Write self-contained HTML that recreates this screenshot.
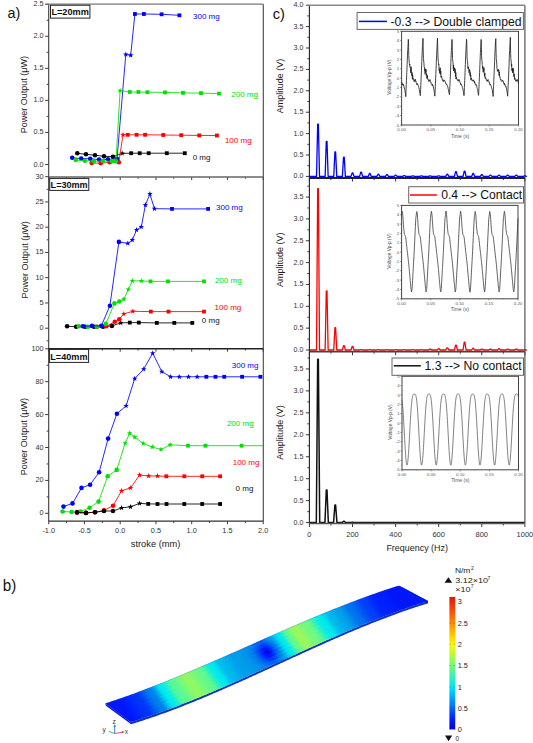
<!DOCTYPE html><html><head><meta charset="utf-8"><style>html,body{margin:0;padding:0;background:#fff;overflow:hidden}svg text{font-family:"Liberation Sans",sans-serif}</style></head><body><svg width="533" height="743" viewBox="0 0 533 743" style="display:block" font-family='"Liberation Sans", sans-serif'>
<rect x="0" y="0" width="533" height="743" fill="#ffffff"/>
<line x1="45.2" y1="164.5" x2="48.7" y2="164.5" stroke="#3a3a3a" stroke-width="1"/>
<line x1="46.7" y1="148.47" x2="48.7" y2="148.47" stroke="#3a3a3a" stroke-width="1"/>
<line x1="45.2" y1="132.45" x2="48.7" y2="132.45" stroke="#3a3a3a" stroke-width="1"/>
<line x1="46.7" y1="116.43" x2="48.7" y2="116.43" stroke="#3a3a3a" stroke-width="1"/>
<line x1="45.2" y1="100.4" x2="48.7" y2="100.4" stroke="#3a3a3a" stroke-width="1"/>
<line x1="46.7" y1="84.38" x2="48.7" y2="84.38" stroke="#3a3a3a" stroke-width="1"/>
<line x1="45.2" y1="68.35" x2="48.7" y2="68.35" stroke="#3a3a3a" stroke-width="1"/>
<line x1="46.7" y1="52.33" x2="48.7" y2="52.33" stroke="#3a3a3a" stroke-width="1"/>
<line x1="45.2" y1="36.3" x2="48.7" y2="36.3" stroke="#3a3a3a" stroke-width="1"/>
<line x1="46.7" y1="20.28" x2="48.7" y2="20.28" stroke="#3a3a3a" stroke-width="1"/>
<line x1="45.2" y1="4.25" x2="48.7" y2="4.25" stroke="#3a3a3a" stroke-width="1"/>
<text x="43.6" y="166.5" font-size="7.3" fill="#333" text-anchor="end" font-weight="normal" >0.0</text>
<text x="43.6" y="134.45" font-size="7.3" fill="#333" text-anchor="end" font-weight="normal" >0.5</text>
<text x="43.6" y="102.4" font-size="7.3" fill="#333" text-anchor="end" font-weight="normal" >1.0</text>
<text x="43.6" y="70.35" font-size="7.3" fill="#333" text-anchor="end" font-weight="normal" >1.5</text>
<text x="43.6" y="38.3" font-size="7.3" fill="#333" text-anchor="end" font-weight="normal" >2.0</text>
<text x="43.6" y="6.25" font-size="7.3" fill="#333" text-anchor="end" font-weight="normal" >2.5</text>
<line x1="48.7" y1="177" x2="48.7" y2="180" stroke="#3a3a3a" stroke-width="1"/>
<line x1="66.58" y1="177" x2="66.58" y2="178.8" stroke="#3a3a3a" stroke-width="1"/>
<line x1="84.45" y1="177" x2="84.45" y2="180" stroke="#3a3a3a" stroke-width="1"/>
<line x1="102.33" y1="177" x2="102.33" y2="178.8" stroke="#3a3a3a" stroke-width="1"/>
<line x1="120.2" y1="177" x2="120.2" y2="180" stroke="#3a3a3a" stroke-width="1"/>
<line x1="138.07" y1="177" x2="138.07" y2="178.8" stroke="#3a3a3a" stroke-width="1"/>
<line x1="155.95" y1="177" x2="155.95" y2="180" stroke="#3a3a3a" stroke-width="1"/>
<line x1="173.82" y1="177" x2="173.82" y2="178.8" stroke="#3a3a3a" stroke-width="1"/>
<line x1="191.7" y1="177" x2="191.7" y2="180" stroke="#3a3a3a" stroke-width="1"/>
<line x1="209.57" y1="177" x2="209.57" y2="178.8" stroke="#3a3a3a" stroke-width="1"/>
<line x1="227.45" y1="177" x2="227.45" y2="180" stroke="#3a3a3a" stroke-width="1"/>
<line x1="245.32" y1="177" x2="245.32" y2="178.8" stroke="#3a3a3a" stroke-width="1"/>
<line x1="263.2" y1="177" x2="263.2" y2="180" stroke="#3a3a3a" stroke-width="1"/>
<text transform="translate(27.0,94.7) rotate(-90)" font-size="9" fill="#222" text-anchor="middle">Power Output (μW)</text>
<line x1="46.7" y1="340.82" x2="48.7" y2="340.82" stroke="#3a3a3a" stroke-width="1"/>
<line x1="45.2" y1="328.2" x2="48.7" y2="328.2" stroke="#3a3a3a" stroke-width="1"/>
<line x1="46.7" y1="315.57" x2="48.7" y2="315.57" stroke="#3a3a3a" stroke-width="1"/>
<line x1="45.2" y1="302.95" x2="48.7" y2="302.95" stroke="#3a3a3a" stroke-width="1"/>
<line x1="46.7" y1="290.32" x2="48.7" y2="290.32" stroke="#3a3a3a" stroke-width="1"/>
<line x1="45.2" y1="277.7" x2="48.7" y2="277.7" stroke="#3a3a3a" stroke-width="1"/>
<line x1="46.7" y1="265.07" x2="48.7" y2="265.07" stroke="#3a3a3a" stroke-width="1"/>
<line x1="45.2" y1="252.45" x2="48.7" y2="252.45" stroke="#3a3a3a" stroke-width="1"/>
<line x1="46.7" y1="239.82" x2="48.7" y2="239.82" stroke="#3a3a3a" stroke-width="1"/>
<line x1="45.2" y1="227.2" x2="48.7" y2="227.2" stroke="#3a3a3a" stroke-width="1"/>
<line x1="46.7" y1="214.57" x2="48.7" y2="214.57" stroke="#3a3a3a" stroke-width="1"/>
<line x1="45.2" y1="201.95" x2="48.7" y2="201.95" stroke="#3a3a3a" stroke-width="1"/>
<line x1="46.7" y1="189.32" x2="48.7" y2="189.32" stroke="#3a3a3a" stroke-width="1"/>
<line x1="45.2" y1="176.7" x2="48.7" y2="176.7" stroke="#3a3a3a" stroke-width="1"/>
<text x="43.6" y="330.2" font-size="7.3" fill="#333" text-anchor="end" font-weight="normal" >0</text>
<text x="43.6" y="304.95" font-size="7.3" fill="#333" text-anchor="end" font-weight="normal" >5</text>
<text x="43.6" y="279.7" font-size="7.3" fill="#333" text-anchor="end" font-weight="normal" >10</text>
<text x="43.6" y="254.45" font-size="7.3" fill="#333" text-anchor="end" font-weight="normal" >15</text>
<text x="43.6" y="229.2" font-size="7.3" fill="#333" text-anchor="end" font-weight="normal" >20</text>
<text x="43.6" y="203.95" font-size="7.3" fill="#333" text-anchor="end" font-weight="normal" >25</text>
<text x="43.6" y="178.7" font-size="7.3" fill="#333" text-anchor="end" font-weight="normal" >30</text>
<line x1="48.7" y1="348.7" x2="48.7" y2="351.7" stroke="#3a3a3a" stroke-width="1"/>
<line x1="66.58" y1="348.7" x2="66.58" y2="350.5" stroke="#3a3a3a" stroke-width="1"/>
<line x1="84.45" y1="348.7" x2="84.45" y2="351.7" stroke="#3a3a3a" stroke-width="1"/>
<line x1="102.33" y1="348.7" x2="102.33" y2="350.5" stroke="#3a3a3a" stroke-width="1"/>
<line x1="120.2" y1="348.7" x2="120.2" y2="351.7" stroke="#3a3a3a" stroke-width="1"/>
<line x1="138.07" y1="348.7" x2="138.07" y2="350.5" stroke="#3a3a3a" stroke-width="1"/>
<line x1="155.95" y1="348.7" x2="155.95" y2="351.7" stroke="#3a3a3a" stroke-width="1"/>
<line x1="173.82" y1="348.7" x2="173.82" y2="350.5" stroke="#3a3a3a" stroke-width="1"/>
<line x1="191.7" y1="348.7" x2="191.7" y2="351.7" stroke="#3a3a3a" stroke-width="1"/>
<line x1="209.57" y1="348.7" x2="209.57" y2="350.5" stroke="#3a3a3a" stroke-width="1"/>
<line x1="227.45" y1="348.7" x2="227.45" y2="351.7" stroke="#3a3a3a" stroke-width="1"/>
<line x1="245.32" y1="348.7" x2="245.32" y2="350.5" stroke="#3a3a3a" stroke-width="1"/>
<line x1="263.2" y1="348.7" x2="263.2" y2="351.7" stroke="#3a3a3a" stroke-width="1"/>
<text transform="translate(27.6,259.8) rotate(-90)" font-size="9" fill="#222" text-anchor="middle">Power Output (μW)</text>
<line x1="45.2" y1="513.3" x2="48.7" y2="513.3" stroke="#3a3a3a" stroke-width="1"/>
<line x1="46.7" y1="496.85" x2="48.7" y2="496.85" stroke="#3a3a3a" stroke-width="1"/>
<line x1="45.2" y1="480.4" x2="48.7" y2="480.4" stroke="#3a3a3a" stroke-width="1"/>
<line x1="46.7" y1="463.95" x2="48.7" y2="463.95" stroke="#3a3a3a" stroke-width="1"/>
<line x1="45.2" y1="447.5" x2="48.7" y2="447.5" stroke="#3a3a3a" stroke-width="1"/>
<line x1="46.7" y1="431.05" x2="48.7" y2="431.05" stroke="#3a3a3a" stroke-width="1"/>
<line x1="45.2" y1="414.6" x2="48.7" y2="414.6" stroke="#3a3a3a" stroke-width="1"/>
<line x1="46.7" y1="398.15" x2="48.7" y2="398.15" stroke="#3a3a3a" stroke-width="1"/>
<line x1="45.2" y1="381.7" x2="48.7" y2="381.7" stroke="#3a3a3a" stroke-width="1"/>
<line x1="46.7" y1="365.25" x2="48.7" y2="365.25" stroke="#3a3a3a" stroke-width="1"/>
<line x1="45.2" y1="348.8" x2="48.7" y2="348.8" stroke="#3a3a3a" stroke-width="1"/>
<text x="43.6" y="515.3" font-size="7.3" fill="#333" text-anchor="end" font-weight="normal" >0</text>
<text x="43.6" y="482.4" font-size="7.3" fill="#333" text-anchor="end" font-weight="normal" >20</text>
<text x="43.6" y="449.5" font-size="7.3" fill="#333" text-anchor="end" font-weight="normal" >40</text>
<text x="43.6" y="416.6" font-size="7.3" fill="#333" text-anchor="end" font-weight="normal" >60</text>
<text x="43.6" y="383.7" font-size="7.3" fill="#333" text-anchor="end" font-weight="normal" >80</text>
<text x="43.6" y="350.8" font-size="7.3" fill="#333" text-anchor="end" font-weight="normal" >100</text>
<line x1="48.7" y1="521.2" x2="48.7" y2="524.2" stroke="#3a3a3a" stroke-width="1"/>
<line x1="66.58" y1="521.2" x2="66.58" y2="523" stroke="#3a3a3a" stroke-width="1"/>
<line x1="84.45" y1="521.2" x2="84.45" y2="524.2" stroke="#3a3a3a" stroke-width="1"/>
<line x1="102.33" y1="521.2" x2="102.33" y2="523" stroke="#3a3a3a" stroke-width="1"/>
<line x1="120.2" y1="521.2" x2="120.2" y2="524.2" stroke="#3a3a3a" stroke-width="1"/>
<line x1="138.07" y1="521.2" x2="138.07" y2="523" stroke="#3a3a3a" stroke-width="1"/>
<line x1="155.95" y1="521.2" x2="155.95" y2="524.2" stroke="#3a3a3a" stroke-width="1"/>
<line x1="173.82" y1="521.2" x2="173.82" y2="523" stroke="#3a3a3a" stroke-width="1"/>
<line x1="191.7" y1="521.2" x2="191.7" y2="524.2" stroke="#3a3a3a" stroke-width="1"/>
<line x1="209.57" y1="521.2" x2="209.57" y2="523" stroke="#3a3a3a" stroke-width="1"/>
<line x1="227.45" y1="521.2" x2="227.45" y2="524.2" stroke="#3a3a3a" stroke-width="1"/>
<line x1="245.32" y1="521.2" x2="245.32" y2="523" stroke="#3a3a3a" stroke-width="1"/>
<line x1="263.2" y1="521.2" x2="263.2" y2="524.2" stroke="#3a3a3a" stroke-width="1"/>
<text transform="translate(26.8,436.6) rotate(-90)" font-size="9" fill="#222" text-anchor="middle">Power Output (μW)</text>
<line x1="48.7" y1="4.2" x2="48.7" y2="521.2" stroke="#3a3a3a" stroke-width="1.1"/>
<line x1="263.3" y1="4.2" x2="263.3" y2="521.2" stroke="#444" stroke-width="1.1"/>
<line x1="45.7" y1="4.2" x2="263.3" y2="4.2" stroke="#777" stroke-width="1.3"/>
<line x1="48.7" y1="177" x2="263.3" y2="177" stroke="#666" stroke-width="1.6"/>
<line x1="48.7" y1="348.7" x2="263.3" y2="348.7" stroke="#222" stroke-width="1.6"/>
<line x1="48.7" y1="521.2" x2="263.3" y2="521.2" stroke="#333" stroke-width="1.2"/>
<text x="48.7" y="533.2" font-size="7.3" fill="#333" text-anchor="middle" font-weight="normal" >-1.0</text>
<text x="84.45" y="533.2" font-size="7.3" fill="#333" text-anchor="middle" font-weight="normal" >-0.5</text>
<text x="120.2" y="533.2" font-size="7.3" fill="#333" text-anchor="middle" font-weight="normal" >0.0</text>
<text x="155.95" y="533.2" font-size="7.3" fill="#333" text-anchor="middle" font-weight="normal" >0.5</text>
<text x="191.7" y="533.2" font-size="7.3" fill="#333" text-anchor="middle" font-weight="normal" >1.0</text>
<text x="227.45" y="533.2" font-size="7.3" fill="#333" text-anchor="middle" font-weight="normal" >1.5</text>
<text x="263.2" y="533.2" font-size="7.3" fill="#333" text-anchor="middle" font-weight="normal" >2.0</text>
<text x="155.6" y="547" font-size="9.3" fill="#222" text-anchor="middle" font-weight="normal" >stroke (mm)</text>
<path d="M77.3,153.3 L86,154.3 L95,155.2 L104,156.3 L113,156.7 L122.2,153.4 L131.2,153.2 L139.7,153.2 L148.7,153.2 L166.8,153.2 L184.8,153.2" fill="none" stroke="#000000" stroke-width="0.85"/>
<circle cx="77.3" cy="153.3" r="2.3" fill="#000000"/>
<circle cx="86" cy="154.3" r="2.3" fill="#000000"/>
<circle cx="95" cy="155.2" r="2.3" fill="#000000"/>
<circle cx="104" cy="156.3" r="2.3" fill="#000000"/>
<circle cx="113" cy="156.7" r="2.3" fill="#000000"/>
<polygon points="122.2,150.5 122.91,152.43 124.96,152.5 123.34,153.77 123.9,155.75 122.2,154.6 120.5,155.75 121.06,153.77 119.44,152.5 121.49,152.43" fill="#000000"/>
<rect x="129.3" y="151.3" width="3.8" height="3.8" fill="#000000"/>
<rect x="137.8" y="151.3" width="3.8" height="3.8" fill="#000000"/>
<rect x="146.8" y="151.3" width="3.8" height="3.8" fill="#000000"/>
<rect x="164.9" y="151.3" width="3.8" height="3.8" fill="#000000"/>
<rect x="182.9" y="151.3" width="3.8" height="3.8" fill="#000000"/>
<path d="M91.7,163 L100.7,163.3 L109.8,162.3 L118.8,162.3 L123,134.8 L127.8,134.8 L136.6,134.8 L145.1,134.8 L163.2,135 L181.2,135.2 L199.2,135.4 L216.9,135.5" fill="none" stroke="#ff0000" stroke-width="0.85"/>
<circle cx="91.7" cy="163" r="2.3" fill="#ff0000"/>
<circle cx="100.7" cy="163.3" r="2.3" fill="#ff0000"/>
<circle cx="109.8" cy="162.3" r="2.3" fill="#ff0000"/>
<circle cx="118.8" cy="162.3" r="2.3" fill="#ff0000"/>
<polygon points="123,131.9 123.71,133.83 125.76,133.9 124.14,135.17 124.7,137.15 123,136 121.3,137.15 121.86,135.17 120.24,133.9 122.29,133.83" fill="#ff0000"/>
<rect x="125.9" y="132.9" width="3.8" height="3.8" fill="#ff0000"/>
<rect x="134.7" y="132.9" width="3.8" height="3.8" fill="#ff0000"/>
<rect x="143.2" y="132.9" width="3.8" height="3.8" fill="#ff0000"/>
<rect x="161.3" y="133.1" width="3.8" height="3.8" fill="#ff0000"/>
<rect x="179.3" y="133.3" width="3.8" height="3.8" fill="#ff0000"/>
<rect x="197.3" y="133.5" width="3.8" height="3.8" fill="#ff0000"/>
<rect x="215" y="133.6" width="3.8" height="3.8" fill="#ff0000"/>
<path d="M72.2,157.8 L81.2,158.5 L90.2,158.8 L99,159.6 L108,159.3 L117,159 L125.8,54.4 L130.7,55.3 L134.9,14 L143.9,14 L161.6,14.3 L179.4,15.3" fill="none" stroke="#0000ff" stroke-width="0.85"/>
<circle cx="72.2" cy="157.8" r="2.3" fill="#0000ff"/>
<circle cx="81.2" cy="158.5" r="2.3" fill="#0000ff"/>
<circle cx="90.2" cy="158.8" r="2.3" fill="#0000ff"/>
<circle cx="99" cy="159.6" r="2.3" fill="#0000ff"/>
<circle cx="108" cy="159.3" r="2.3" fill="#0000ff"/>
<circle cx="117" cy="159" r="2.3" fill="#0000ff"/>
<polygon points="125.8,51.5 126.51,53.43 128.56,53.5 126.94,54.77 127.5,56.75 125.8,55.6 124.1,56.75 124.66,54.77 123.04,53.5 125.09,53.43" fill="#0000ff"/>
<polygon points="130.7,52.4 131.41,54.33 133.46,54.4 131.84,55.67 132.4,57.65 130.7,56.5 129,57.65 129.56,55.67 127.94,54.4 129.99,54.33" fill="#0000ff"/>
<rect x="133" y="12.1" width="3.8" height="3.8" fill="#0000ff"/>
<rect x="142" y="12.1" width="3.8" height="3.8" fill="#0000ff"/>
<rect x="159.7" y="12.4" width="3.8" height="3.8" fill="#0000ff"/>
<rect x="177.5" y="13.4" width="3.8" height="3.8" fill="#0000ff"/>
<path d="M75.8,160 L84.8,160.8 L93.8,161.2 L102.8,161 L111.9,161.2 L116,161.2 L120.1,90.6 L129.8,92 L138.4,92 L147.4,92.2 L165,92.4 L183,92.9 L201,93.1 L219,93.6" fill="none" stroke="#00e000" stroke-width="0.85"/>
<circle cx="75.8" cy="160" r="2.3" fill="#00e000"/>
<circle cx="84.8" cy="160.8" r="2.3" fill="#00e000"/>
<circle cx="93.8" cy="161.2" r="2.3" fill="#00e000"/>
<circle cx="102.8" cy="161" r="2.3" fill="#00e000"/>
<circle cx="111.9" cy="161.2" r="2.3" fill="#00e000"/>
<circle cx="116" cy="161.2" r="2.3" fill="#00e000"/>
<polygon points="120.1,87.7 120.81,89.63 122.86,89.7 121.24,90.97 121.8,92.95 120.1,91.8 118.4,92.95 118.96,90.97 117.34,89.7 119.39,89.63" fill="#00e000"/>
<rect x="127.9" y="90.1" width="3.8" height="3.8" fill="#00e000"/>
<rect x="136.5" y="90.1" width="3.8" height="3.8" fill="#00e000"/>
<rect x="145.5" y="90.3" width="3.8" height="3.8" fill="#00e000"/>
<rect x="163.1" y="90.5" width="3.8" height="3.8" fill="#00e000"/>
<rect x="181.1" y="91" width="3.8" height="3.8" fill="#00e000"/>
<rect x="199.1" y="91.2" width="3.8" height="3.8" fill="#00e000"/>
<rect x="217.1" y="91.7" width="3.8" height="3.8" fill="#00e000"/>
<text x="193" y="19.4" font-size="8" fill="#0000ff" text-anchor="start" font-weight="normal" >300 mg</text>
<text x="231.3" y="96.9" font-size="8" fill="#00e000" text-anchor="start" font-weight="normal" >200 mg</text>
<text x="224.9" y="142.5" font-size="8" fill="#ff0000" text-anchor="start" font-weight="normal" >100 mg</text>
<text x="192.7" y="159.7" font-size="8" fill="#111" text-anchor="start" font-weight="normal" >0 mg</text>
<path d="M67.1,326.3 L76.1,326.7 L85.1,326.7 L94.1,326.7 L103.1,326.7 L111.9,325.9 L120.8,322.9 L129.8,322.6 L138.8,322.6 L156.8,322.9 L174.3,322.9 L192.3,322.9" fill="none" stroke="#000000" stroke-width="0.85"/>
<circle cx="67.1" cy="326.3" r="2.3" fill="#000000"/>
<circle cx="76.1" cy="326.7" r="2.3" fill="#000000"/>
<circle cx="85.1" cy="326.7" r="2.3" fill="#000000"/>
<circle cx="94.1" cy="326.7" r="2.3" fill="#000000"/>
<circle cx="103.1" cy="326.7" r="2.3" fill="#000000"/>
<circle cx="111.9" cy="325.9" r="2.3" fill="#000000"/>
<polygon points="120.8,320 121.51,321.93 123.56,322 121.94,323.27 122.5,325.25 120.8,324.1 119.1,325.25 119.66,323.27 118.04,322 120.09,321.93" fill="#000000"/>
<rect x="127.9" y="320.7" width="3.8" height="3.8" fill="#000000"/>
<rect x="136.9" y="320.7" width="3.8" height="3.8" fill="#000000"/>
<rect x="154.9" y="321" width="3.8" height="3.8" fill="#000000"/>
<rect x="172.4" y="321" width="3.8" height="3.8" fill="#000000"/>
<rect x="190.4" y="321" width="3.8" height="3.8" fill="#000000"/>
<path d="M97,326.7 L106.2,326.3 L114.8,321.8 L119.3,319.2 L123.8,313.9 L132.8,311.3 L150.8,311.6 L168.5,311.6 L204,311.6" fill="none" stroke="#ff0000" stroke-width="0.85"/>
<circle cx="97" cy="326.7" r="2.3" fill="#ff0000"/>
<circle cx="106.2" cy="326.3" r="2.3" fill="#ff0000"/>
<circle cx="114.8" cy="321.8" r="2.3" fill="#ff0000"/>
<circle cx="119.3" cy="319.2" r="2.3" fill="#ff0000"/>
<polygon points="123.8,311 124.51,312.93 126.56,313 124.94,314.27 125.5,316.25 123.8,315.1 122.1,316.25 122.66,314.27 121.04,313 123.09,312.93" fill="#ff0000"/>
<polygon points="132.8,308.4 133.51,310.33 135.56,310.4 133.94,311.67 134.5,313.65 132.8,312.5 131.1,313.65 131.66,311.67 130.04,310.4 132.09,310.33" fill="#ff0000"/>
<rect x="148.9" y="309.7" width="3.8" height="3.8" fill="#ff0000"/>
<rect x="166.6" y="309.7" width="3.8" height="3.8" fill="#ff0000"/>
<rect x="202.1" y="309.7" width="3.8" height="3.8" fill="#ff0000"/>
<path d="M78.8,326.3 L87.8,326.7 L96.8,326.7 L105.8,323.9 L114.4,303.4 L119.3,301.5 L123.8,299.3 L128.3,289.5 L132.4,280.9 L141.4,280.9 L150.5,281.4 L168,281.4 L204,281.4" fill="none" stroke="#00e000" stroke-width="0.85"/>
<circle cx="78.8" cy="326.3" r="2.3" fill="#00e000"/>
<circle cx="87.8" cy="326.7" r="2.3" fill="#00e000"/>
<circle cx="96.8" cy="326.7" r="2.3" fill="#00e000"/>
<circle cx="105.8" cy="323.9" r="2.3" fill="#00e000"/>
<circle cx="114.4" cy="303.4" r="2.3" fill="#00e000"/>
<circle cx="119.3" cy="301.5" r="2.3" fill="#00e000"/>
<polygon points="123.8,296.4 124.51,298.33 126.56,298.4 124.94,299.67 125.5,301.65 123.8,300.5 122.1,301.65 122.66,299.67 121.04,298.4 123.09,298.33" fill="#00e000"/>
<polygon points="128.3,286.6 129.01,288.53 131.06,288.6 129.44,289.87 130,291.85 128.3,290.7 126.6,291.85 127.16,289.87 125.54,288.6 127.59,288.53" fill="#00e000"/>
<polygon points="132.4,278 133.11,279.93 135.16,280 133.54,281.27 134.1,283.25 132.4,282.1 130.7,283.25 131.26,281.27 129.64,280 131.69,279.93" fill="#00e000"/>
<polygon points="141.4,278 142.11,279.93 144.16,280 142.54,281.27 143.1,283.25 141.4,282.1 139.7,283.25 140.26,281.27 138.64,280 140.69,279.93" fill="#00e000"/>
<rect x="148.6" y="279.5" width="3.8" height="3.8" fill="#00e000"/>
<rect x="166.1" y="279.5" width="3.8" height="3.8" fill="#00e000"/>
<rect x="202.1" y="279.5" width="3.8" height="3.8" fill="#00e000"/>
<path d="M82.9,326.3 L91.9,325.9 L101.3,325.9 L109.9,305.7 L118.9,241.9 L127.8,243.4 L132.3,240 L136.6,229.9 L141.3,226.9 L145.4,205 L149.9,194 L154.4,208.7 L172,208.9 L208.1,208.9" fill="none" stroke="#0000ff" stroke-width="0.85"/>
<circle cx="82.9" cy="326.3" r="2.3" fill="#0000ff"/>
<circle cx="91.9" cy="325.9" r="2.3" fill="#0000ff"/>
<circle cx="101.3" cy="325.9" r="2.3" fill="#0000ff"/>
<circle cx="109.9" cy="305.7" r="2.3" fill="#0000ff"/>
<circle cx="118.9" cy="241.9" r="2.3" fill="#0000ff"/>
<polygon points="127.8,240.5 128.51,242.43 130.56,242.5 128.94,243.77 129.5,245.75 127.8,244.6 126.1,245.75 126.66,243.77 125.04,242.5 127.09,242.43" fill="#0000ff"/>
<polygon points="132.3,237.1 133.01,239.03 135.06,239.1 133.44,240.37 134,242.35 132.3,241.2 130.6,242.35 131.16,240.37 129.54,239.1 131.59,239.03" fill="#0000ff"/>
<polygon points="136.6,227 137.31,228.93 139.36,229 137.74,230.27 138.3,232.25 136.6,231.1 134.9,232.25 135.46,230.27 133.84,229 135.89,228.93" fill="#0000ff"/>
<polygon points="141.3,224 142.01,225.93 144.06,226 142.44,227.27 143,229.25 141.3,228.1 139.6,229.25 140.16,227.27 138.54,226 140.59,225.93" fill="#0000ff"/>
<polygon points="145.4,202.1 146.11,204.03 148.16,204.1 146.54,205.37 147.1,207.35 145.4,206.2 143.7,207.35 144.26,205.37 142.64,204.1 144.69,204.03" fill="#0000ff"/>
<polygon points="149.9,191.1 150.61,193.03 152.66,193.1 151.04,194.37 151.6,196.35 149.9,195.2 148.2,196.35 148.76,194.37 147.14,193.1 149.19,193.03" fill="#0000ff"/>
<polygon points="154.4,205.8 155.11,207.73 157.16,207.8 155.54,209.07 156.1,211.05 154.4,209.9 152.7,211.05 153.26,209.07 151.64,207.8 153.69,207.73" fill="#0000ff"/>
<rect x="170.1" y="207" width="3.8" height="3.8" fill="#0000ff"/>
<rect x="206.2" y="207" width="3.8" height="3.8" fill="#0000ff"/>
<text x="216" y="210.3" font-size="8" fill="#0000ff" text-anchor="start" font-weight="normal" >300 mg</text>
<text x="214.9" y="282.7" font-size="8" fill="#00e000" text-anchor="start" font-weight="normal" >200 mg</text>
<text x="214.6" y="310.3" font-size="8" fill="#ff0000" text-anchor="start" font-weight="normal" >100 mg</text>
<text x="201.8" y="322.7" font-size="8" fill="#111" text-anchor="start" font-weight="normal" >0 mg</text>
<path d="M241.6,445.7 L263.3,445.7" fill="none" stroke="#00e000" stroke-width="0.85"/>
<path d="M63.5,506.6 L72.5,503.4 L81.5,487.9 L90.1,484.7 L99.1,472.3 L108.1,438.6 L116.9,413.7 L126.1,405.9 L134.7,378.6 L143.7,369.1 L152.7,353.2 L161.8,371.6 L170.6,376.8 L179.3,376.8 L188.5,376.8 L197.2,376.8 L206.3,376.8 L215.5,376.8 L224.2,376.8 L242.1,376.8 L260.4,376.8" fill="none" stroke="#0000ff" stroke-width="0.85"/>
<circle cx="63.5" cy="506.6" r="2.3" fill="#0000ff"/>
<circle cx="72.5" cy="503.4" r="2.3" fill="#0000ff"/>
<circle cx="81.5" cy="487.9" r="2.3" fill="#0000ff"/>
<circle cx="90.1" cy="484.7" r="2.3" fill="#0000ff"/>
<circle cx="99.1" cy="472.3" r="2.3" fill="#0000ff"/>
<circle cx="108.1" cy="438.6" r="2.3" fill="#0000ff"/>
<circle cx="116.9" cy="413.7" r="2.3" fill="#0000ff"/>
<polygon points="126.1,403 126.81,404.93 128.86,405 127.24,406.27 127.8,408.25 126.1,407.1 124.4,408.25 124.96,406.27 123.34,405 125.39,404.93" fill="#0000ff"/>
<polygon points="134.7,375.7 135.41,377.63 137.46,377.7 135.84,378.97 136.4,380.95 134.7,379.8 133,380.95 133.56,378.97 131.94,377.7 133.99,377.63" fill="#0000ff"/>
<polygon points="143.7,366.2 144.41,368.13 146.46,368.2 144.84,369.47 145.4,371.45 143.7,370.3 142,371.45 142.56,369.47 140.94,368.2 142.99,368.13" fill="#0000ff"/>
<polygon points="152.7,350.3 153.41,352.23 155.46,352.3 153.84,353.57 154.4,355.55 152.7,354.4 151,355.55 151.56,353.57 149.94,352.3 151.99,352.23" fill="#0000ff"/>
<polygon points="161.8,368.7 162.51,370.63 164.56,370.7 162.94,371.97 163.5,373.95 161.8,372.8 160.1,373.95 160.66,371.97 159.04,370.7 161.09,370.63" fill="#0000ff"/>
<polygon points="170.6,373.9 171.31,375.83 173.36,375.9 171.74,377.17 172.3,379.15 170.6,378 168.9,379.15 169.46,377.17 167.84,375.9 169.89,375.83" fill="#0000ff"/>
<polygon points="179.3,373.9 180.01,375.83 182.06,375.9 180.44,377.17 181,379.15 179.3,378 177.6,379.15 178.16,377.17 176.54,375.9 178.59,375.83" fill="#0000ff"/>
<polygon points="188.5,373.9 189.21,375.83 191.26,375.9 189.64,377.17 190.2,379.15 188.5,378 186.8,379.15 187.36,377.17 185.74,375.9 187.79,375.83" fill="#0000ff"/>
<polygon points="197.2,373.9 197.91,375.83 199.96,375.9 198.34,377.17 198.9,379.15 197.2,378 195.5,379.15 196.06,377.17 194.44,375.9 196.49,375.83" fill="#0000ff"/>
<rect x="204.4" y="374.9" width="3.8" height="3.8" fill="#0000ff"/>
<rect x="213.6" y="374.9" width="3.8" height="3.8" fill="#0000ff"/>
<rect x="222.3" y="374.9" width="3.8" height="3.8" fill="#0000ff"/>
<rect x="240.2" y="374.9" width="3.8" height="3.8" fill="#0000ff"/>
<rect x="258.5" y="374.9" width="3.8" height="3.8" fill="#0000ff"/>
<path d="M62.6,511.5 L71.6,512 L80.6,511.5 L89.6,507.7 L98.6,501.6 L107.7,476.2 L116.7,469.9 L125.2,443.1 L129.7,433.2 L134.7,437.2 L143.2,443.5 L152.3,447 L161,449.5 L170.2,444.8 L188,445.7 L205.4,445.7 L241.6,445.7" fill="none" stroke="#00e000" stroke-width="0.85"/>
<circle cx="62.6" cy="511.5" r="2.3" fill="#00e000"/>
<circle cx="71.6" cy="512" r="2.3" fill="#00e000"/>
<circle cx="80.6" cy="511.5" r="2.3" fill="#00e000"/>
<circle cx="89.6" cy="507.7" r="2.3" fill="#00e000"/>
<circle cx="98.6" cy="501.6" r="2.3" fill="#00e000"/>
<circle cx="107.7" cy="476.2" r="2.3" fill="#00e000"/>
<circle cx="116.7" cy="469.9" r="2.3" fill="#00e000"/>
<polygon points="125.2,440.2 125.91,442.13 127.96,442.2 126.34,443.47 126.9,445.45 125.2,444.3 123.5,445.45 124.06,443.47 122.44,442.2 124.49,442.13" fill="#00e000"/>
<polygon points="129.7,430.3 130.41,432.23 132.46,432.3 130.84,433.57 131.4,435.55 129.7,434.4 128,435.55 128.56,433.57 126.94,432.3 128.99,432.23" fill="#00e000"/>
<polygon points="134.7,434.3 135.41,436.23 137.46,436.3 135.84,437.57 136.4,439.55 134.7,438.4 133,439.55 133.56,437.57 131.94,436.3 133.99,436.23" fill="#00e000"/>
<polygon points="143.2,440.6 143.91,442.53 145.96,442.6 144.34,443.87 144.9,445.85 143.2,444.7 141.5,445.85 142.06,443.87 140.44,442.6 142.49,442.53" fill="#00e000"/>
<polygon points="152.3,444.1 153.01,446.03 155.06,446.1 153.44,447.37 154,449.35 152.3,448.2 150.6,449.35 151.16,447.37 149.54,446.1 151.59,446.03" fill="#00e000"/>
<polygon points="161,446.6 161.71,448.53 163.76,448.6 162.14,449.87 162.7,451.85 161,450.7 159.3,451.85 159.86,449.87 158.24,448.6 160.29,448.53" fill="#00e000"/>
<polygon points="170.2,441.9 170.91,443.83 172.96,443.9 171.34,445.17 171.9,447.15 170.2,446 168.5,447.15 169.06,445.17 167.44,443.9 169.49,443.83" fill="#00e000"/>
<rect x="186.1" y="443.8" width="3.8" height="3.8" fill="#00e000"/>
<rect x="203.5" y="443.8" width="3.8" height="3.8" fill="#00e000"/>
<rect x="239.7" y="443.8" width="3.8" height="3.8" fill="#00e000"/>
<path d="M77,512.4 L86,512.9 L95,512.2 L104,510.4 L113,505.7 L121.6,490.8 L130.6,487.9 L139.6,475 L148.6,476 L157.5,476 L166.3,476.3 L184.3,476.3 L202.2,476.3 L220.1,476.3" fill="none" stroke="#ff0000" stroke-width="0.85"/>
<circle cx="77" cy="512.4" r="2.3" fill="#ff0000"/>
<circle cx="86" cy="512.9" r="2.3" fill="#ff0000"/>
<circle cx="95" cy="512.2" r="2.3" fill="#ff0000"/>
<circle cx="104" cy="510.4" r="2.3" fill="#ff0000"/>
<circle cx="113" cy="505.7" r="2.3" fill="#ff0000"/>
<polygon points="121.6,487.9 122.31,489.83 124.36,489.9 122.74,491.17 123.3,493.15 121.6,492 119.9,493.15 120.46,491.17 118.84,489.9 120.89,489.83" fill="#ff0000"/>
<polygon points="130.6,485 131.31,486.93 133.36,487 131.74,488.27 132.3,490.25 130.6,489.1 128.9,490.25 129.46,488.27 127.84,487 129.89,486.93" fill="#ff0000"/>
<polygon points="139.6,472.1 140.31,474.03 142.36,474.1 140.74,475.37 141.3,477.35 139.6,476.2 137.9,477.35 138.46,475.37 136.84,474.1 138.89,474.03" fill="#ff0000"/>
<polygon points="148.6,473.1 149.31,475.03 151.36,475.1 149.74,476.37 150.3,478.35 148.6,477.2 146.9,478.35 147.46,476.37 145.84,475.1 147.89,475.03" fill="#ff0000"/>
<polygon points="157.5,473.1 158.21,475.03 160.26,475.1 158.64,476.37 159.2,478.35 157.5,477.2 155.8,478.35 156.36,476.37 154.74,475.1 156.79,475.03" fill="#ff0000"/>
<rect x="164.4" y="474.4" width="3.8" height="3.8" fill="#ff0000"/>
<rect x="182.4" y="474.4" width="3.8" height="3.8" fill="#ff0000"/>
<rect x="200.3" y="474.4" width="3.8" height="3.8" fill="#ff0000"/>
<rect x="218.2" y="474.4" width="3.8" height="3.8" fill="#ff0000"/>
<path d="M77,512.4 L86,512.9 L95,512.2 L104,511 L113,511 L121.6,507.9 L130.6,506.8 L139.6,503.4 L148.2,503.9 L157.5,504 L166.5,504 L184.3,504 L202.2,504 L220.1,504" fill="none" stroke="#000000" stroke-width="0.85"/>
<circle cx="77" cy="512.4" r="2.3" fill="#000000"/>
<circle cx="86" cy="512.9" r="2.3" fill="#000000"/>
<circle cx="95" cy="512.2" r="2.3" fill="#000000"/>
<circle cx="104" cy="511" r="2.3" fill="#000000"/>
<circle cx="113" cy="511" r="2.3" fill="#000000"/>
<polygon points="121.6,505 122.31,506.93 124.36,507 122.74,508.27 123.3,510.25 121.6,509.1 119.9,510.25 120.46,508.27 118.84,507 120.89,506.93" fill="#000000"/>
<polygon points="130.6,503.9 131.31,505.83 133.36,505.9 131.74,507.17 132.3,509.15 130.6,508 128.9,509.15 129.46,507.17 127.84,505.9 129.89,505.83" fill="#000000"/>
<polygon points="139.6,500.5 140.31,502.43 142.36,502.5 140.74,503.77 141.3,505.75 139.6,504.6 137.9,505.75 138.46,503.77 136.84,502.5 138.89,502.43" fill="#000000"/>
<rect x="146.3" y="502" width="3.8" height="3.8" fill="#000000"/>
<rect x="155.6" y="502.1" width="3.8" height="3.8" fill="#000000"/>
<rect x="164.6" y="502.1" width="3.8" height="3.8" fill="#000000"/>
<rect x="182.4" y="502.1" width="3.8" height="3.8" fill="#000000"/>
<rect x="200.3" y="502.1" width="3.8" height="3.8" fill="#000000"/>
<rect x="218.2" y="502.1" width="3.8" height="3.8" fill="#000000"/>
<text x="231.8" y="367.8" font-size="8" fill="#0000ff" text-anchor="start" font-weight="normal" >300 mg</text>
<text x="226.9" y="426" font-size="8" fill="#00e000" text-anchor="start" font-weight="normal" >200 mg</text>
<text x="232.7" y="465.4" font-size="8" fill="#ff0000" text-anchor="start" font-weight="normal" >100 mg</text>
<text x="235.6" y="491" font-size="8" fill="#111" text-anchor="start" font-weight="normal" >0 mg</text>
<rect x="50.5" y="5.25" width="39.4" height="12.85" fill="#fff" stroke="#222" stroke-width="1"/>
<text x="51.4" y="15.1" font-size="9.8" fill="#111" text-anchor="start" font-weight="bold" textLength="37.4" lengthAdjust="spacingAndGlyphs">L=20mm</text>
<rect x="49.7" y="178.4" width="39.1" height="12" fill="#fff" stroke="#222" stroke-width="1"/>
<text x="50.6" y="187.7" font-size="9.8" fill="#111" text-anchor="start" font-weight="bold" textLength="37.1" lengthAdjust="spacingAndGlyphs">L=30mm</text>
<rect x="49.4" y="349.4" width="39.2" height="13" fill="#fff" stroke="#222" stroke-width="1"/>
<text x="50.3" y="359.5" font-size="9.8" fill="#111" text-anchor="start" font-weight="bold" textLength="37.2" lengthAdjust="spacingAndGlyphs">L=40mm</text>
<text x="7.6" y="17.9" font-size="15.5" fill="#111" text-anchor="start" font-weight="normal" textLength="12.8" lengthAdjust="spacingAndGlyphs">a)</text>
<text x="2.8" y="591.4" font-size="16.5" fill="#111" text-anchor="start" font-weight="normal" textLength="13.5" lengthAdjust="spacingAndGlyphs">b)</text>
<text x="272.8" y="18.9" font-size="15.5" fill="#111" text-anchor="start" font-weight="normal" textLength="12.2" lengthAdjust="spacingAndGlyphs">c)</text>
<line x1="305.9" y1="176.4" x2="309.4" y2="176.4" stroke="#3a3a3a" stroke-width="1"/>
<line x1="307.4" y1="165.7" x2="309.4" y2="165.7" stroke="#3a3a3a" stroke-width="1"/>
<line x1="305.9" y1="155" x2="309.4" y2="155" stroke="#3a3a3a" stroke-width="1"/>
<line x1="307.4" y1="144.3" x2="309.4" y2="144.3" stroke="#3a3a3a" stroke-width="1"/>
<line x1="305.9" y1="133.6" x2="309.4" y2="133.6" stroke="#3a3a3a" stroke-width="1"/>
<line x1="307.4" y1="122.9" x2="309.4" y2="122.9" stroke="#3a3a3a" stroke-width="1"/>
<line x1="305.9" y1="112.2" x2="309.4" y2="112.2" stroke="#3a3a3a" stroke-width="1"/>
<line x1="307.4" y1="101.5" x2="309.4" y2="101.5" stroke="#3a3a3a" stroke-width="1"/>
<line x1="305.9" y1="90.8" x2="309.4" y2="90.8" stroke="#3a3a3a" stroke-width="1"/>
<line x1="307.4" y1="80.1" x2="309.4" y2="80.1" stroke="#3a3a3a" stroke-width="1"/>
<line x1="305.9" y1="69.4" x2="309.4" y2="69.4" stroke="#3a3a3a" stroke-width="1"/>
<line x1="307.4" y1="58.7" x2="309.4" y2="58.7" stroke="#3a3a3a" stroke-width="1"/>
<line x1="305.9" y1="48" x2="309.4" y2="48" stroke="#3a3a3a" stroke-width="1"/>
<line x1="307.4" y1="37.3" x2="309.4" y2="37.3" stroke="#3a3a3a" stroke-width="1"/>
<line x1="305.9" y1="26.6" x2="309.4" y2="26.6" stroke="#3a3a3a" stroke-width="1"/>
<line x1="307.4" y1="15.9" x2="309.4" y2="15.9" stroke="#3a3a3a" stroke-width="1"/>
<line x1="305.9" y1="5.2" x2="309.4" y2="5.2" stroke="#3a3a3a" stroke-width="1"/>
<text x="303.4" y="178.4" font-size="7.1" fill="#333" text-anchor="end" font-weight="normal" >0.0</text>
<text x="303.4" y="157" font-size="7.1" fill="#333" text-anchor="end" font-weight="normal" >0.5</text>
<text x="303.4" y="135.6" font-size="7.1" fill="#333" text-anchor="end" font-weight="normal" >1.0</text>
<text x="303.4" y="114.2" font-size="7.1" fill="#333" text-anchor="end" font-weight="normal" >1.5</text>
<text x="303.4" y="92.8" font-size="7.1" fill="#333" text-anchor="end" font-weight="normal" >2.0</text>
<text x="303.4" y="71.4" font-size="7.1" fill="#333" text-anchor="end" font-weight="normal" >2.5</text>
<text x="303.4" y="50" font-size="7.1" fill="#333" text-anchor="end" font-weight="normal" >3.0</text>
<text x="303.4" y="28.6" font-size="7.1" fill="#333" text-anchor="end" font-weight="normal" >3.5</text>
<text x="303.4" y="7.2" font-size="7.1" fill="#333" text-anchor="end" font-weight="normal" >4.0</text>
<line x1="309.4" y1="178" x2="309.4" y2="181.5" stroke="#3a3a3a" stroke-width="1"/>
<line x1="330.95" y1="178" x2="330.95" y2="180" stroke="#3a3a3a" stroke-width="1"/>
<line x1="352.5" y1="178" x2="352.5" y2="181.5" stroke="#3a3a3a" stroke-width="1"/>
<line x1="374.05" y1="178" x2="374.05" y2="180" stroke="#3a3a3a" stroke-width="1"/>
<line x1="395.6" y1="178" x2="395.6" y2="181.5" stroke="#3a3a3a" stroke-width="1"/>
<line x1="417.15" y1="178" x2="417.15" y2="180" stroke="#3a3a3a" stroke-width="1"/>
<line x1="438.7" y1="178" x2="438.7" y2="181.5" stroke="#3a3a3a" stroke-width="1"/>
<line x1="460.25" y1="178" x2="460.25" y2="180" stroke="#3a3a3a" stroke-width="1"/>
<line x1="481.8" y1="178" x2="481.8" y2="181.5" stroke="#3a3a3a" stroke-width="1"/>
<line x1="503.35" y1="178" x2="503.35" y2="180" stroke="#3a3a3a" stroke-width="1"/>
<line x1="524.9" y1="178" x2="524.9" y2="181.5" stroke="#3a3a3a" stroke-width="1"/>
<text transform="translate(283,86.1) rotate(-90)" font-size="9" fill="#222" text-anchor="middle">Amplitude (V)</text>
<line x1="305.9" y1="350" x2="309.4" y2="350" stroke="#3a3a3a" stroke-width="1"/>
<line x1="307.4" y1="339.07" x2="309.4" y2="339.07" stroke="#3a3a3a" stroke-width="1"/>
<line x1="305.9" y1="328.15" x2="309.4" y2="328.15" stroke="#3a3a3a" stroke-width="1"/>
<line x1="307.4" y1="317.23" x2="309.4" y2="317.23" stroke="#3a3a3a" stroke-width="1"/>
<line x1="305.9" y1="306.3" x2="309.4" y2="306.3" stroke="#3a3a3a" stroke-width="1"/>
<line x1="307.4" y1="295.38" x2="309.4" y2="295.38" stroke="#3a3a3a" stroke-width="1"/>
<line x1="305.9" y1="284.45" x2="309.4" y2="284.45" stroke="#3a3a3a" stroke-width="1"/>
<line x1="307.4" y1="273.52" x2="309.4" y2="273.52" stroke="#3a3a3a" stroke-width="1"/>
<line x1="305.9" y1="262.6" x2="309.4" y2="262.6" stroke="#3a3a3a" stroke-width="1"/>
<line x1="307.4" y1="251.68" x2="309.4" y2="251.68" stroke="#3a3a3a" stroke-width="1"/>
<line x1="305.9" y1="240.75" x2="309.4" y2="240.75" stroke="#3a3a3a" stroke-width="1"/>
<line x1="307.4" y1="229.82" x2="309.4" y2="229.82" stroke="#3a3a3a" stroke-width="1"/>
<line x1="305.9" y1="218.9" x2="309.4" y2="218.9" stroke="#3a3a3a" stroke-width="1"/>
<line x1="307.4" y1="207.97" x2="309.4" y2="207.97" stroke="#3a3a3a" stroke-width="1"/>
<line x1="305.9" y1="197.05" x2="309.4" y2="197.05" stroke="#3a3a3a" stroke-width="1"/>
<line x1="307.4" y1="186.12" x2="309.4" y2="186.12" stroke="#3a3a3a" stroke-width="1"/>
<text x="303.4" y="352" font-size="7.1" fill="#333" text-anchor="end" font-weight="normal" >0.0</text>
<text x="303.4" y="330.15" font-size="7.1" fill="#333" text-anchor="end" font-weight="normal" >0.5</text>
<text x="303.4" y="308.3" font-size="7.1" fill="#333" text-anchor="end" font-weight="normal" >1.0</text>
<text x="303.4" y="286.45" font-size="7.1" fill="#333" text-anchor="end" font-weight="normal" >1.5</text>
<text x="303.4" y="264.6" font-size="7.1" fill="#333" text-anchor="end" font-weight="normal" >2.0</text>
<text x="303.4" y="242.75" font-size="7.1" fill="#333" text-anchor="end" font-weight="normal" >2.5</text>
<text x="303.4" y="220.9" font-size="7.1" fill="#333" text-anchor="end" font-weight="normal" >3.0</text>
<text x="303.4" y="199.05" font-size="7.1" fill="#333" text-anchor="end" font-weight="normal" >3.5</text>
<line x1="309.4" y1="351.7" x2="309.4" y2="355.2" stroke="#3a3a3a" stroke-width="1"/>
<line x1="330.95" y1="351.7" x2="330.95" y2="353.7" stroke="#3a3a3a" stroke-width="1"/>
<line x1="352.5" y1="351.7" x2="352.5" y2="355.2" stroke="#3a3a3a" stroke-width="1"/>
<line x1="374.05" y1="351.7" x2="374.05" y2="353.7" stroke="#3a3a3a" stroke-width="1"/>
<line x1="395.6" y1="351.7" x2="395.6" y2="355.2" stroke="#3a3a3a" stroke-width="1"/>
<line x1="417.15" y1="351.7" x2="417.15" y2="353.7" stroke="#3a3a3a" stroke-width="1"/>
<line x1="438.7" y1="351.7" x2="438.7" y2="355.2" stroke="#3a3a3a" stroke-width="1"/>
<line x1="460.25" y1="351.7" x2="460.25" y2="353.7" stroke="#3a3a3a" stroke-width="1"/>
<line x1="481.8" y1="351.7" x2="481.8" y2="355.2" stroke="#3a3a3a" stroke-width="1"/>
<line x1="503.35" y1="351.7" x2="503.35" y2="353.7" stroke="#3a3a3a" stroke-width="1"/>
<line x1="524.9" y1="351.7" x2="524.9" y2="355.2" stroke="#3a3a3a" stroke-width="1"/>
<text transform="translate(283,259.8) rotate(-90)" font-size="9" fill="#222" text-anchor="middle">Amplitude (V)</text>
<line x1="305.9" y1="522.6" x2="309.4" y2="522.6" stroke="#3a3a3a" stroke-width="1"/>
<line x1="307.4" y1="511.62" x2="309.4" y2="511.62" stroke="#3a3a3a" stroke-width="1"/>
<line x1="305.9" y1="500.65" x2="309.4" y2="500.65" stroke="#3a3a3a" stroke-width="1"/>
<line x1="307.4" y1="489.68" x2="309.4" y2="489.68" stroke="#3a3a3a" stroke-width="1"/>
<line x1="305.9" y1="478.7" x2="309.4" y2="478.7" stroke="#3a3a3a" stroke-width="1"/>
<line x1="307.4" y1="467.73" x2="309.4" y2="467.73" stroke="#3a3a3a" stroke-width="1"/>
<line x1="305.9" y1="456.75" x2="309.4" y2="456.75" stroke="#3a3a3a" stroke-width="1"/>
<line x1="307.4" y1="445.78" x2="309.4" y2="445.78" stroke="#3a3a3a" stroke-width="1"/>
<line x1="305.9" y1="434.8" x2="309.4" y2="434.8" stroke="#3a3a3a" stroke-width="1"/>
<line x1="307.4" y1="423.83" x2="309.4" y2="423.83" stroke="#3a3a3a" stroke-width="1"/>
<line x1="305.9" y1="412.85" x2="309.4" y2="412.85" stroke="#3a3a3a" stroke-width="1"/>
<line x1="307.4" y1="401.88" x2="309.4" y2="401.88" stroke="#3a3a3a" stroke-width="1"/>
<line x1="305.9" y1="390.9" x2="309.4" y2="390.9" stroke="#3a3a3a" stroke-width="1"/>
<line x1="307.4" y1="379.93" x2="309.4" y2="379.93" stroke="#3a3a3a" stroke-width="1"/>
<line x1="305.9" y1="368.95" x2="309.4" y2="368.95" stroke="#3a3a3a" stroke-width="1"/>
<line x1="307.4" y1="357.98" x2="309.4" y2="357.98" stroke="#3a3a3a" stroke-width="1"/>
<text x="303.4" y="524.6" font-size="7.1" fill="#333" text-anchor="end" font-weight="normal" >0.0</text>
<text x="303.4" y="502.65" font-size="7.1" fill="#333" text-anchor="end" font-weight="normal" >0.5</text>
<text x="303.4" y="480.7" font-size="7.1" fill="#333" text-anchor="end" font-weight="normal" >1.0</text>
<text x="303.4" y="458.75" font-size="7.1" fill="#333" text-anchor="end" font-weight="normal" >1.5</text>
<text x="303.4" y="436.8" font-size="7.1" fill="#333" text-anchor="end" font-weight="normal" >2.0</text>
<text x="303.4" y="414.85" font-size="7.1" fill="#333" text-anchor="end" font-weight="normal" >2.5</text>
<text x="303.4" y="392.9" font-size="7.1" fill="#333" text-anchor="end" font-weight="normal" >3.0</text>
<text x="303.4" y="370.95" font-size="7.1" fill="#333" text-anchor="end" font-weight="normal" >3.5</text>
<line x1="309.4" y1="523.5" x2="309.4" y2="527" stroke="#3a3a3a" stroke-width="1"/>
<line x1="330.95" y1="523.5" x2="330.95" y2="525.5" stroke="#3a3a3a" stroke-width="1"/>
<line x1="352.5" y1="523.5" x2="352.5" y2="527" stroke="#3a3a3a" stroke-width="1"/>
<line x1="374.05" y1="523.5" x2="374.05" y2="525.5" stroke="#3a3a3a" stroke-width="1"/>
<line x1="395.6" y1="523.5" x2="395.6" y2="527" stroke="#3a3a3a" stroke-width="1"/>
<line x1="417.15" y1="523.5" x2="417.15" y2="525.5" stroke="#3a3a3a" stroke-width="1"/>
<line x1="438.7" y1="523.5" x2="438.7" y2="527" stroke="#3a3a3a" stroke-width="1"/>
<line x1="460.25" y1="523.5" x2="460.25" y2="525.5" stroke="#3a3a3a" stroke-width="1"/>
<line x1="481.8" y1="523.5" x2="481.8" y2="527" stroke="#3a3a3a" stroke-width="1"/>
<line x1="503.35" y1="523.5" x2="503.35" y2="525.5" stroke="#3a3a3a" stroke-width="1"/>
<line x1="524.9" y1="523.5" x2="524.9" y2="527" stroke="#3a3a3a" stroke-width="1"/>
<text transform="translate(283,432.5) rotate(-90)" font-size="9" fill="#222" text-anchor="middle">Amplitude (V)</text>
<path d="M309.4,176.4 L316.52,176.4 L317.67,124.18 L318.37,124.18 L319.52,176.4 L325.14,176.4 L326.29,141.3 L326.99,141.3 L328.14,176.4 L333.76,176.4 L334.91,152 L335.61,152 L336.76,176.4 L342.38,176.4 L343.53,157.14 L344.23,157.14 L345.38,176.4 L351,176.4 L352.15,172.98 L352.85,172.98 L354,176.4 L359.62,176.4 L360.77,172.12 L361.47,172.12 L362.62,176.4 L368.24,176.4 L369.39,173.4 L370.09,173.4 L371.24,176.4 L376.86,176.4 L378.01,174.26 L378.71,174.26 L379.86,176.4 L385.48,176.4 L386.63,174.69 L387.33,174.69 L388.48,176.4 L394.1,176.4 L395.25,175.12 L395.95,175.12 L397.1,176.4 L402.72,176.4 L403.87,175.54 L404.57,175.54 L405.72,176.4 L411.34,176.4 L412.49,175.97 L413.19,175.97 L414.34,176.4 L419.96,176.4 L421.11,175.97 L421.81,175.97 L422.96,176.4 L428.58,176.4 L429.73,175.97 L430.43,175.97 L431.58,176.4 L437.2,176.4 L438.35,175.97 L439.05,175.97 L440.2,176.4 L445.82,176.4 L446.97,174.26 L447.67,174.26 L448.82,176.4 L454.44,176.4 L455.59,171.69 L456.29,171.69 L457.44,176.4 L463.06,176.4 L464.21,171.26 L464.91,171.26 L466.06,176.4 L471.68,176.4 L472.83,173.4 L473.53,173.4 L474.68,176.4 L480.3,176.4 L481.45,174.69 L482.15,174.69 L483.3,176.4 L488.92,176.4 L490.07,175.12 L490.77,175.12 L491.92,176.4 L497.54,176.4 L498.69,175.12 L499.39,175.12 L500.54,176.4 L506.16,176.4 L507.31,175.12 L508.01,175.12 L509.16,176.4 L514.78,176.4 L515.93,175.12 L516.63,175.12 L517.78,176.4 L523.4,176.4 L524.55,175.54 L525.25,175.54 L526.4,176.4 L524.9,176.4" fill="none" stroke="#0000ff" stroke-width="1.3" stroke-linejoin="round"/>
<path d="M309.4,350 L316.52,350 L317.67,188.75 L318.37,188.75 L319.52,350 L325.14,350 L326.29,291 L326.99,291 L328.14,350 L333.76,350 L334.91,327.71 L335.61,327.71 L336.76,350 L342.38,350 L343.53,345.63 L344.23,345.63 L345.38,350 L351,350 L352.15,346.5 L352.85,346.5 L354,350 L359.62,350 L360.77,349.56 L361.47,349.56 L362.62,350 L368.24,350 L369.39,349.56 L370.09,349.56 L371.24,350 L376.86,350 L378.01,349.56 L378.71,349.56 L379.86,350 L385.48,350 L386.63,349.56 L387.33,349.56 L388.48,350 L394.1,350 L395.25,349.56 L395.95,349.56 L397.1,350 L402.72,350 L403.87,349.56 L404.57,349.56 L405.72,350 L411.34,350 L412.49,349.56 L413.19,349.56 L414.34,350 L419.96,350 L421.11,349.56 L421.81,349.56 L422.96,350 L428.58,350 L429.73,349.13 L430.43,349.13 L431.58,350 L437.2,350 L438.35,348.69 L439.05,348.69 L440.2,350 L445.82,350 L446.97,347.81 L447.67,347.81 L448.82,350 L454.44,350 L455.59,345.19 L456.29,345.19 L457.44,350 L463.06,350 L464.21,342.13 L464.91,342.13 L466.06,350 L471.68,350 L472.83,348.25 L473.53,348.25 L474.68,350 L480.3,350 L481.45,349.13 L482.15,349.13 L483.3,350 L488.92,350 L490.07,349.13 L490.77,349.13 L491.92,350 L497.54,350 L498.69,348.69 L499.39,348.69 L500.54,350 L506.16,350 L507.31,349.13 L508.01,349.13 L509.16,350 L514.78,350 L515.93,349.13 L516.63,349.13 L517.78,350 L523.4,350 L524.55,349.56 L525.25,349.56 L526.4,350 L524.9,350" fill="none" stroke="#ff0000" stroke-width="1.3" stroke-linejoin="round"/>
<path d="M309.4,522.6 L316.32,522.6 L317.67,359.29 L318.37,359.29 L319.72,522.6 L324.94,522.6 L326.29,490.11 L326.99,490.11 L328.34,522.6 L333.56,522.6 L334.91,505.04 L335.61,505.04 L336.96,522.6 L342.18,522.6 L343.53,521.28 L344.23,521.28 L345.58,522.6 L350.8,522.6 L352.15,522.16 L352.85,522.16 L354.2,522.6 L359.42,522.6 L360.77,522.38 L361.47,522.38 L362.82,522.6 L368.04,522.6 L369.39,522.38 L370.09,522.38 L371.44,522.6 L524.9,522.6" fill="none" stroke="#111" stroke-width="1.5" stroke-linejoin="round"/>
<line x1="309.4" y1="5.3" x2="309.4" y2="523.5" stroke="#222" stroke-width="1.1"/>
<line x1="524.9" y1="5.3" x2="524.9" y2="523.5" stroke="#555" stroke-width="1.2"/>
<line x1="308.4" y1="5.3" x2="524.9" y2="5.3" stroke="#888" stroke-width="1.4"/>
<line x1="309.4" y1="178" x2="524.9" y2="178" stroke="#222" stroke-width="1.8"/>
<line x1="309.4" y1="351.7" x2="524.9" y2="351.7" stroke="#444" stroke-width="1.7"/>
<line x1="309.4" y1="523.5" x2="524.9" y2="523.5" stroke="#555" stroke-width="1.7"/>
<text x="309.4" y="536.9" font-size="7.5" fill="#333" text-anchor="middle" font-weight="normal" >0</text>
<text x="352.5" y="536.9" font-size="7.5" fill="#333" text-anchor="middle" font-weight="normal" >200</text>
<text x="395.6" y="536.9" font-size="7.5" fill="#333" text-anchor="middle" font-weight="normal" >400</text>
<text x="438.7" y="536.9" font-size="7.5" fill="#333" text-anchor="middle" font-weight="normal" >600</text>
<text x="481.8" y="536.9" font-size="7.5" fill="#333" text-anchor="middle" font-weight="normal" >800</text>
<text x="524.9" y="536.9" font-size="7.5" fill="#333" text-anchor="middle" font-weight="normal" >1000</text>
<text x="417.2" y="550.7" font-size="8.95" fill="#222" text-anchor="middle" font-weight="normal" >Frequency (Hz)</text>
<rect x="357.1" y="12.5" width="166.3" height="16.9" fill="#fff" stroke="#666" stroke-width="1"/>
<line x1="358.9" y1="21.4" x2="386.9" y2="21.4" stroke="#0000ff" stroke-width="1.5"/>
<text x="390.5" y="25.6" font-size="12.2" fill="#111" text-anchor="start" font-weight="normal" >-0.3 --&gt; Double clamped</text>
<rect x="408.7" y="186.7" width="114.8" height="16.3" fill="#fff" stroke="#666" stroke-width="1"/>
<line x1="410" y1="195" x2="436.9" y2="195" stroke="#ff0000" stroke-width="1.5"/>
<text x="441.2" y="199.3" font-size="12.2" fill="#111" text-anchor="start" font-weight="normal" >0.4 --&gt; Contact</text>
<rect x="392" y="358" width="131.5" height="17.3" fill="#fff" stroke="#666" stroke-width="1"/>
<line x1="393.8" y1="365.8" x2="420.8" y2="365.8" stroke="#111" stroke-width="1.5"/>
<text x="424.5" y="370.1" font-size="12.2" fill="#111" text-anchor="start" font-weight="normal" >1.3 --&gt; No contact</text>
<rect x="401.6" y="31.3" width="116.9" height="93.7" fill="none" stroke="#444" stroke-width="1.0"/>
<line x1="400" y1="125" x2="401.6" y2="125" stroke="#555" stroke-width="0.6"/>
<text x="399.2" y="126.6" font-size="4.4" fill="#555" text-anchor="end" font-weight="normal" >-5</text>
<line x1="400.7" y1="120.32" x2="401.6" y2="120.32" stroke="#777" stroke-width="0.5"/>
<line x1="400" y1="115.63" x2="401.6" y2="115.63" stroke="#555" stroke-width="0.6"/>
<text x="399.2" y="117.23" font-size="4.4" fill="#555" text-anchor="end" font-weight="normal" >-4</text>
<line x1="400.7" y1="110.95" x2="401.6" y2="110.95" stroke="#777" stroke-width="0.5"/>
<line x1="400" y1="106.26" x2="401.6" y2="106.26" stroke="#555" stroke-width="0.6"/>
<text x="399.2" y="107.86" font-size="4.4" fill="#555" text-anchor="end" font-weight="normal" >-3</text>
<line x1="400.7" y1="101.58" x2="401.6" y2="101.58" stroke="#777" stroke-width="0.5"/>
<line x1="400" y1="96.89" x2="401.6" y2="96.89" stroke="#555" stroke-width="0.6"/>
<text x="399.2" y="98.49" font-size="4.4" fill="#555" text-anchor="end" font-weight="normal" >-2</text>
<line x1="400.7" y1="92.21" x2="401.6" y2="92.21" stroke="#777" stroke-width="0.5"/>
<line x1="400" y1="87.52" x2="401.6" y2="87.52" stroke="#555" stroke-width="0.6"/>
<text x="399.2" y="89.12" font-size="4.4" fill="#555" text-anchor="end" font-weight="normal" >-1</text>
<line x1="400.7" y1="82.84" x2="401.6" y2="82.84" stroke="#777" stroke-width="0.5"/>
<line x1="400" y1="78.15" x2="401.6" y2="78.15" stroke="#555" stroke-width="0.6"/>
<text x="399.2" y="79.75" font-size="4.4" fill="#555" text-anchor="end" font-weight="normal" >0</text>
<line x1="400.7" y1="73.47" x2="401.6" y2="73.47" stroke="#777" stroke-width="0.5"/>
<line x1="400" y1="68.78" x2="401.6" y2="68.78" stroke="#555" stroke-width="0.6"/>
<text x="399.2" y="70.38" font-size="4.4" fill="#555" text-anchor="end" font-weight="normal" >1</text>
<line x1="400.7" y1="64.09" x2="401.6" y2="64.09" stroke="#777" stroke-width="0.5"/>
<line x1="400" y1="59.41" x2="401.6" y2="59.41" stroke="#555" stroke-width="0.6"/>
<text x="399.2" y="61.01" font-size="4.4" fill="#555" text-anchor="end" font-weight="normal" >2</text>
<line x1="400.7" y1="54.73" x2="401.6" y2="54.73" stroke="#777" stroke-width="0.5"/>
<line x1="400" y1="50.04" x2="401.6" y2="50.04" stroke="#555" stroke-width="0.6"/>
<text x="399.2" y="51.64" font-size="4.4" fill="#555" text-anchor="end" font-weight="normal" >3</text>
<line x1="400.7" y1="45.36" x2="401.6" y2="45.36" stroke="#777" stroke-width="0.5"/>
<line x1="400" y1="40.67" x2="401.6" y2="40.67" stroke="#555" stroke-width="0.6"/>
<text x="399.2" y="42.27" font-size="4.4" fill="#555" text-anchor="end" font-weight="normal" >4</text>
<line x1="400.7" y1="35.98" x2="401.6" y2="35.98" stroke="#777" stroke-width="0.5"/>
<line x1="400" y1="31.3" x2="401.6" y2="31.3" stroke="#555" stroke-width="0.6"/>
<text x="399.2" y="32.9" font-size="4.4" fill="#555" text-anchor="end" font-weight="normal" >5</text>
<line x1="401.6" y1="125" x2="401.6" y2="126.6" stroke="#555" stroke-width="0.6"/>
<text x="401.6" y="131" font-size="4.4" fill="#555" text-anchor="middle" font-weight="normal" >0.00</text>
<line x1="416.21" y1="125" x2="416.21" y2="125.9" stroke="#777" stroke-width="0.5"/>
<line x1="430.83" y1="125" x2="430.83" y2="126.6" stroke="#555" stroke-width="0.6"/>
<text x="430.83" y="131" font-size="4.4" fill="#555" text-anchor="middle" font-weight="normal" >0.05</text>
<line x1="445.44" y1="125" x2="445.44" y2="125.9" stroke="#777" stroke-width="0.5"/>
<line x1="460.05" y1="125" x2="460.05" y2="126.6" stroke="#555" stroke-width="0.6"/>
<text x="460.05" y="131" font-size="4.4" fill="#555" text-anchor="middle" font-weight="normal" >0.10</text>
<line x1="474.66" y1="125" x2="474.66" y2="125.9" stroke="#777" stroke-width="0.5"/>
<line x1="489.27" y1="125" x2="489.27" y2="126.6" stroke="#555" stroke-width="0.6"/>
<text x="489.27" y="131" font-size="4.4" fill="#555" text-anchor="middle" font-weight="normal" >0.15</text>
<line x1="503.89" y1="125" x2="503.89" y2="125.9" stroke="#777" stroke-width="0.5"/>
<line x1="518.5" y1="125" x2="518.5" y2="126.6" stroke="#555" stroke-width="0.6"/>
<text x="518.5" y="131" font-size="4.4" fill="#555" text-anchor="middle" font-weight="normal" >0.20</text>
<text x="460.05" y="137.6" font-size="5.0" fill="#555" text-anchor="middle" font-weight="normal" >Time (s)</text>
<text transform="translate(391.3,77.15) rotate(-90)" font-size="4.8" fill="#555" text-anchor="middle">Voltage Vp-p (V)</text>
<polyline points="401.6,82.4 401.77,82.37 401.93,83.06 402.1,83.14 402.27,83.54 402.44,84.62 402.6,84.91 402.77,83.89 402.94,84.97 403.1,85.22 403.27,84.3 403.44,85.3 403.6,84.97 403.77,85.8 403.94,86.23 404.11,87.63 404.27,87.58 404.44,87.9 404.61,89.09 404.77,89.44 404.94,90.3 405.11,92.28 405.27,92.31 405.44,93.64 405.61,95.15 405.78,96.63 405.94,91.74 406.11,88.57 406.28,84.43 406.44,80.43 406.61,76.92 406.78,72.56 406.94,69.21 407.11,64.45 407.28,60.84 407.45,55.96 407.61,51.9 407.78,49.65 407.95,46.59 408.11,43.45 408.28,39.32 408.45,40.07 408.61,47.31 408.78,55.32 408.95,58.67 409.12,60.57 409.28,62.34 409.45,63.71 409.62,64.86 409.78,64.02 409.95,66.73 410.12,66.36 410.28,68.09 410.45,68.34 410.62,70.01 410.79,72.91 410.95,67.9 411.12,66.79 411.29,67.83 411.45,71.11 411.62,71.23 411.79,75.61 411.95,72.44 412.12,74.74 412.29,77.24 412.46,79.29 412.62,74.71 412.79,76.91 412.96,78.86 413.12,78.3 413.29,79.22 413.46,79.94 413.62,80.06 413.79,79.69 413.96,79.87 414.12,81.45 414.29,80.73 414.46,81.45 414.63,80.31 414.79,80.76 414.96,79.8 415.13,79.51 415.29,80.09 415.46,79.46 415.63,80.93 415.8,81.7 415.96,81.35 416.13,82.63 416.3,82.81 416.46,82.93 416.63,83.05 416.8,84.16 416.96,84.61 417.13,83.59 417.3,84.63 417.47,83.88 417.63,84.19 417.8,85.18 417.97,85.27 418.13,85.4 418.3,85.43 418.47,86.17 418.63,86.9 418.8,87.48 418.97,87.67 419.13,88.99 419.3,89.78 419.47,90.02 419.64,91.82 419.8,92.8 419.97,92.86 420.14,94.62 420.3,95.65 420.47,93.72 420.64,89.35 420.81,85.34 420.97,82.42 421.14,77.76 421.31,73.76 421.47,70.48 421.64,65.48 421.81,61.58 421.97,57.11 422.14,53.46 422.31,49.3 422.48,46.24 422.64,44.31 422.81,41.24 422.98,38.32 423.14,45.41 423.31,54 423.48,58.43 423.64,59.94 423.81,62.07 423.98,63.72 424.15,66.41 424.31,67.3 424.48,67.06 424.65,70.25 424.81,71 424.98,69.67 425.15,74.31 425.31,70.32 425.48,68.81 425.65,71.16 425.81,72.11 425.98,69.37 426.15,74.15 426.32,75.56 426.48,74.93 426.65,73.81 426.82,78.33 426.98,77.49 427.15,78.01 427.32,75.34 427.49,78.23 427.65,78.15 427.82,79.52 427.99,79.6 428.15,79.47 428.32,79.45 428.49,80.44 428.65,81.11 428.82,81.5 428.99,80.75 429.16,81.13 429.32,80.07 429.49,79.89 429.66,80.73 429.82,80.46 429.99,79.67 430.16,80.35 430.32,80.53 430.49,81.65 430.66,82.4 430.83,82.59 430.99,82.27 431.16,83.48 431.33,83.8 431.49,84.01 431.66,84.22 431.83,84.45 431.99,83.9 432.16,85.26 432.33,85.7 432.5,84.51 432.66,84.82 432.83,84.88 433,86.29 433.16,86.19 433.33,86.89 433.5,88.62 433.66,88.51 433.83,89.04 434,89.98 434.17,91.2 434.33,92.62 434.5,93.62 434.67,94.86 434.83,96.17 435,93.55 435.17,90.24 435.33,85.69 435.5,83.08 435.67,78.03 435.84,74.44 436,69.95 436.17,65.85 436.34,61.7 436.5,58.04 436.67,54.74 436.84,49.8 437,47.65 437.17,44.45 437.34,40.89 437.5,38.09 437.67,44.84 437.84,51.57 438.01,57.87 438.17,60 438.34,61.85 438.51,62.66 438.67,64.95 438.84,64.35 439.01,68.43 439.18,70.7 439.34,69.74 439.51,69.14 439.68,73.44 439.84,68.95 440.01,67.66 440.18,67.99 440.34,67.97 440.51,74.39 440.68,71.39 440.85,70.93 441.01,77.34 441.18,76.5 441.35,77.12 441.51,76.03 441.68,77.32 441.85,77.59 442.01,77.61 442.18,79.37 442.35,79.63 442.51,79.85 442.68,80.19 442.85,80.61 443.02,79.59 443.18,80.11 443.35,81.58 443.52,80.82 443.68,80.96 443.85,80.83 444.02,80.64 444.19,80.06 444.35,80.02 444.52,80.26 444.69,80.94 444.85,81.17 445.02,81.9 445.19,81.69 445.35,81.88 445.52,82.81 445.69,83.69 445.86,83.97 446.02,84.04 446.19,83.9 446.36,83.85 446.52,84.67 446.69,84.25 446.86,84.74 447.02,85.24 447.19,85.54 447.36,85.57 447.53,85.76 447.69,86.86 447.86,87.12 448.03,88.14 448.19,89.13 448.36,89.37 448.53,89.8 448.69,91.67 448.86,92.22 449.03,93.29 449.19,93.68 449.36,94.67 449.53,94.57 449.7,90.02 449.86,86.42 450.03,83.45 450.2,79.39 450.36,76.07 450.53,70.89 450.7,66.97 450.87,62.48 451.03,58.48 451.2,54.52 451.37,50.37 451.53,47.62 451.7,45.3 451.87,41.57 452.03,39.43 452.2,43.84 452.37,50.42 452.54,58.41 452.7,60.05 452.87,61.76 453.04,62.31 453.2,65.08 453.37,69.1 453.54,64.99 453.7,70.96 453.87,67.48 454.04,69.85 454.21,69.16 454.37,67.97 454.54,69.99 454.71,68.12 454.87,72.93 455.04,69.21 455.21,71.96 455.37,71.7 455.54,76.77 455.71,73.25 455.88,72.64 456.04,78.97 456.21,77.85 456.38,76.88 456.54,77.42 456.71,78.9 456.88,79.38 457.04,79.61 457.21,79.39 457.38,79.52 457.55,80.4 457.71,80.77 457.88,81.07 458.05,81.07 458.21,80.84 458.38,81.2 458.55,80.44 458.71,79.6 458.88,80.31 459.05,79.67 459.22,80.91 459.38,80.54 459.55,80.88 459.72,81.43 459.88,82.09 460.05,82.57 460.22,82.77 460.38,82.81 460.55,84.33 460.72,84.63 460.88,83.86 461.05,83.83 461.22,84.64 461.39,84.97 461.55,84.77 461.72,85.78 461.89,85.87 462.05,86.39 462.22,86.48 462.39,87.56 462.56,88.36 462.72,88.34 462.89,88.62 463.06,90.28 463.22,90.52 463.39,92.03 463.56,92.45 463.72,93.93 463.89,95.48 464.06,95.5 464.23,92.03 464.39,87.59 464.56,83.97 464.73,80.52 464.89,76.48 465.06,72.39 465.23,67.57 465.39,64.37 465.56,58.95 465.73,55.57 465.89,51.25 466.06,48.32 466.23,44.76 466.4,41.77 466.56,39.16 466.73,41.94 466.9,49.11 467.06,56.42 467.23,59.27 467.4,60.49 467.56,61.87 467.73,64.33 467.9,67.51 468.07,68.73 468.23,66.82 468.4,68.35 468.57,67.75 468.73,69.13 468.9,72.71 469.07,72.62 469.24,71.74 469.4,71.78 469.57,69.42 469.74,69.49 469.9,70.29 470.07,75.59 470.24,72.38 470.4,76.6 470.57,76.49 470.74,75.09 470.91,79.91 471.07,78.41 471.24,77.9 471.41,79.15 471.57,79.38 471.74,79.38 471.91,79.58 472.07,80.92 472.24,80.76 472.41,80.94 472.58,80.89 472.74,81.17 472.91,80.48 473.08,79.79 473.24,80.5 473.41,80.13 473.58,80.64 473.74,80.66 473.91,80.5 474.08,81.76 474.25,81.03 474.41,81.43 474.58,83.07 474.75,82.24 474.91,83.52 475.08,83.35 475.25,83.59 475.41,84.5 475.58,84.15 475.75,84.39 475.92,84.38 476.08,85.41 476.25,84.89 476.42,84.79 476.58,85.56 476.75,86.43 476.92,87.74 477.08,87.84 477.25,88.72 477.42,88.85 477.59,89.58 477.75,90.53 477.92,92.18 478.09,92.56 478.25,93.66 478.42,95.41 478.59,95.19 478.75,91.78 478.92,88.82 479.09,83.85 479.25,81.27 479.42,77.22 479.59,72.56 479.76,68.6 479.92,64.52 480.09,60.24 480.26,56.38 480.42,52.45 480.59,49.32 480.76,46.47 480.93,42.49 481.09,39.42 481.26,40.45 481.43,47.68 481.59,55.77 481.76,59.16 481.93,60.7 482.09,61.69 482.26,64.65 482.43,65.48 482.6,68.42 482.76,66.25 482.93,70.22 483.1,71.62 483.26,72.16 483.43,70.83 483.6,68.89 483.76,71.2 483.93,67.53 484.1,73.11 484.26,73.14 484.43,75.34 484.6,76.33 484.77,72.83 484.93,73.77 485.1,77.94 485.27,78.51 485.43,77.63 485.6,77.32 485.77,77.81 485.94,78.4 486.1,78.97 486.27,79.97 486.44,79.93 486.6,80.57 486.77,80.41 486.94,80.68 487.1,81.34 487.27,81.14 487.44,80.21 487.61,81.2 487.77,79.9 487.94,79.64 488.11,79.42 488.27,80.42 488.44,80.59 488.61,80.98 488.77,81.33 488.94,81.25 489.11,82.11 489.27,83.12 489.44,82.71 489.61,83.7 489.78,83.79 489.94,83.82 490.11,85.12 490.28,84.18 490.44,84.56 490.61,85.03 490.78,85.2 490.94,85.5 491.11,86.15 491.28,86.32 491.45,87.73 491.61,87.71 491.78,88.16 491.95,89.13 492.11,89.62 492.28,89.74 492.45,90.92 492.62,93.13 492.78,93.22 492.95,94.54 493.12,96.48 493.28,92.92 493.45,89.35 493.62,85.82 493.78,81.37 493.95,77.02 494.12,73.93 494.28,68.96 494.45,65.08 494.62,61.78 494.79,56.55 494.95,52.79 495.12,48.75 495.29,46.06 495.45,43.01 495.62,40.6 495.79,38.66 495.95,46 496.12,53.62 496.29,58.58 496.46,59.82 496.62,61.95 496.79,64.23 496.96,68.27 497.12,69.3 497.29,69.75 497.46,71.26 497.62,70.31 497.79,70.24 497.96,70.93 498.13,71.26 498.29,69.34 498.46,71.17 498.63,70.6 498.79,69.75 498.96,73.16 499.13,75.68 499.3,71.93 499.46,73.71 499.63,76.63 499.8,77.21 499.96,76.77 500.13,77.43 500.3,78.59 500.46,79.45 500.63,79.48 500.8,78.96 500.97,80.25 501.13,80.11 501.3,80.84 501.47,81.16 501.63,81.42 501.8,80.93 501.97,81.15 502.13,81.23 502.3,80.97 502.47,80.75 502.63,80.13 502.8,80.82 502.97,81.31 503.14,81.1 503.3,81.59 503.47,81.58 503.64,82.98 503.8,82.89 503.97,83.33 504.14,84.31 504.31,83.2 504.47,84.54 504.64,84.94 504.81,84.58 504.97,85.26 505.14,84.79 505.31,85.42 505.47,85.97 505.64,86.29 505.81,85.9 505.98,87.25 506.14,87.15 506.31,88.31 506.48,88.28 506.64,89.9 506.81,90.64 506.98,91.66 507.14,91.91 507.31,93.26 507.48,94.76 507.64,96.21 507.81,93.14 507.98,88.95 508.15,85.75 508.31,82.87 508.48,79.07 508.65,75.05 508.81,70.78 508.98,66.84 509.15,62.67 509.31,57.62 509.48,53.11 509.65,50.4 509.82,46.23 509.98,43.97 510.15,40.47 510.32,37.29 510.48,44.59 510.65,53.47 510.82,58.46 510.99,59.73 511.15,60.94 511.32,63.94 511.49,66.4 511.65,64 511.82,70.08 511.99,69.52 512.15,71.14 512.32,70.13 512.49,68.45 512.65,72.96 512.82,68.82 512.99,68.43 513.16,67.96 513.32,70.89 513.49,69.54 513.66,74.29 513.82,75 513.99,76.82 514.16,73.81 514.33,76.38 514.49,78.37 514.66,79.63 514.83,77.73 514.99,78.49 515.16,78.67 515.33,79.49 515.49,79.67 515.66,80.51 515.83,80.01 516,81.38 516.16,81 516.33,80.42 516.5,80.41 516.66,81.15 516.83,80.8 517,79.76 517.16,79.93 517.33,79.51 517.5,79.95 517.66,81.02 517.83,80.78 518,81.45 518.17,82.48 518.33,82.86 518.5,83.73" fill="none" stroke="#222" stroke-width="0.85" stroke-linejoin="round"/>
<rect x="401.6" y="205.4" width="116.4" height="93.4" fill="none" stroke="#444" stroke-width="1.0"/>
<line x1="400" y1="298.8" x2="401.6" y2="298.8" stroke="#555" stroke-width="0.6"/>
<text x="399.2" y="300.4" font-size="4.4" fill="#555" text-anchor="end" font-weight="normal" >-5</text>
<line x1="400.7" y1="294.13" x2="401.6" y2="294.13" stroke="#777" stroke-width="0.5"/>
<line x1="400" y1="289.46" x2="401.6" y2="289.46" stroke="#555" stroke-width="0.6"/>
<text x="399.2" y="291.06" font-size="4.4" fill="#555" text-anchor="end" font-weight="normal" >-4</text>
<line x1="400.7" y1="284.79" x2="401.6" y2="284.79" stroke="#777" stroke-width="0.5"/>
<line x1="400" y1="280.12" x2="401.6" y2="280.12" stroke="#555" stroke-width="0.6"/>
<text x="399.2" y="281.72" font-size="4.4" fill="#555" text-anchor="end" font-weight="normal" >-3</text>
<line x1="400.7" y1="275.45" x2="401.6" y2="275.45" stroke="#777" stroke-width="0.5"/>
<line x1="400" y1="270.78" x2="401.6" y2="270.78" stroke="#555" stroke-width="0.6"/>
<text x="399.2" y="272.38" font-size="4.4" fill="#555" text-anchor="end" font-weight="normal" >-2</text>
<line x1="400.7" y1="266.11" x2="401.6" y2="266.11" stroke="#777" stroke-width="0.5"/>
<line x1="400" y1="261.44" x2="401.6" y2="261.44" stroke="#555" stroke-width="0.6"/>
<text x="399.2" y="263.04" font-size="4.4" fill="#555" text-anchor="end" font-weight="normal" >-1</text>
<line x1="400.7" y1="256.77" x2="401.6" y2="256.77" stroke="#777" stroke-width="0.5"/>
<line x1="400" y1="252.1" x2="401.6" y2="252.1" stroke="#555" stroke-width="0.6"/>
<text x="399.2" y="253.7" font-size="4.4" fill="#555" text-anchor="end" font-weight="normal" >0</text>
<line x1="400.7" y1="247.43" x2="401.6" y2="247.43" stroke="#777" stroke-width="0.5"/>
<line x1="400" y1="242.76" x2="401.6" y2="242.76" stroke="#555" stroke-width="0.6"/>
<text x="399.2" y="244.36" font-size="4.4" fill="#555" text-anchor="end" font-weight="normal" >1</text>
<line x1="400.7" y1="238.09" x2="401.6" y2="238.09" stroke="#777" stroke-width="0.5"/>
<line x1="400" y1="233.42" x2="401.6" y2="233.42" stroke="#555" stroke-width="0.6"/>
<text x="399.2" y="235.02" font-size="4.4" fill="#555" text-anchor="end" font-weight="normal" >2</text>
<line x1="400.7" y1="228.75" x2="401.6" y2="228.75" stroke="#777" stroke-width="0.5"/>
<line x1="400" y1="224.08" x2="401.6" y2="224.08" stroke="#555" stroke-width="0.6"/>
<text x="399.2" y="225.68" font-size="4.4" fill="#555" text-anchor="end" font-weight="normal" >3</text>
<line x1="400.7" y1="219.41" x2="401.6" y2="219.41" stroke="#777" stroke-width="0.5"/>
<line x1="400" y1="214.74" x2="401.6" y2="214.74" stroke="#555" stroke-width="0.6"/>
<text x="399.2" y="216.34" font-size="4.4" fill="#555" text-anchor="end" font-weight="normal" >4</text>
<line x1="400.7" y1="210.07" x2="401.6" y2="210.07" stroke="#777" stroke-width="0.5"/>
<line x1="400" y1="205.4" x2="401.6" y2="205.4" stroke="#555" stroke-width="0.6"/>
<text x="399.2" y="207" font-size="4.4" fill="#555" text-anchor="end" font-weight="normal" >5</text>
<line x1="401.6" y1="298.8" x2="401.6" y2="300.4" stroke="#555" stroke-width="0.6"/>
<text x="401.6" y="304.8" font-size="4.4" fill="#555" text-anchor="middle" font-weight="normal" >0.00</text>
<line x1="416.15" y1="298.8" x2="416.15" y2="299.7" stroke="#777" stroke-width="0.5"/>
<line x1="430.7" y1="298.8" x2="430.7" y2="300.4" stroke="#555" stroke-width="0.6"/>
<text x="430.7" y="304.8" font-size="4.4" fill="#555" text-anchor="middle" font-weight="normal" >0.05</text>
<line x1="445.25" y1="298.8" x2="445.25" y2="299.7" stroke="#777" stroke-width="0.5"/>
<line x1="459.8" y1="298.8" x2="459.8" y2="300.4" stroke="#555" stroke-width="0.6"/>
<text x="459.8" y="304.8" font-size="4.4" fill="#555" text-anchor="middle" font-weight="normal" >0.10</text>
<line x1="474.35" y1="298.8" x2="474.35" y2="299.7" stroke="#777" stroke-width="0.5"/>
<line x1="488.9" y1="298.8" x2="488.9" y2="300.4" stroke="#555" stroke-width="0.6"/>
<text x="488.9" y="304.8" font-size="4.4" fill="#555" text-anchor="middle" font-weight="normal" >0.15</text>
<line x1="503.45" y1="298.8" x2="503.45" y2="299.7" stroke="#777" stroke-width="0.5"/>
<line x1="518" y1="298.8" x2="518" y2="300.4" stroke="#555" stroke-width="0.6"/>
<text x="518" y="304.8" font-size="4.4" fill="#555" text-anchor="middle" font-weight="normal" >0.20</text>
<text x="459.8" y="311.4" font-size="5.0" fill="#555" text-anchor="middle" font-weight="normal" >Time (s)</text>
<text transform="translate(391.3,251.1) rotate(-90)" font-size="4.8" fill="#555" text-anchor="middle">Voltage Vp-p (V)</text>
<polyline points="401.6,215.39 401.77,214.17 401.93,212.96 402.1,211.74 402.27,211.42 402.43,212.48 402.6,213.55 402.76,214.61 402.93,216.92 403.1,219.41 403.26,221.89 403.43,224.37 403.6,226.85 403.76,228.73 403.93,230.22 404.09,231.71 404.26,233.19 404.43,234.4 404.59,234.61 404.76,234.83 404.93,235.04 405.09,235.25 405.26,235.73 405.42,236.26 405.59,236.79 405.76,237.63 405.92,239.09 406.09,240.56 406.26,242.03 406.42,243.5 406.59,244.97 406.75,246.44 406.92,247.91 407.09,249.38 407.25,250.85 407.42,252.32 407.59,253.78 407.75,255.25 407.92,256.72 408.09,258.19 408.25,259.66 408.42,261.13 408.58,262.6 408.75,264.07 408.92,265.87 409.08,267.71 409.25,269.56 409.42,271.4 409.58,273.24 409.75,275.09 409.91,276.93 410.08,278.77 410.25,280.62 410.41,282.46 410.58,284.31 410.75,286.15 410.91,287.99 411.08,289.28 411.24,290.35 411.41,291.41 411.58,292.05 411.74,290.99 411.91,289.92 412.08,288.86 412.24,286.49 412.41,283.53 412.57,280.56 412.74,277.6 412.91,274.64 413.07,271.67 413.24,268.71 413.41,265.75 413.57,262.78 413.74,259.82 413.91,256.86 414.07,253.89 414.24,250.72 414.4,247.24 414.57,243.76 414.74,240.28 414.9,236.8 415.07,233.32 415.24,229.84 415.4,226.35 415.57,222.87 415.73,219.39 415.9,217.58 416.07,216.36 416.23,215.15 416.4,213.93 416.57,212.72 416.73,211.5 416.9,211.63 417.06,212.7 417.23,213.76 417.4,214.94 417.56,217.42 417.73,219.9 417.9,222.38 418.06,224.86 418.23,227.35 418.39,229.02 418.56,230.51 418.73,232 418.89,233.49 419.06,234.44 419.23,234.66 419.39,234.87 419.56,235.08 419.73,235.3 419.89,235.84 420.06,236.37 420.22,236.9 420.39,237.92 420.56,239.39 420.72,240.86 420.89,242.33 421.06,243.79 421.22,245.26 421.39,246.73 421.55,248.2 421.72,249.67 421.89,251.14 422.05,252.61 422.22,254.08 422.39,255.55 422.55,257.02 422.72,258.48 422.88,259.95 423.05,261.42 423.22,262.89 423.38,264.39 423.55,266.23 423.72,268.08 423.88,269.92 424.05,271.77 424.21,273.61 424.38,275.45 424.55,277.3 424.71,279.14 424.88,280.99 425.05,282.83 425.21,284.67 425.38,286.52 425.55,288.36 425.71,289.49 425.88,290.56 426.04,291.62 426.21,291.84 426.38,290.77 426.54,289.71 426.71,288.65 426.88,285.9 427.04,282.94 427.21,279.97 427.37,277.01 427.54,274.05 427.71,271.08 427.87,268.12 428.04,265.16 428.21,262.19 428.37,259.23 428.54,256.27 428.7,253.3 428.87,250.03 429.04,246.55 429.2,243.07 429.37,239.59 429.54,236.1 429.7,232.62 429.87,229.14 430.03,225.66 430.2,222.18 430.37,218.7 430.53,217.34 430.7,216.12 430.87,214.91 431.03,213.69 431.2,212.47 431.37,211.26 431.53,211.84 431.7,212.91 431.86,213.97 432.03,215.43 432.2,217.91 432.36,220.4 432.53,222.88 432.7,225.36 432.86,227.83 433.03,229.32 433.19,230.81 433.36,232.3 433.53,233.79 433.69,234.49 433.86,234.7 434.03,234.91 434.19,235.12 434.36,235.41 434.52,235.94 434.69,236.47 434.86,237.01 435.02,238.21 435.19,239.68 435.36,241.15 435.52,242.62 435.69,244.09 435.85,245.56 436.02,247.03 436.19,248.49 436.35,249.96 436.52,251.43 436.69,252.9 436.85,254.37 437.02,255.84 437.19,257.31 437.35,258.78 437.52,260.25 437.68,261.72 437.85,263.18 438.02,264.76 438.18,266.6 438.35,268.45 438.52,270.29 438.68,272.13 438.85,273.98 439.01,275.82 439.18,277.67 439.35,279.51 439.51,281.35 439.68,283.2 439.85,285.04 440.01,286.88 440.18,288.64 440.34,289.71 440.51,290.77 440.68,291.83 440.84,291.63 441.01,290.56 441.18,289.5 441.34,288.27 441.51,285.31 441.67,282.34 441.84,279.38 442.01,276.42 442.17,273.45 442.34,270.49 442.51,267.53 442.67,264.56 442.84,261.6 443.01,258.64 443.17,255.67 443.34,252.71 443.5,249.34 443.67,245.85 443.84,242.37 444,238.89 444.17,235.41 444.34,231.93 444.5,228.45 444.67,224.97 444.83,221.48 445,218.31 445.17,217.1 445.33,215.88 445.5,214.66 445.67,213.45 445.83,212.23 446,211.02 446.16,212.06 446.33,213.12 446.5,214.18 446.66,215.93 446.83,218.41 447,220.89 447.16,223.37 447.33,225.85 447.49,228.13 447.66,229.62 447.83,231.11 447.99,232.6 448.16,234.09 448.33,234.53 448.49,234.74 448.66,234.95 448.83,235.17 448.99,235.52 449.16,236.05 449.32,236.58 449.49,237.11 449.66,238.5 449.82,239.97 449.99,241.44 450.16,242.91 450.32,244.38 450.49,245.85 450.65,247.32 450.82,248.79 450.99,250.26 451.15,251.73 451.32,253.19 451.49,254.66 451.65,256.13 451.82,257.6 451.98,259.07 452.15,260.54 452.32,262.01 452.48,263.48 452.65,265.13 452.82,266.97 452.98,268.81 453.15,270.66 453.31,272.5 453.48,274.35 453.65,276.19 453.81,278.03 453.98,279.88 454.15,281.72 454.31,283.56 454.48,285.41 454.65,287.25 454.81,288.86 454.98,289.92 455.14,290.98 455.31,292.05 455.48,291.41 455.64,290.35 455.81,289.29 455.98,287.68 456.14,284.72 456.31,281.75 456.47,278.79 456.64,275.83 456.81,272.86 456.97,269.9 457.14,266.94 457.31,263.97 457.47,261.01 457.64,258.05 457.8,255.08 457.97,252.12 458.14,248.64 458.3,245.16 458.47,241.68 458.64,238.2 458.8,234.72 458.97,231.24 459.13,227.75 459.3,224.27 459.47,220.79 459.63,218.07 459.8,216.85 459.97,215.64 460.13,214.42 460.3,213.21 460.47,211.99 460.63,211.21 460.8,212.27 460.96,213.33 461.13,214.4 461.3,216.42 461.46,218.9 461.63,221.38 461.8,223.87 461.96,226.35 462.13,228.43 462.29,229.91 462.46,231.4 462.63,232.89 462.79,234.36 462.96,234.57 463.13,234.78 463.29,235 463.46,235.21 463.62,235.62 463.79,236.15 463.96,236.69 464.12,237.33 464.29,238.8 464.46,240.27 464.62,241.73 464.79,243.2 464.95,244.67 465.12,246.14 465.29,247.61 465.45,249.08 465.62,250.55 465.79,252.02 465.95,253.49 466.12,254.96 466.29,256.42 466.45,257.89 466.62,259.36 466.78,260.83 466.95,262.3 467.12,263.77 467.28,265.49 467.45,267.34 467.62,269.18 467.78,271.03 467.95,272.87 468.11,274.71 468.28,276.56 468.45,278.4 468.61,280.24 468.78,282.09 468.95,283.93 469.11,285.78 469.28,287.62 469.44,289.07 469.61,290.13 469.78,291.19 469.94,292.26 470.11,291.2 470.28,290.14 470.44,289.07 470.61,287.09 470.77,284.13 470.94,281.16 471.11,278.2 471.27,275.24 471.44,272.27 471.61,269.31 471.77,266.35 471.94,263.38 472.11,260.42 472.27,257.46 472.44,254.49 472.6,251.43 472.77,247.95 472.94,244.47 473.1,240.99 473.27,237.5 473.44,234.02 473.6,230.54 473.77,227.06 473.93,223.58 474.1,220.1 474.27,217.83 474.43,216.61 474.6,215.39 474.77,214.18 474.93,212.96 475.1,211.75 475.26,211.42 475.43,212.48 475.6,213.54 475.76,214.61 475.93,216.92 476.1,219.4 476.26,221.88 476.43,224.36 476.59,226.84 476.76,228.72 476.93,230.21 477.09,231.7 477.26,233.19 477.43,234.4 477.59,234.61 477.76,234.83 477.93,235.04 478.09,235.25 478.26,235.73 478.42,236.26 478.59,236.79 478.76,237.62 478.92,239.09 479.09,240.56 479.26,242.03 479.42,243.5 479.59,244.97 479.75,246.43 479.92,247.9 480.09,249.37 480.25,250.84 480.42,252.31 480.59,253.78 480.75,255.25 480.92,256.72 481.08,258.19 481.25,259.66 481.42,261.12 481.58,262.59 481.75,264.06 481.92,265.86 482.08,267.7 482.25,269.55 482.41,271.39 482.58,273.24 482.75,275.08 482.91,276.92 483.08,278.77 483.25,280.61 483.41,282.46 483.58,284.3 483.75,286.14 483.91,287.99 484.08,289.28 484.24,290.34 484.41,291.41 484.58,292.05 484.74,290.99 484.91,289.93 485.08,288.86 485.24,286.5 485.41,283.54 485.57,280.57 485.74,277.61 485.91,274.65 486.07,271.68 486.24,268.72 486.41,265.76 486.57,262.79 486.74,259.83 486.9,256.87 487.07,253.9 487.24,250.74 487.4,247.25 487.57,243.77 487.74,240.29 487.9,236.81 488.07,233.33 488.23,229.85 488.4,226.37 488.57,222.88 488.73,219.4 488.9,217.58 489.07,216.37 489.23,215.15 489.4,213.94 489.57,212.72 489.73,211.51 489.9,211.63 490.06,212.69 490.23,213.76 490.4,214.93 490.56,217.41 490.73,219.89 490.9,222.37 491.06,224.86 491.23,227.34 491.39,229.02 491.56,230.51 491.73,232 491.89,233.49 492.06,234.44 492.23,234.66 492.39,234.87 492.56,235.08 492.72,235.3 492.89,235.83 493.06,236.37 493.22,236.9 493.39,237.91 493.56,239.38 493.72,240.85 493.89,242.32 494.05,243.79 494.22,245.26 494.39,246.73 494.55,248.2 494.72,249.67 494.89,251.13 495.05,252.6 495.22,254.07 495.39,255.54 495.55,257.01 495.72,258.48 495.88,259.95 496.05,261.42 496.22,262.89 496.38,264.38 496.55,266.23 496.72,268.07 496.88,269.92 497.05,271.76 497.21,273.6 497.38,275.45 497.55,277.29 497.71,279.14 497.88,280.98 498.05,282.82 498.21,284.67 498.38,286.51 498.54,288.35 498.71,289.49 498.88,290.55 499.04,291.62 499.21,291.84 499.38,290.78 499.54,289.71 499.71,288.65 499.87,285.91 500.04,282.95 500.21,279.98 500.37,277.02 500.54,274.06 500.71,271.09 500.87,268.13 501.04,265.17 501.21,262.2 501.37,259.24 501.54,256.28 501.7,253.31 501.87,250.04 502.04,246.56 502.2,243.08 502.37,239.6 502.54,236.12 502.7,232.64 502.87,229.15 503.03,225.67 503.2,222.19 503.37,218.71 503.53,217.34 503.7,216.13 503.87,214.91 504.03,213.69 504.2,212.48 504.36,211.26 504.53,211.84 504.7,212.9 504.86,213.97 505.03,215.42 505.2,217.9 505.36,220.39 505.53,222.87 505.69,225.35 505.86,227.83 506.03,229.32 506.19,230.8 506.36,232.29 506.53,233.78 506.69,234.49 506.86,234.7 507.03,234.91 507.19,235.12 507.36,235.41 507.52,235.94 507.69,236.47 507.86,237 508.02,238.21 508.19,239.68 508.36,241.14 508.52,242.61 508.69,244.08 508.85,245.55 509.02,247.02 509.19,248.49 509.35,249.96 509.52,251.43 509.69,252.9 509.85,254.37 510.02,255.83 510.18,257.3 510.35,258.77 510.52,260.24 510.68,261.71 510.85,263.18 511.02,264.75 511.18,266.6 511.35,268.44 511.51,270.28 511.68,272.13 511.85,273.97 512.01,275.82 512.18,277.66 512.35,279.5 512.51,281.35 512.68,283.19 512.85,285.03 513.01,286.88 513.18,288.64 513.34,289.7 513.51,290.77 513.68,291.83 513.84,291.63 514.01,290.57 514.18,289.5 514.34,288.28 514.51,285.32 514.67,282.35 514.84,279.39 515.01,276.43 515.17,273.46 515.34,270.5 515.51,267.54 515.67,264.57 515.84,261.61 516,258.65 516.17,255.68 516.34,252.72 516.5,249.35 516.67,245.87 516.84,242.39 517,238.9 517.17,235.42 517.33,231.94 517.5,228.46 517.67,224.98 517.83,221.5 518,218.32" fill="none" stroke="#3a3a3a" stroke-width="0.8" stroke-linejoin="round"/>
<rect x="402" y="376.3" width="116.5" height="93.5" fill="none" stroke="#444" stroke-width="1.0"/>
<line x1="400.4" y1="469.8" x2="402" y2="469.8" stroke="#555" stroke-width="0.6"/>
<text x="399.6" y="471.4" font-size="4.4" fill="#555" text-anchor="end" font-weight="normal" >-5</text>
<line x1="401.1" y1="465.12" x2="402" y2="465.12" stroke="#777" stroke-width="0.5"/>
<line x1="400.4" y1="460.45" x2="402" y2="460.45" stroke="#555" stroke-width="0.6"/>
<text x="399.6" y="462.05" font-size="4.4" fill="#555" text-anchor="end" font-weight="normal" >-4</text>
<line x1="401.1" y1="455.77" x2="402" y2="455.77" stroke="#777" stroke-width="0.5"/>
<line x1="400.4" y1="451.1" x2="402" y2="451.1" stroke="#555" stroke-width="0.6"/>
<text x="399.6" y="452.7" font-size="4.4" fill="#555" text-anchor="end" font-weight="normal" >-3</text>
<line x1="401.1" y1="446.43" x2="402" y2="446.43" stroke="#777" stroke-width="0.5"/>
<line x1="400.4" y1="441.75" x2="402" y2="441.75" stroke="#555" stroke-width="0.6"/>
<text x="399.6" y="443.35" font-size="4.4" fill="#555" text-anchor="end" font-weight="normal" >-2</text>
<line x1="401.1" y1="437.07" x2="402" y2="437.07" stroke="#777" stroke-width="0.5"/>
<line x1="400.4" y1="432.4" x2="402" y2="432.4" stroke="#555" stroke-width="0.6"/>
<text x="399.6" y="434" font-size="4.4" fill="#555" text-anchor="end" font-weight="normal" >-1</text>
<line x1="401.1" y1="427.73" x2="402" y2="427.73" stroke="#777" stroke-width="0.5"/>
<line x1="400.4" y1="423.05" x2="402" y2="423.05" stroke="#555" stroke-width="0.6"/>
<text x="399.6" y="424.65" font-size="4.4" fill="#555" text-anchor="end" font-weight="normal" >0</text>
<line x1="401.1" y1="418.38" x2="402" y2="418.38" stroke="#777" stroke-width="0.5"/>
<line x1="400.4" y1="413.7" x2="402" y2="413.7" stroke="#555" stroke-width="0.6"/>
<text x="399.6" y="415.3" font-size="4.4" fill="#555" text-anchor="end" font-weight="normal" >1</text>
<line x1="401.1" y1="409.02" x2="402" y2="409.02" stroke="#777" stroke-width="0.5"/>
<line x1="400.4" y1="404.35" x2="402" y2="404.35" stroke="#555" stroke-width="0.6"/>
<text x="399.6" y="405.95" font-size="4.4" fill="#555" text-anchor="end" font-weight="normal" >2</text>
<line x1="401.1" y1="399.68" x2="402" y2="399.68" stroke="#777" stroke-width="0.5"/>
<line x1="400.4" y1="395" x2="402" y2="395" stroke="#555" stroke-width="0.6"/>
<text x="399.6" y="396.6" font-size="4.4" fill="#555" text-anchor="end" font-weight="normal" >3</text>
<line x1="401.1" y1="390.32" x2="402" y2="390.32" stroke="#777" stroke-width="0.5"/>
<line x1="400.4" y1="385.65" x2="402" y2="385.65" stroke="#555" stroke-width="0.6"/>
<text x="399.6" y="387.25" font-size="4.4" fill="#555" text-anchor="end" font-weight="normal" >4</text>
<line x1="401.1" y1="380.98" x2="402" y2="380.98" stroke="#777" stroke-width="0.5"/>
<line x1="400.4" y1="376.3" x2="402" y2="376.3" stroke="#555" stroke-width="0.6"/>
<text x="399.6" y="377.9" font-size="4.4" fill="#555" text-anchor="end" font-weight="normal" >5</text>
<line x1="402" y1="469.8" x2="402" y2="471.4" stroke="#555" stroke-width="0.6"/>
<text x="402" y="475.8" font-size="4.4" fill="#555" text-anchor="middle" font-weight="normal" >0.00</text>
<line x1="416.56" y1="469.8" x2="416.56" y2="470.7" stroke="#777" stroke-width="0.5"/>
<line x1="431.12" y1="469.8" x2="431.12" y2="471.4" stroke="#555" stroke-width="0.6"/>
<text x="431.12" y="475.8" font-size="4.4" fill="#555" text-anchor="middle" font-weight="normal" >0.05</text>
<line x1="445.69" y1="469.8" x2="445.69" y2="470.7" stroke="#777" stroke-width="0.5"/>
<line x1="460.25" y1="469.8" x2="460.25" y2="471.4" stroke="#555" stroke-width="0.6"/>
<text x="460.25" y="475.8" font-size="4.4" fill="#555" text-anchor="middle" font-weight="normal" >0.10</text>
<line x1="474.81" y1="469.8" x2="474.81" y2="470.7" stroke="#777" stroke-width="0.5"/>
<line x1="489.38" y1="469.8" x2="489.38" y2="471.4" stroke="#555" stroke-width="0.6"/>
<text x="489.38" y="475.8" font-size="4.4" fill="#555" text-anchor="middle" font-weight="normal" >0.15</text>
<line x1="503.94" y1="469.8" x2="503.94" y2="470.7" stroke="#777" stroke-width="0.5"/>
<line x1="518.5" y1="469.8" x2="518.5" y2="471.4" stroke="#555" stroke-width="0.6"/>
<text x="518.5" y="475.8" font-size="4.4" fill="#555" text-anchor="middle" font-weight="normal" >0.20</text>
<text x="460.25" y="482.4" font-size="5.0" fill="#555" text-anchor="middle" font-weight="normal" >Time (s)</text>
<text transform="translate(391.7,422.05) rotate(-90)" font-size="4.8" fill="#555" text-anchor="middle">Voltage Vp-p (V)</text>
<polyline points="402,399.72 402.17,401.08 402.33,402.63 402.5,404.36 402.67,406.28 402.83,408.37 403,410.63 403.17,413.06 403.33,415.64 403.5,418.35 403.66,421.18 403.83,424.11 404,427.12 404.16,430.17 404.33,433.26 404.5,436.34 404.66,439.4 404.83,442.41 405,445.33 405.16,448.14 405.33,450.82 405.5,453.33 405.66,455.65 405.83,457.77 405.99,459.65 406.16,461.27 406.33,462.63 406.49,463.7 406.66,464.48 406.83,464.96 406.99,465.12 407.16,464.98 407.33,464.53 407.49,463.78 407.66,462.73 407.82,461.4 407.99,459.8 408.16,457.94 408.32,455.84 408.49,453.54 408.66,451.04 408.82,448.38 408.99,445.58 409.16,442.66 409.32,439.66 409.49,436.61 409.66,433.52 409.82,430.44 409.99,427.38 410.15,424.37 410.32,421.43 410.49,418.59 410.65,415.87 410.82,413.28 410.99,410.84 411.15,408.56 411.32,406.45 411.49,404.52 411.65,402.77 411.82,401.21 411.99,399.83 412.15,398.63 412.32,397.6 412.49,396.73 412.65,396.02 412.82,395.44 412.98,395 413.15,394.66 413.32,394.42 413.48,394.25 413.65,394.15 413.82,394.1 413.98,394.07 414.15,394.07 414.32,394.07 414.48,394.07 414.65,394.08 414.81,394.1 414.98,394.17 415.15,394.28 415.31,394.46 415.48,394.71 415.65,395.07 415.81,395.54 415.98,396.14 416.15,396.88 416.31,397.78 416.48,398.84 416.65,400.07 416.81,401.49 416.98,403.09 417.14,404.87 417.31,406.83 417.48,408.97 417.64,411.29 417.81,413.76 417.98,416.37 418.14,419.12 418.31,421.98 418.48,424.93 418.64,427.95 418.81,431.02 418.98,434.11 419.14,437.19 419.31,440.23 419.48,443.22 419.64,446.11 419.81,448.89 419.97,451.53 420.14,453.99 420.31,456.26 420.47,458.31 420.64,460.12 420.81,461.67 420.97,462.95 421.14,463.95 421.31,464.64 421.47,465.03 421.64,465.12 421.81,464.89 421.97,464.36 422.14,463.52 422.3,462.39 422.47,460.98 422.64,459.31 422.8,457.39 422.97,455.23 423.14,452.87 423.3,450.32 423.47,447.62 423.64,444.79 423.8,441.85 423.97,438.83 424.13,435.76 424.3,432.67 424.47,429.59 424.63,426.54 424.8,423.55 424.97,420.64 425.13,417.83 425.3,415.14 425.47,412.59 425.63,410.19 425.8,407.96 425.97,405.9 426.13,404.02 426.3,402.32 426.46,400.81 426.63,399.48 426.8,398.33 426.96,397.34 427.13,396.52 427.3,395.84 427.46,395.31 427.63,394.89 427.8,394.58 427.96,394.37 428.13,394.22 428.3,394.13 428.46,394.09 428.63,394.07 428.8,394.07 428.96,394.07 429.13,394.07 429.29,394.08 429.46,394.12 429.63,394.19 429.79,394.32 429.96,394.52 430.13,394.8 430.29,395.19 430.46,395.69 430.63,396.33 430.79,397.11 430.96,398.05 431.12,399.16 431.29,400.44 431.46,401.91 431.62,403.56 431.79,405.39 431.96,407.4 432.12,409.59 432.29,411.95 432.46,414.46 432.62,417.11 432.79,419.89 432.96,422.78 433.12,425.75 433.29,428.79 433.45,431.87 433.62,434.95 433.79,438.03 433.95,441.06 434.12,444.02 434.29,446.89 434.45,449.63 434.62,452.22 434.79,454.63 434.95,456.84 435.12,458.83 435.29,460.57 435.45,462.05 435.62,463.25 435.78,464.17 435.95,464.78 436.12,465.09 436.28,465.09 436.45,464.77 436.62,464.16 436.78,463.24 436.95,462.03 437.12,460.55 437.28,458.81 437.45,456.82 437.62,454.6 437.78,452.19 437.95,449.6 438.12,446.85 438.28,443.99 438.45,441.02 438.61,437.99 438.78,434.91 438.95,431.83 439.11,428.75 439.28,425.72 439.45,422.74 439.61,419.86 439.78,417.08 439.95,414.43 440.11,411.92 440.28,409.56 440.44,407.38 440.61,405.37 440.78,403.54 440.94,401.89 441.11,400.43 441.28,399.15 441.44,398.04 441.61,397.1 441.78,396.32 441.94,395.68 442.11,395.18 442.28,394.8 442.44,394.52 442.61,394.32 442.77,394.19 442.94,394.12 443.11,394.08 443.27,394.07 443.44,394.07 443.61,394.07 443.77,394.07 443.94,394.09 444.11,394.13 444.27,394.22 444.44,394.37 444.61,394.59 444.77,394.9 444.94,395.31 445.11,395.85 445.27,396.53 445.44,397.35 445.6,398.34 445.77,399.5 445.94,400.83 446.1,402.34 446.27,404.04 446.44,405.93 446.6,407.99 446.77,410.22 446.94,412.62 447.1,415.18 447.27,417.87 447.44,420.68 447.6,423.59 447.77,426.58 447.93,429.63 448.1,432.71 448.27,435.8 448.43,438.87 448.6,441.88 448.77,444.82 448.93,447.66 449.1,450.36 449.27,452.9 449.43,455.26 449.6,457.41 449.76,459.33 449.93,461 450.1,462.41 450.26,463.53 450.43,464.37 450.6,464.9 450.76,465.12 450.93,465.03 451.1,464.63 451.26,463.93 451.43,462.94 451.6,461.65 451.76,460.1 451.93,458.28 452.1,456.23 452.26,453.96 452.43,451.49 452.59,448.86 452.76,446.08 452.93,443.18 453.09,440.2 453.26,437.15 453.43,434.07 453.59,430.98 453.76,427.91 453.93,424.89 454.09,421.94 454.26,419.08 454.43,416.34 454.59,413.72 454.76,411.25 454.92,408.95 455.09,406.81 455.26,404.85 455.42,403.07 455.59,401.47 455.76,400.06 455.92,398.82 456.09,397.76 456.26,396.87 456.42,396.13 456.59,395.53 456.75,395.07 456.92,394.71 457.09,394.45 457.25,394.28 457.42,394.17 457.59,394.1 457.75,394.08 457.92,394.07 458.09,394.07 458.25,394.07 458.42,394.07 458.59,394.1 458.75,394.15 458.92,394.26 459.08,394.42 459.25,394.66 459.42,395 459.58,395.45 459.75,396.02 459.92,396.74 460.08,397.61 460.25,398.64 460.42,399.84 460.58,401.23 460.75,402.79 460.92,404.54 461.08,406.47 461.25,408.59 461.42,410.87 461.58,413.31 461.75,415.9 461.91,418.63 462.08,421.47 462.25,424.41 462.41,427.42 462.58,430.48 462.75,433.56 462.91,436.65 463.08,439.7 463.25,442.7 463.41,445.61 463.58,448.41 463.75,451.07 463.91,453.57 464.08,455.87 464.24,457.96 464.41,459.82 464.58,461.42 464.74,462.75 464.91,463.79 465.08,464.54 465.24,464.99 465.41,465.12 465.58,464.95 465.74,464.47 465.91,463.69 466.07,462.61 466.24,461.25 466.41,459.62 466.57,457.74 466.74,455.63 466.91,453.3 467.07,450.79 467.24,448.11 467.41,445.29 467.57,442.37 467.74,439.36 467.91,436.3 468.07,433.22 468.24,430.13 468.4,427.08 468.57,424.07 468.74,421.15 468.9,418.32 469.07,415.61 469.24,413.03 469.4,410.6 469.57,408.34 469.74,406.25 469.9,404.34 470.07,402.61 470.24,401.06 470.4,399.7 470.57,398.52 470.74,397.5 470.9,396.65 471.07,395.95 471.23,395.39 471.4,394.96 471.57,394.63 471.73,394.4 471.9,394.24 472.07,394.15 472.23,394.09 472.4,394.07 472.57,394.07 472.73,394.07 472.9,394.07 473.06,394.08 473.23,394.11 473.4,394.18 473.56,394.29 473.73,394.48 473.9,394.74 474.06,395.11 474.23,395.59 474.4,396.21 474.56,396.96 474.73,397.87 474.9,398.95 475.06,400.21 475.23,401.64 475.39,403.26 475.56,405.06 475.73,407.04 475.89,409.2 476.06,411.52 476.23,414.01 476.39,416.64 476.56,419.4 476.73,422.27 476.89,425.23 477.06,428.25 477.23,431.32 477.39,434.41 477.56,437.49 477.73,440.53 477.89,443.51 478.06,446.39 478.22,449.16 478.39,451.78 478.56,454.22 478.72,456.47 478.89,458.5 479.06,460.28 479.22,461.81 479.39,463.06 479.56,464.03 479.72,464.69 479.89,465.06 480.06,465.11 480.22,464.85 480.39,464.29 480.55,463.42 480.72,462.27 480.89,460.83 481.05,459.13 481.22,457.18 481.39,455.01 481.55,452.63 481.72,450.06 481.89,447.35 482.05,444.5 482.22,441.55 482.38,438.53 482.55,435.46 482.72,432.37 482.88,429.29 483.05,426.25 483.22,423.26 483.38,420.36 483.55,417.56 483.72,414.88 483.88,412.35 484.05,409.97 484.22,407.75 484.38,405.71 484.55,403.85 484.72,402.17 484.88,400.67 485.05,399.36 485.21,398.22 485.38,397.25 485.55,396.45 485.71,395.79 485.88,395.26 486.05,394.86 486.21,394.56 486.38,394.35 486.55,394.21 486.71,394.13 486.88,394.09 487.05,394.07 487.21,394.07 487.38,394.07 487.54,394.07 487.71,394.08 487.88,394.12 488.04,394.2 488.21,394.34 488.38,394.54 488.54,394.84 488.71,395.23 488.88,395.75 489.04,396.4 489.21,397.2 489.38,398.15 489.54,399.28 489.71,400.58 489.87,402.06 490.04,403.73 490.21,405.58 490.37,407.61 490.54,409.82 490.71,412.19 490.87,414.72 491.04,417.38 491.21,420.18 491.37,423.07 491.54,426.05 491.7,429.09 491.87,432.17 492.04,435.26 492.2,438.33 492.37,441.36 492.54,444.31 492.7,447.17 492.87,449.89 493.04,452.47 493.2,454.86 493.37,457.05 493.54,459.01 493.7,460.73 493.87,462.18 494.03,463.36 494.2,464.24 494.37,464.82 494.53,465.1 494.7,465.07 494.87,464.73 495.03,464.08 495.2,463.13 495.37,461.9 495.53,460.39 495.7,458.62 495.87,456.61 496.03,454.37 496.2,451.94 496.37,449.33 496.53,446.58 496.7,443.7 496.86,440.73 497.03,437.69 497.2,434.61 497.36,431.52 497.53,428.45 497.7,425.42 497.86,422.45 498.03,419.58 498.2,416.81 498.36,414.17 498.53,411.68 498.69,409.34 498.86,407.17 499.03,405.18 499.19,403.37 499.36,401.74 499.53,400.29 499.69,399.03 499.86,397.94 500.03,397.02 500.19,396.25 500.36,395.63 500.53,395.14 500.69,394.77 500.86,394.49 501.02,394.3 501.19,394.18 501.36,394.11 501.52,394.08 501.69,394.07 501.86,394.07 502.02,394.07 502.19,394.07 502.36,394.09 502.52,394.14 502.69,394.23 502.86,394.39 503.02,394.61 503.19,394.93 503.36,395.36 503.52,395.91 503.69,396.6 503.85,397.44 504.02,398.45 504.19,399.62 504.35,400.97 504.52,402.5 504.69,404.22 504.85,406.12 505.02,408.2 505.19,410.45 505.35,412.87 505.52,415.44 505.69,418.14 505.85,420.96 506.02,423.88 506.18,426.88 506.35,429.94 506.52,433.02 506.68,436.11 506.85,439.17 507.02,442.18 507.18,445.11 507.35,447.93 507.52,450.62 507.68,453.14 507.85,455.48 508.01,457.61 508.18,459.51 508.35,461.16 508.51,462.53 508.68,463.63 508.85,464.43 509.01,464.93 509.18,465.12 509.35,465.01 509.51,464.58 509.68,463.85 509.85,462.82 510.01,461.51 510.18,459.93 510.35,458.09 510.51,456.01 510.68,453.72 510.84,451.24 511.01,448.59 511.18,445.8 511.34,442.89 511.51,439.9 511.68,436.84 511.84,433.76 512.01,430.68 512.18,427.61 512.34,424.6 512.51,421.65 512.67,418.81 512.84,416.07 513.01,413.47 513.17,411.02 513.34,408.73 513.51,406.61 513.67,404.66 513.84,402.9 514.01,401.32 514.17,399.93 514.34,398.71 514.51,397.67 514.67,396.79 514.84,396.07 515,395.48 515.17,395.03 515.34,394.68 515.5,394.43 515.67,394.26 515.84,394.16 516,394.1 516.17,394.07 516.34,394.07 516.5,394.07 516.67,394.07 516.84,394.07 517,394.1 517.17,394.16 517.34,394.27 517.5,394.44 517.67,394.69 517.83,395.04 518,395.5 518.17,396.09 518.33,396.82 518.5,397.7" fill="none" stroke="#555" stroke-width="0.75" stroke-linejoin="round"/>
<polygon points="130.6,722.07 132.58,721.47 134.57,720.86 136.55,720.25 138.53,719.62 140.51,718.99 142.5,718.35 144.48,717.7 146.46,717.05 148.44,716.39 150.43,715.72 152.41,715.04 154.39,714.36 156.37,713.67 158.36,712.97 160.34,712.26 162.32,711.55 164.31,710.84 166.29,710.11 168.27,709.38 170.25,708.64 172.24,707.9 174.22,707.15 176.2,706.39 178.18,705.63 180.17,704.87 182.15,704.09 184.13,703.32 186.11,702.53 188.1,701.74 190.08,700.95 192.06,700.15 194.05,699.35 196.03,698.54 198.01,697.73 199.99,696.91 201.98,696.09 203.96,695.26 205.94,694.43 207.92,693.59 209.91,692.76 211.89,691.91 213.87,691.06 215.85,690.21 217.84,689.36 219.82,688.5 221.8,687.64 223.79,686.78 225.77,685.91 227.75,685.04 229.73,684.16 231.72,683.29 233.7,682.41 235.68,681.53 237.66,680.64 239.65,679.76 241.63,678.87 243.61,677.98 245.59,677.08 247.58,676.19 249.56,675.29 251.54,674.39 253.53,673.49 255.51,672.59 257.49,671.69 259.47,670.78 261.46,669.88 263.44,668.97 265.42,668.06 267.4,667.16 269.39,666.25 271.37,665.34 273.35,664.43 275.33,663.52 277.32,662.61 279.3,661.7 281.28,660.78 283.27,659.87 285.25,658.96 287.23,658.05 289.21,657.14 291.2,656.23 293.18,655.32 295.16,654.41 297.14,653.51 299.13,652.6 301.11,651.7 303.09,650.79 305.07,649.89 307.06,648.99 309.04,648.09 311.02,647.19 313.01,646.29 314.99,645.4 316.97,644.5 318.95,643.61 320.94,642.72 322.92,641.84 324.9,640.95 326.88,640.07 328.87,639.19 330.85,638.32 332.83,637.44 334.81,636.57 336.8,635.7 338.78,634.84 340.76,633.98 342.75,633.12 344.73,632.27 346.71,631.42 348.69,630.57 350.68,629.73 352.66,628.89 354.64,628.05 356.62,627.22 358.61,626.4 360.59,625.57 362.57,624.76 364.55,623.94 366.54,623.14 368.52,622.33 370.5,621.53 372.49,620.74 374.47,619.95 376.45,619.17 378.43,618.39 380.42,617.62 382.4,616.85 384.38,616.09 386.36,615.34 388.35,614.59 390.33,613.84 392.31,613.11 394.29,612.38 396.28,611.65 398.26,610.94 400.24,610.22 402.23,609.52 404.21,608.82 406.19,608.13 408.17,607.45 410.16,606.77 412.14,606.1 414.12,605.44 416.1,604.79 418.09,604.14 420.07,603.5 422.05,602.87 424.03,602.25 426.02,601.63 428,601.03 428,603.33 426.02,603.93 424.03,604.55 422.05,605.17 420.07,605.8 418.09,606.44 416.1,607.09 414.12,607.74 412.14,608.4 410.16,609.07 408.17,609.75 406.19,610.43 404.21,611.12 402.23,611.82 400.24,612.52 398.26,613.24 396.28,613.95 394.29,614.68 392.31,615.41 390.33,616.14 388.35,616.89 386.36,617.64 384.38,618.39 382.4,619.15 380.42,619.92 378.43,620.69 376.45,621.47 374.47,622.25 372.49,623.04 370.5,623.83 368.52,624.63 366.54,625.44 364.55,626.24 362.57,627.06 360.59,627.87 358.61,628.7 356.62,629.52 354.64,630.35 352.66,631.19 350.68,632.03 348.69,632.87 346.71,633.72 344.73,634.57 342.75,635.42 340.76,636.28 338.78,637.14 336.8,638 334.81,638.87 332.83,639.74 330.85,640.62 328.87,641.49 326.88,642.37 324.9,643.25 322.92,644.14 320.94,645.02 318.95,645.91 316.97,646.8 314.99,647.7 313.01,648.59 311.02,649.49 309.04,650.39 307.06,651.29 305.07,652.19 303.09,653.09 301.11,654 299.13,654.9 297.14,655.81 295.16,656.71 293.18,657.62 291.2,658.53 289.21,659.44 287.23,660.35 285.25,661.26 283.27,662.17 281.28,663.08 279.3,664 277.32,664.91 275.33,665.82 273.35,666.73 271.37,667.64 269.39,668.55 267.4,669.46 265.42,670.36 263.44,671.27 261.46,672.18 259.47,673.08 257.49,673.99 255.51,674.89 253.53,675.79 251.54,676.69 249.56,677.59 247.58,678.49 245.59,679.38 243.61,680.28 241.63,681.17 239.65,682.06 237.66,682.94 235.68,683.83 233.7,684.71 231.72,685.59 229.73,686.46 227.75,687.34 225.77,688.21 223.79,689.08 221.8,689.94 219.82,690.8 217.84,691.66 215.85,692.51 213.87,693.36 211.89,694.21 209.91,695.06 207.92,695.89 205.94,696.73 203.96,697.56 201.98,698.39 199.99,699.21 198.01,700.03 196.03,700.84 194.05,701.65 192.06,702.45 190.08,703.25 188.1,704.04 186.11,704.83 184.13,705.62 182.15,706.39 180.17,707.17 178.18,707.93 176.2,708.69 174.22,709.45 172.24,710.2 170.25,710.94 168.27,711.68 166.29,712.41 164.31,713.14 162.32,713.85 160.34,714.56 158.36,715.27 156.37,715.97 154.39,716.66 152.41,717.34 150.43,718.02 148.44,718.69 146.46,719.35 144.48,720 142.5,720.65 140.51,721.29 138.53,721.92 136.55,722.55 134.57,723.16 132.58,723.77 130.6,724.37" fill="#1434c0"/>
<polygon points="105.3,703.53 130.6,722.07 131.2,724.37 105.9,705.83" fill="#0a1ec8"/>
<polygon points="399.1,585.63 428,601.03 428,603.33 399.1,586.63" fill="#0a1ec8"/>
<g><path d="M105.3,703.53L108.43,702.52L113.32,706.1L110.18,707.1Z" fill="#0019f9"/><path d="M107.26,702.9L110.39,701.88L115.28,705.47L112.14,706.48Z" fill="#0019f9"/><path d="M109.22,702.26L112.35,701.23L117.25,704.83L114.11,705.85Z" fill="#0019f9"/><path d="M111.18,701.62L114.31,700.58L119.21,704.18L116.07,705.21Z" fill="#0019f9"/><path d="M113.13,700.97L116.27,699.92L121.17,703.53L118.03,704.57Z" fill="#0019f9"/><path d="M115.09,700.32L118.23,699.26L123.14,702.86L120,703.92Z" fill="#0019f9"/><path d="M117.05,699.66L120.19,698.59L125.1,702.2L121.96,703.26Z" fill="#001af9"/><path d="M119.01,698.99L122.14,697.91L127.06,701.52L123.92,702.6Z" fill="#001bfc"/><path d="M120.97,698.32L124.1,697.23L129.03,700.85L125.89,701.93Z" fill="#001ffe"/><path d="M122.93,697.64L126.06,696.54L130.99,700.16L127.85,701.25Z" fill="#0023fd"/><path d="M124.89,696.95L128.02,695.85L132.95,699.47L129.81,700.57Z" fill="#0028fd"/><path d="M126.85,696.26L129.98,695.15L134.92,698.77L131.78,699.88Z" fill="#002dfc"/><path d="M128.8,695.57L131.94,694.44L136.88,698.07L133.74,699.19Z" fill="#0032fb"/><path d="M130.76,694.87L133.9,693.73L138.84,697.36L135.7,698.49Z" fill="#0035fa"/><path d="M132.72,694.16L135.86,693.02L140.81,696.65L137.67,697.79Z" fill="#0036fa"/><path d="M134.68,693.45L137.81,692.3L142.77,695.93L139.63,697.08Z" fill="#0039f9"/><path d="M136.64,692.73L139.77,691.57L144.73,695.2L141.59,696.36Z" fill="#0043f8"/><path d="M138.6,692.01L141.73,690.84L146.7,694.47L143.56,695.64Z" fill="#0051f5"/><path d="M140.56,691.28L143.69,690.11L148.66,693.74L145.52,694.91Z" fill="#0061f2"/><path d="M142.51,690.55L145.65,689.37L150.62,693L147.48,694.18Z" fill="#006ff0"/><path d="M144.47,689.81L147.61,688.62L152.59,692.25L149.45,693.44Z" fill="#007aee"/><path d="M146.43,689.07L149.57,687.87L154.55,691.5L151.41,692.7Z" fill="#007fed"/><path d="M148.39,688.32L151.52,687.12L156.51,690.75L153.37,691.95Z" fill="#0087eb"/><path d="M150.35,687.57L153.48,686.36L158.48,689.99L155.34,691.2Z" fill="#009ceb"/><path d="M152.31,686.81L155.44,685.59L160.44,689.22L157.3,690.44Z" fill="#00b8ed"/><path d="M154.27,686.05L157.4,684.83L162.4,688.45L159.26,689.68Z" fill="#00d3ee"/><path d="M156.23,685.29L159.36,684.06L164.37,687.68L161.22,688.92Z" fill="#00e6ef"/><path d="M158.18,684.52L161.32,683.28L166.33,686.9L163.19,688.14Z" fill="#00ebef"/><path d="M160.14,683.75L163.28,682.5L168.29,686.12L165.15,687.37Z" fill="#0cece3"/><path d="M162.1,682.97L165.24,681.72L170.26,685.33L167.11,686.59Z" fill="#21f0ce"/><path d="M164.06,682.19L167.19,680.93L172.22,684.54L169.08,685.81Z" fill="#39f3b6"/><path d="M166.02,681.4L169.15,680.14L174.18,683.75L171.04,685.02Z" fill="#4ef6a1"/><path d="M167.98,680.61L171.11,679.34L176.15,682.95L173,684.23Z" fill="#59f896"/><path d="M169.94,679.82L173.07,678.54L178.11,682.15L174.97,683.43Z" fill="#5bf894"/><path d="M171.89,679.02L175.03,677.74L180.07,681.34L176.93,682.63Z" fill="#61f98e"/><path d="M173.85,678.22L176.99,676.94L182.04,680.53L178.89,681.83Z" fill="#6bf986"/><path d="M175.81,677.42L178.95,676.13L184,679.72L180.86,681.02Z" fill="#77f97b"/><path d="M177.77,676.61L180.9,675.32L185.96,678.91L182.82,680.21Z" fill="#83f871"/><path d="M179.73,675.8L182.86,674.5L187.93,678.09L184.78,679.4Z" fill="#8df869"/><path d="M181.69,674.99L184.82,673.68L189.89,677.26L186.75,678.58Z" fill="#92f864"/><path d="M183.65,674.17L186.78,672.86L191.85,676.44L188.71,677.76Z" fill="#91f865"/><path d="M185.61,673.35L188.74,672.04L193.82,675.61L190.67,676.93Z" fill="#8cf869"/><path d="M187.56,672.53L190.7,671.21L195.78,674.78L192.64,676.11Z" fill="#84f870"/><path d="M189.52,671.71L192.66,670.38L197.74,673.94L194.6,675.28Z" fill="#7af979"/><path d="M191.48,670.88L194.62,669.55L199.71,673.11L196.56,674.44Z" fill="#70f981"/><path d="M193.44,670.05L196.57,668.71L201.67,672.27L198.53,673.61Z" fill="#69f987"/><path d="M195.4,669.22L198.53,667.88L203.63,671.42L200.49,672.77Z" fill="#64f98b"/><path d="M197.36,668.38L200.49,667.04L205.6,670.58L202.45,671.93Z" fill="#61f98e"/><path d="M199.32,667.54L202.45,666.2L207.56,669.73L204.42,671.08Z" fill="#53f79c"/><path d="M201.27,666.7L204.41,665.35L209.52,668.88L206.38,670.24Z" fill="#3ef4b1"/><path d="M203.23,665.86L206.37,664.51L211.49,668.03L208.34,669.39Z" fill="#25f0ca"/><path d="M205.19,665.01L208.33,663.66L213.45,667.17L210.31,668.54Z" fill="#10eddf"/><path d="M207.15,664.17L210.28,662.81L215.41,666.32L212.27,667.69Z" fill="#02ebed"/><path d="M209.11,663.32L212.24,661.96L217.38,665.46L214.23,666.83Z" fill="#00e9ef"/><path d="M211.07,662.47L214.2,661.1L219.34,664.6L216.2,665.97Z" fill="#00ddef"/><path d="M213.03,661.62L216.16,660.25L221.3,663.74L218.16,665.12Z" fill="#00ccee"/><path d="M214.99,660.76L218.12,659.39L223.27,662.87L220.12,664.25Z" fill="#00beed"/><path d="M216.94,659.91L220.08,658.54L225.23,662.01L222.09,663.39Z" fill="#00bbed"/><path d="M218.9,659.05L222.04,657.68L227.19,661.14L224.05,662.53Z" fill="#00b8ed"/><path d="M220.86,658.19L224,656.82L229.15,660.27L226.01,661.66Z" fill="#00b4ed"/><path d="M222.82,657.33L225.95,655.95L231.12,659.41L227.98,660.8Z" fill="#00aeec"/><path d="M224.78,656.47L227.91,655.09L233.08,658.54L229.94,659.93Z" fill="#00a8ec"/><path d="M226.74,655.61L229.87,654.23L235.04,657.66L231.9,659.06Z" fill="#00a3ec"/><path d="M228.7,654.75L231.83,653.36L237.01,656.79L233.87,658.19Z" fill="#009fec"/><path d="M230.65,653.88L233.79,652.5L238.97,655.92L235.83,657.32Z" fill="#009eeb"/><path d="M232.61,653.02L235.75,651.63L240.93,655.04L237.79,656.44Z" fill="#009eeb"/><path d="M234.57,652.15L237.71,650.76L242.9,654.17L239.76,655.57Z" fill="#009ceb"/><path d="M236.53,651.28L239.66,649.9L244.86,653.29L241.72,654.69Z" fill="#0099eb"/><path d="M238.49,650.42L241.62,649.03L246.82,652.42L243.68,653.82Z" fill="#0096eb"/><path d="M240.45,649.55L243.58,648.16L248.79,651.54L245.65,652.94Z" fill="#0093eb"/><path d="M242.41,648.68L245.54,647.29L250.75,650.67L247.61,652.07Z" fill="#0090eb"/><path d="M244.37,647.81L247.5,646.42L252.71,649.79L249.57,651.19Z" fill="#008ceb"/><path d="M246.32,646.94L249.46,645.55L254.68,648.91L251.54,650.31Z" fill="#0087eb"/><path d="M248.28,646.07L251.42,644.68L256.64,648.03L253.5,649.44Z" fill="#0080ed"/><path d="M250.24,645.2L253.38,643.81L258.6,647.16L255.46,648.56Z" fill="#0077ee"/><path d="M252.2,644.33L255.33,642.94L260.57,646.28L257.43,647.68Z" fill="#006df0"/><path d="M254.16,643.47L257.29,642.08L262.53,645.4L259.39,646.81Z" fill="#0064f2"/><path d="M256.12,642.6L259.25,641.21L264.49,644.53L261.35,645.93Z" fill="#005ef3"/><path d="M258.08,641.73L261.21,640.34L266.46,643.65L263.32,645.05Z" fill="#005df3"/><path d="M260.03,640.86L263.17,639.47L268.42,642.77L265.28,644.18Z" fill="#0066f1"/><path d="M261.99,639.99L265.13,638.6L270.38,641.9L267.24,643.3Z" fill="#0076ee"/><path d="M263.95,639.12L267.09,637.74L272.35,641.02L269.21,642.42Z" fill="#0087eb"/><path d="M265.91,638.26L269.04,636.87L274.31,640.15L271.17,641.55Z" fill="#0094eb"/><path d="M267.87,637.39L271,636.01L276.27,639.28L273.13,640.67Z" fill="#00a1ec"/><path d="M269.83,636.53L272.96,635.14L278.24,638.41L275.1,639.8Z" fill="#00b8ed"/><path d="M271.79,635.66L274.92,634.28L280.2,637.54L277.06,638.93Z" fill="#00d1ee"/><path d="M273.75,634.8L276.88,633.42L282.16,636.67L279.02,638.06Z" fill="#00e4ef"/><path d="M275.7,633.94L278.84,632.56L284.13,635.8L280.99,637.19Z" fill="#00ebef"/><path d="M277.66,633.08L280.8,631.7L286.09,634.93L282.95,636.32Z" fill="#15eeda"/><path d="M279.62,632.22L282.76,630.84L288.05,634.06L284.91,635.45Z" fill="#38f3b7"/><path d="M281.58,631.36L284.71,629.99L290.02,633.2L286.88,634.58Z" fill="#58f897"/><path d="M283.54,630.5L286.67,629.13L291.98,632.34L288.84,633.72Z" fill="#64f98b"/><path d="M285.5,629.64L288.63,628.28L293.94,631.48L290.8,632.86Z" fill="#71f980"/><path d="M287.46,628.79L290.59,627.43L295.91,630.62L292.77,631.99Z" fill="#88f86d"/><path d="M289.41,627.94L292.55,626.58L297.87,629.76L294.73,631.13Z" fill="#9af75d"/><path d="M291.37,627.09L294.51,625.73L299.83,628.91L296.69,630.27Z" fill="#9cf75c"/><path d="M293.33,626.24L296.47,624.89L301.8,628.05L298.66,629.42Z" fill="#96f861"/><path d="M295.29,625.39L298.42,624.04L303.76,627.2L300.62,628.56Z" fill="#8cf869"/><path d="M297.25,624.55L300.38,623.2L305.72,626.35L302.58,627.71Z" fill="#82f872"/><path d="M299.21,623.7L302.34,622.36L307.69,625.51L304.55,626.86Z" fill="#78f97a"/><path d="M301.17,622.86L304.3,621.52L309.65,624.66L306.51,626.01Z" fill="#72f97f"/><path d="M303.13,622.03L306.26,620.69L311.61,623.82L308.47,625.17Z" fill="#6ff981"/><path d="M305.08,621.19L308.22,619.86L313.58,622.98L310.44,624.33Z" fill="#63f98c"/><path d="M307.04,620.36L310.18,619.03L315.54,622.15L312.4,623.48Z" fill="#51f79e"/><path d="M309,619.53L312.14,618.2L317.5,621.31L314.36,622.65Z" fill="#3bf3b4"/><path d="M310.96,618.7L314.09,617.38L319.47,620.48L316.33,621.81Z" fill="#25f0ca"/><path d="M312.92,617.87L316.05,616.56L321.43,619.65L318.29,620.98Z" fill="#11edde"/><path d="M314.88,617.05L318.01,615.74L323.39,618.83L320.25,620.15Z" fill="#03ebec"/><path d="M316.84,616.23L319.97,614.93L325.36,618.01L322.22,619.32Z" fill="#00eaef"/><path d="M318.79,615.42L321.93,614.12L327.32,617.19L324.18,618.5Z" fill="#00e3ef"/><path d="M320.75,614.6L323.89,613.31L329.28,616.38L326.14,617.68Z" fill="#00d6ee"/><path d="M322.71,613.79L325.85,612.5L331.25,615.57L328.11,616.87Z" fill="#00c7ee"/><path d="M324.67,612.99L327.8,611.7L333.21,614.76L330.07,616.05Z" fill="#00bbed"/><path d="M326.63,612.18L329.76,610.9L335.17,613.96L332.03,615.24Z" fill="#00b6ed"/><path d="M328.59,611.38L331.72,610.11L337.14,613.16L333.99,614.44Z" fill="#00b2ed"/><path d="M330.55,610.59L333.68,609.32L339.1,612.36L335.96,613.63Z" fill="#00abec"/><path d="M332.51,609.79L335.64,608.53L341.06,611.57L337.92,612.84Z" fill="#00a4ec"/><path d="M334.46,609L337.6,607.75L343.03,610.78L339.88,612.04Z" fill="#00a3ec"/><path d="M336.42,608.22L339.56,606.97L344.99,609.99L341.85,611.25Z" fill="#009deb"/><path d="M338.38,607.44L341.52,606.2L346.95,609.21L343.81,610.46Z" fill="#0093eb"/><path d="M340.34,606.66L343.47,605.42L348.92,608.44L345.77,609.68Z" fill="#0087eb"/><path d="M342.3,605.89L345.43,604.66L350.88,607.67L347.74,608.9Z" fill="#007ced"/><path d="M344.26,605.12L347.39,603.9L352.84,606.9L349.7,608.13Z" fill="#0075ef"/><path d="M346.22,604.35L349.35,603.14L354.81,606.14L351.66,607.36Z" fill="#0073ef"/><path d="M348.17,603.59L351.31,602.38L356.77,605.38L353.63,606.6Z" fill="#006ef0"/><path d="M350.13,602.84L353.27,601.64L358.73,604.63L355.59,605.84Z" fill="#0066f1"/><path d="M352.09,602.08L355.23,600.89L360.7,603.88L357.55,605.08Z" fill="#005bf3"/><path d="M354.05,601.34L357.18,600.15L362.66,603.14L359.52,604.33Z" fill="#0051f5"/><path d="M356.01,600.59L359.14,599.42L364.62,602.4L361.48,603.58Z" fill="#0048f7"/><path d="M357.97,599.86L361.1,598.69L366.59,601.67L363.44,602.84Z" fill="#0043f8"/><path d="M359.93,599.12L363.06,597.96L368.55,600.94L365.41,602.11Z" fill="#0041f8"/><path d="M361.89,598.4L365.02,597.24L370.51,600.22L367.37,601.38Z" fill="#003df9"/><path d="M363.84,597.67L366.98,596.53L372.48,599.5L369.33,600.65Z" fill="#0036fa"/><path d="M365.8,596.96L368.94,595.82L374.44,598.79L371.3,599.93Z" fill="#002ffb"/><path d="M367.76,596.24L370.9,595.12L376.4,598.08L373.26,599.22Z" fill="#0028fd"/><path d="M369.72,595.54L372.85,594.42L378.37,597.38L375.22,598.51Z" fill="#0023fd"/><path d="M371.68,594.84L374.81,593.73L380.33,596.69L377.19,597.8Z" fill="#0022fe"/><path d="M373.64,594.14L376.77,593.04L382.29,596L379.15,597.11Z" fill="#0022fe"/><path d="M375.6,593.45L378.73,592.36L384.26,595.32L381.11,596.41Z" fill="#0021fe"/><path d="M377.55,592.77L380.69,591.68L386.22,594.64L383.08,595.73Z" fill="#001ffe"/><path d="M379.51,592.09L382.65,591.01L388.18,593.97L385.04,595.05Z" fill="#001efe"/><path d="M381.47,591.41L384.61,590.35L390.15,593.31L387,594.38Z" fill="#001cfd"/><path d="M383.43,590.75L386.56,589.69L392.11,592.65L388.97,593.71Z" fill="#001bfb"/><path d="M385.39,590.09L388.52,589.04L394.07,592L390.93,593.05Z" fill="#0019f9"/><path d="M387.35,589.43L390.48,588.4L396.04,591.36L392.89,592.39Z" fill="#0018f8"/><path d="M389.31,588.78L392.44,587.76L398,590.72L394.86,591.74Z" fill="#0018f7"/><path d="M391.27,588.14L394.4,587.12L399.96,590.09L396.82,591.1Z" fill="#0018f7"/><path d="M393.22,587.5L396.36,586.5L401.92,589.46L398.78,590.47Z" fill="#0018f7"/><path d="M395.18,586.87L398.32,585.88L403.89,588.85L400.75,589.84Z" fill="#0018f7"/><path d="M397.14,586.25L399.1,585.63L404.67,588.6L402.71,589.22Z" fill="#0018f7"/><path d="M108.91,706.18L112.05,705.17L116.94,708.76L113.79,709.75Z" fill="#0019f9"/><path d="M110.88,705.55L114.02,704.54L118.91,708.13L115.76,709.13Z" fill="#0019f9"/><path d="M112.84,704.92L115.98,703.9L120.87,707.49L117.73,708.51Z" fill="#0019f9"/><path d="M114.8,704.28L117.94,703.25L122.84,706.85L119.69,707.87Z" fill="#0019f9"/><path d="M116.76,703.64L119.9,702.59L124.81,706.19L121.66,707.23Z" fill="#0019f9"/><path d="M118.72,702.99L121.86,701.93L126.77,705.54L123.63,706.59Z" fill="#001af9"/><path d="M120.69,702.33L123.83,701.26L128.74,704.87L125.59,705.93Z" fill="#001bfb"/><path d="M122.65,701.66L125.79,700.59L130.71,704.2L127.56,705.27Z" fill="#001efe"/><path d="M124.61,700.99L127.75,699.91L132.67,703.53L129.53,704.61Z" fill="#0022fe"/><path d="M126.57,700.32L129.71,699.22L134.64,702.84L131.49,703.93Z" fill="#0027fd"/><path d="M128.54,699.63L131.67,698.53L136.61,702.15L133.46,703.25Z" fill="#002cfc"/><path d="M130.5,698.95L133.64,697.83L138.57,701.46L135.43,702.57Z" fill="#0031fb"/><path d="M132.46,698.25L135.6,697.13L140.54,700.76L137.39,701.88Z" fill="#0034fa"/><path d="M134.42,697.55L137.56,696.42L142.51,700.05L139.36,701.18Z" fill="#0036fa"/><path d="M136.38,696.85L139.52,695.71L144.47,699.34L141.33,700.47Z" fill="#0038fa"/><path d="M138.35,696.14L141.49,694.99L146.44,698.62L143.29,699.76Z" fill="#0041f8"/><path d="M140.31,695.42L143.45,694.26L148.41,697.89L145.26,699.05Z" fill="#004ef6"/><path d="M142.27,694.7L145.41,693.53L150.37,697.16L147.23,698.33Z" fill="#005df3"/><path d="M144.23,693.97L147.37,692.8L152.34,696.43L149.19,697.6Z" fill="#006cf0"/><path d="M146.19,693.24L149.33,692.06L154.31,695.69L151.16,696.87Z" fill="#0078ee"/><path d="M148.16,692.5L151.3,691.31L156.27,694.94L153.13,696.13Z" fill="#007fed"/><path d="M150.12,691.76L153.26,690.56L158.24,694.19L155.09,695.39Z" fill="#0083ec"/><path d="M152.08,691.01L155.22,689.81L160.21,693.44L157.06,694.64Z" fill="#0096eb"/><path d="M154.04,690.26L157.18,689.05L162.17,692.67L159.03,693.89Z" fill="#00b1ec"/><path d="M156,689.5L159.14,688.28L164.14,691.91L160.99,693.13Z" fill="#00cdee"/><path d="M157.97,688.74L161.11,687.51L166.11,691.14L162.96,692.37Z" fill="#00e3ef"/><path d="M159.93,687.97L163.07,686.74L168.08,690.36L164.93,691.6Z" fill="#00ebef"/><path d="M161.89,687.2L165.03,685.96L170.04,689.59L166.9,690.83Z" fill="#08ece7"/><path d="M163.85,686.43L166.99,685.18L172.01,688.8L168.86,690.05Z" fill="#1cefd3"/><path d="M165.82,685.65L168.95,684.4L173.98,688.01L170.83,689.27Z" fill="#34f2bb"/><path d="M167.78,684.87L170.92,683.61L175.94,687.22L172.8,688.49Z" fill="#4af6a5"/><path d="M169.74,684.08L172.88,682.81L177.91,686.42L174.76,687.7Z" fill="#58f897"/><path d="M171.7,683.29L174.84,682.02L179.88,685.62L176.73,686.9Z" fill="#5af895"/><path d="M173.66,682.49L176.8,681.21L181.84,684.82L178.7,686.1Z" fill="#5ff990"/><path d="M175.63,681.7L178.76,680.41L183.81,684.01L180.66,685.3Z" fill="#68f988"/><path d="M177.59,680.89L180.73,679.6L185.78,683.2L182.63,684.5Z" fill="#74f97e"/><path d="M179.55,680.09L182.69,678.79L187.74,682.38L184.6,683.69Z" fill="#80f873"/><path d="M181.51,679.28L184.65,677.98L189.71,681.56L186.56,682.87Z" fill="#8bf86a"/><path d="M183.47,678.46L186.61,677.16L191.68,680.74L188.53,682.06Z" fill="#91f865"/><path d="M185.44,677.65L188.58,676.34L193.64,679.92L190.5,681.24Z" fill="#92f864"/><path d="M187.4,676.83L190.54,675.51L195.61,679.09L192.46,680.41Z" fill="#8df868"/><path d="M189.36,676.01L192.5,674.68L197.58,678.25L194.43,679.58Z" fill="#86f86f"/><path d="M191.32,675.18L194.46,673.85L199.54,677.42L196.4,678.75Z" fill="#7cf977"/><path d="M193.28,674.35L196.42,673.02L201.51,676.58L198.36,677.92Z" fill="#73f97f"/><path d="M195.25,673.52L198.39,672.18L203.48,675.74L200.33,677.08Z" fill="#6af986"/><path d="M197.21,672.69L200.35,671.34L205.44,674.89L202.3,676.24Z" fill="#65f98a"/><path d="M199.17,671.85L202.31,670.5L207.41,674.05L204.26,675.4Z" fill="#63f98c"/><path d="M201.13,671.01L204.27,669.66L209.38,673.2L206.23,674.56Z" fill="#58f897"/><path d="M203.09,670.17L206.23,668.81L211.34,672.35L208.2,673.71Z" fill="#43f5ac"/><path d="M205.06,669.32L208.2,667.97L213.31,671.49L210.16,672.86Z" fill="#2bf1c4"/><path d="M207.02,668.47L210.16,667.11L215.28,670.64L212.13,672Z" fill="#14eedb"/><path d="M208.98,667.63L212.12,666.26L217.24,669.78L214.1,671.15Z" fill="#04ebeb"/><path d="M210.94,666.77L214.08,665.41L219.21,668.92L216.06,670.29Z" fill="#00eaef"/><path d="M212.91,665.92L216.04,664.55L221.18,668.05L218.03,669.43Z" fill="#00e0ef"/><path d="M214.87,665.07L218.01,663.69L223.14,667.19L220,668.57Z" fill="#00d0ee"/><path d="M216.83,664.21L219.97,662.83L225.11,666.32L221.96,667.71Z" fill="#00c0ed"/><path d="M218.79,663.35L221.93,661.97L227.08,665.45L223.93,666.84Z" fill="#00bbed"/><path d="M220.75,662.49L223.89,661.11L229.04,664.58L225.9,665.97Z" fill="#00b9ed"/><path d="M222.72,661.63L225.86,660.24L231.01,663.71L227.86,665.1Z" fill="#00b5ed"/><path d="M224.68,660.76L227.82,659.38L232.98,662.84L229.83,664.23Z" fill="#00afec"/><path d="M226.64,659.9L229.78,658.51L234.94,661.96L231.8,663.36Z" fill="#00a9ec"/><path d="M228.6,659.03L231.74,657.64L236.91,661.09L233.76,662.49Z" fill="#00a4ec"/><path d="M230.56,658.16L233.7,656.77L238.88,660.21L235.73,661.61Z" fill="#00a0ec"/><path d="M232.53,657.29L235.67,655.9L240.84,659.33L237.7,660.74Z" fill="#009eeb"/><path d="M234.49,656.42L237.63,655.03L242.81,658.45L239.66,659.86Z" fill="#009eeb"/><path d="M236.45,655.55L239.59,654.16L244.78,657.57L241.63,658.98Z" fill="#009ceb"/><path d="M238.41,654.68L241.55,653.29L246.74,656.69L243.6,658.1Z" fill="#009aeb"/><path d="M240.37,653.81L243.51,652.41L248.71,655.81L245.56,657.22Z" fill="#0097eb"/><path d="M242.34,652.94L245.48,651.54L250.68,654.93L247.53,656.34Z" fill="#0093eb"/><path d="M244.3,652.06L247.44,650.66L252.64,654.05L249.5,655.46Z" fill="#008feb"/><path d="M246.26,651.19L249.4,649.79L254.61,653.17L251.46,654.58Z" fill="#0089eb"/><path d="M248.22,650.31L251.36,648.92L256.58,652.28L253.43,653.69Z" fill="#0081ec"/><path d="M250.19,649.44L253.32,648.04L258.54,651.4L255.4,652.81Z" fill="#0076ee"/><path d="M252.15,648.57L255.29,647.16L260.51,650.52L257.36,651.93Z" fill="#0067f1"/><path d="M254.11,647.69L257.25,646.29L262.48,649.63L259.33,651.05Z" fill="#0056f4"/><path d="M256.07,646.81L259.21,645.41L264.44,648.75L261.3,650.16Z" fill="#0046f7"/><path d="M258.03,645.94L261.17,644.54L266.41,647.87L263.26,649.28Z" fill="#003bf9"/><path d="M260,645.06L263.13,643.67L268.38,646.98L265.23,648.4Z" fill="#0037fa"/><path d="M261.96,644.19L265.1,642.79L270.34,646.1L267.2,647.51Z" fill="#0040f8"/><path d="M263.92,643.32L267.06,641.92L272.31,645.22L269.16,646.63Z" fill="#0054f5"/><path d="M265.88,642.44L269.02,641.04L274.28,644.34L271.13,645.75Z" fill="#006cf0"/><path d="M267.84,641.57L270.98,640.17L276.24,643.46L273.1,644.87Z" fill="#0081ec"/><path d="M269.81,640.7L272.95,639.3L278.21,642.58L275.06,643.99Z" fill="#0093eb"/><path d="M271.77,639.82L274.91,638.43L280.18,641.7L277.03,643.11Z" fill="#00adec"/><path d="M273.73,638.95L276.87,637.56L282.15,640.82L279,642.23Z" fill="#00c9ee"/><path d="M275.69,638.08L278.83,636.69L284.11,639.95L280.97,641.35Z" fill="#00e0ef"/><path d="M277.65,637.21L280.79,635.82L286.08,639.07L282.93,640.47Z" fill="#00e9ef"/><path d="M279.62,636.34L282.76,634.96L288.05,638.2L284.9,639.6Z" fill="#10eddf"/><path d="M281.58,635.48L284.72,634.09L290.01,637.32L286.87,638.72Z" fill="#33f2bc"/><path d="M283.54,634.61L286.68,633.23L291.98,636.45L288.83,637.85Z" fill="#54f79b"/><path d="M285.5,633.75L288.64,632.37L293.95,635.58L290.8,636.97Z" fill="#63f98c"/><path d="M287.46,632.88L290.6,631.51L295.91,634.71L292.77,636.1Z" fill="#6ef982"/><path d="M289.43,632.02L292.57,630.65L297.88,633.85L294.73,635.23Z" fill="#85f86f"/><path d="M291.39,631.16L294.53,629.79L299.85,632.98L296.7,634.37Z" fill="#99f75f"/><path d="M293.35,630.3L296.49,628.94L301.81,632.12L298.67,633.5Z" fill="#9cf75c"/><path d="M295.31,629.45L298.45,628.08L303.78,631.26L300.63,632.64Z" fill="#97f860"/><path d="M297.28,628.59L300.41,627.23L305.75,630.4L302.6,631.77Z" fill="#8ef868"/><path d="M299.24,627.74L302.38,626.38L307.71,629.54L304.57,630.91Z" fill="#83f871"/><path d="M301.2,626.89L304.34,625.54L309.68,628.69L306.53,630.06Z" fill="#79f979"/><path d="M303.16,626.04L306.3,624.69L311.65,627.84L308.5,629.2Z" fill="#72f97f"/><path d="M305.12,625.2L308.26,623.85L313.61,626.99L310.47,628.35Z" fill="#70f981"/><path d="M307.09,624.35L310.23,623.01L315.58,626.14L312.43,627.5Z" fill="#64f98b"/><path d="M309.05,623.51L312.19,622.17L317.55,625.3L314.4,626.65Z" fill="#53f79c"/><path d="M311.01,622.67L314.15,621.34L319.51,624.45L316.37,625.8Z" fill="#3df4b2"/><path d="M312.97,621.84L316.11,620.51L321.48,623.62L318.33,624.96Z" fill="#27f0c8"/><path d="M314.93,621.01L318.07,619.68L323.45,622.78L320.3,624.12Z" fill="#12eddd"/><path d="M316.9,620.17L320.04,618.85L325.41,621.95L322.27,623.28Z" fill="#04ebeb"/><path d="M318.86,619.35L322,618.03L327.38,621.12L324.23,622.45Z" fill="#00eaef"/><path d="M320.82,618.52L323.96,617.21L329.35,620.29L326.2,621.62Z" fill="#00e4ef"/><path d="M322.78,617.7L325.92,616.39L331.31,619.47L328.17,620.79Z" fill="#00d7ee"/><path d="M324.74,616.88L327.88,615.58L333.28,618.65L330.13,619.96Z" fill="#00c8ee"/><path d="M326.71,616.07L329.85,614.77L335.25,617.84L332.1,619.14Z" fill="#00bbed"/><path d="M328.67,615.26L331.81,613.97L337.21,617.02L334.07,618.32Z" fill="#00b6ed"/><path d="M330.63,614.45L333.77,613.16L339.18,616.22L336.03,617.51Z" fill="#00b3ed"/><path d="M332.59,613.64L335.73,612.37L341.15,615.41L338,616.7Z" fill="#00abec"/><path d="M334.56,612.84L337.69,611.57L343.11,614.61L339.97,615.89Z" fill="#00a5ec"/><path d="M336.52,612.05L339.66,610.78L345.08,613.81L341.93,615.09Z" fill="#00a3ec"/><path d="M338.48,611.25L341.62,609.99L347.05,613.02L343.9,614.29Z" fill="#009deb"/><path d="M340.44,610.46L343.58,609.21L349.01,612.23L345.87,613.5Z" fill="#0093eb"/><path d="M342.4,609.68L345.54,608.43L350.98,611.45L347.83,612.71Z" fill="#0087eb"/><path d="M344.37,608.9L347.51,607.66L352.95,610.67L349.8,611.92Z" fill="#007ced"/><path d="M346.33,608.12L349.47,606.89L354.91,609.9L351.77,611.14Z" fill="#0075ef"/><path d="M348.29,607.35L351.43,606.12L356.88,609.13L353.73,610.36Z" fill="#0073ef"/><path d="M350.25,606.58L353.39,605.36L358.85,608.36L355.7,609.59Z" fill="#006ef0"/><path d="M352.21,605.82L355.35,604.6L360.81,607.6L357.67,608.82Z" fill="#0066f1"/><path d="M354.18,605.06L357.32,603.85L362.78,606.85L359.63,608.06Z" fill="#005bf3"/><path d="M356.14,604.3L359.28,603.11L364.75,606.1L361.6,607.3Z" fill="#0051f5"/><path d="M358.1,603.55L361.24,602.36L366.71,605.35L363.57,606.55Z" fill="#0048f7"/><path d="M360.06,602.81L363.2,601.63L368.68,604.61L365.53,605.8Z" fill="#0043f8"/><path d="M362.02,602.07L365.16,600.9L370.65,603.88L367.5,605.05Z" fill="#0041f8"/><path d="M363.99,601.33L367.13,600.17L372.61,603.15L369.47,604.32Z" fill="#003df9"/><path d="M365.95,600.6L369.09,599.45L374.58,602.42L371.43,603.58Z" fill="#0036fa"/><path d="M367.91,599.88L371.05,598.73L376.55,601.7L373.4,602.86Z" fill="#002efb"/><path d="M369.87,599.16L373.01,598.02L378.51,600.99L375.37,602.13Z" fill="#0027fd"/><path d="M371.84,598.45L374.97,597.32L380.48,600.28L377.33,601.42Z" fill="#0023fd"/><path d="M373.8,597.74L376.94,596.62L382.45,599.58L379.3,600.71Z" fill="#0022fe"/><path d="M375.76,597.03L378.9,595.92L384.41,598.89L381.27,600Z" fill="#0022fe"/><path d="M377.72,596.34L380.86,595.23L386.38,598.2L383.23,599.3Z" fill="#0021fe"/><path d="M379.68,595.65L382.82,594.55L388.35,597.52L385.2,598.61Z" fill="#001ffe"/><path d="M381.65,594.96L384.78,593.88L390.31,596.84L387.17,597.92Z" fill="#001dfe"/><path d="M383.61,594.28L386.75,593.21L392.28,596.17L389.13,597.24Z" fill="#001cfd"/><path d="M385.57,593.61L388.71,592.54L394.25,595.5L391.1,596.57Z" fill="#001bfb"/><path d="M387.53,592.94L390.67,591.89L396.22,594.85L393.07,595.9Z" fill="#0019f9"/><path d="M389.49,592.28L392.63,591.23L398.18,594.2L395.04,595.24Z" fill="#0018f8"/><path d="M391.46,591.62L394.6,590.59L400.15,593.55L397,594.59Z" fill="#0018f7"/><path d="M393.42,590.98L396.56,589.95L402.12,592.92L398.97,593.94Z" fill="#0018f7"/><path d="M395.38,590.33L398.52,589.32L404.08,592.28L400.94,593.3Z" fill="#0018f7"/><path d="M397.34,589.7L400.48,588.7L406.05,591.66L402.9,592.66Z" fill="#0018f7"/><path d="M399.3,589.07L402.44,588.08L408.02,591.05L404.87,592.03Z" fill="#0018f7"/><path d="M401.27,588.45L403.23,587.83L408.8,590.8L406.84,591.41Z" fill="#0018f7"/><path d="M112.53,708.83L115.67,707.83L120.56,711.41L117.41,712.4Z" fill="#0019f9"/><path d="M114.49,708.2L117.64,707.2L122.53,710.79L119.38,711.79Z" fill="#0019f9"/><path d="M116.46,707.58L119.6,706.56L124.5,710.15L121.35,711.16Z" fill="#0019f9"/><path d="M118.43,706.94L121.57,705.91L126.47,709.51L123.32,710.53Z" fill="#0019f9"/><path d="M120.39,706.3L123.54,705.26L128.44,708.86L125.29,709.9Z" fill="#001af9"/><path d="M122.36,705.65L125.5,704.6L130.41,708.21L127.26,709.25Z" fill="#001bfb"/><path d="M124.32,705L127.47,703.94L132.38,707.55L129.23,708.6Z" fill="#001dfe"/><path d="M126.29,704.34L129.43,703.27L134.35,706.88L131.2,707.95Z" fill="#0021fe"/><path d="M128.25,703.67L131.4,702.59L136.32,706.21L133.17,707.28Z" fill="#0026fd"/><path d="M130.22,703L133.36,701.9L138.29,705.52L135.14,706.61Z" fill="#002bfc"/><path d="M132.18,702.31L135.33,701.21L140.26,704.84L137.11,705.93Z" fill="#0030fb"/><path d="M134.15,701.63L137.29,700.52L142.23,704.14L139.08,705.25Z" fill="#0033fb"/><path d="M136.11,700.94L139.26,699.82L144.2,703.44L141.05,704.56Z" fill="#0036fa"/><path d="M138.08,700.24L141.23,699.11L146.17,702.74L143.02,703.86Z" fill="#0037fa"/><path d="M140.05,699.53L143.19,698.39L148.14,702.02L144.99,703.16Z" fill="#003ef9"/><path d="M142.01,698.82L145.16,697.68L150.11,701.31L146.96,702.45Z" fill="#004bf6"/><path d="M143.98,698.11L147.12,696.95L152.08,700.58L148.93,701.74Z" fill="#005af4"/><path d="M145.94,697.39L149.09,696.22L154.05,699.85L150.9,701.02Z" fill="#0069f1"/><path d="M147.91,696.66L151.05,695.49L156.02,699.12L152.87,700.29Z" fill="#0076ee"/><path d="M149.87,695.93L153.02,694.75L157.99,698.38L154.84,699.56Z" fill="#007eed"/><path d="M151.84,695.19L154.98,694L159.96,697.63L156.81,698.82Z" fill="#0081ec"/><path d="M153.8,694.45L156.95,693.25L161.93,696.88L158.78,698.08Z" fill="#0090eb"/><path d="M155.77,693.7L158.91,692.49L163.9,696.12L160.75,697.33Z" fill="#00aaec"/><path d="M157.74,692.95L160.88,691.73L165.87,695.36L162.72,696.58Z" fill="#00c6ee"/><path d="M159.7,692.19L162.85,690.97L167.84,694.6L164.69,695.82Z" fill="#00deef"/><path d="M161.67,691.43L164.81,690.2L169.81,693.83L166.66,695.06Z" fill="#00eaef"/><path d="M163.63,690.66L166.78,689.42L171.78,693.05L168.63,694.29Z" fill="#05ebea"/><path d="M165.6,689.89L168.74,688.65L173.75,692.27L170.6,693.52Z" fill="#16eed9"/><path d="M167.56,689.11L170.71,687.86L175.72,691.48L172.57,692.74Z" fill="#2ef1c1"/><path d="M169.53,688.33L172.67,687.08L177.69,690.69L174.54,691.95Z" fill="#45f5aa"/><path d="M171.49,687.55L174.64,686.28L179.66,689.9L176.51,691.17Z" fill="#55f79a"/><path d="M173.46,686.76L176.6,685.49L181.63,689.1L178.48,690.38Z" fill="#5af895"/><path d="M175.43,685.97L178.57,684.69L183.6,688.3L180.45,689.58Z" fill="#5df992"/><path d="M177.39,685.17L180.54,683.89L185.58,687.49L182.42,688.78Z" fill="#65f98a"/><path d="M179.36,684.37L182.5,683.08L187.55,686.68L184.39,687.97Z" fill="#71f980"/><path d="M181.32,683.56L184.47,682.27L189.52,685.86L186.36,687.17Z" fill="#7df976"/><path d="M183.29,682.75L186.43,681.45L191.49,685.05L188.33,686.35Z" fill="#88f86c"/><path d="M185.25,681.94L188.4,680.63L193.46,684.22L190.3,685.54Z" fill="#90f866"/><path d="M187.22,681.13L190.36,679.81L195.43,683.4L192.27,684.72Z" fill="#92f864"/><path d="M189.18,680.31L192.33,678.99L197.4,682.57L194.24,683.89Z" fill="#8ff867"/><path d="M191.15,679.48L194.29,678.16L199.37,681.74L196.21,683.07Z" fill="#88f86d"/><path d="M193.12,678.66L196.26,677.33L201.34,680.9L198.18,682.24Z" fill="#7ff875"/><path d="M195.08,677.83L198.23,676.49L203.31,680.06L200.15,681.4Z" fill="#75f97d"/><path d="M197.05,677L200.19,675.66L205.28,679.22L202.12,680.56Z" fill="#6cf984"/><path d="M199.01,676.16L202.16,674.82L207.25,678.37L204.09,679.72Z" fill="#66f98a"/><path d="M200.98,675.32L204.12,673.97L209.22,677.52L206.06,678.88Z" fill="#63f98c"/><path d="M202.94,674.48L206.09,673.13L211.19,676.67L208.03,678.03Z" fill="#5bf894"/><path d="M204.91,673.64L208.05,672.28L213.16,675.82L210.01,677.18Z" fill="#49f5a6"/><path d="M206.87,672.79L210.02,671.43L215.13,674.96L211.98,676.33Z" fill="#31f2be"/><path d="M208.84,671.94L211.98,670.58L217.1,674.1L213.95,675.48Z" fill="#19eed6"/><path d="M210.8,671.09L213.95,669.72L219.07,673.24L215.92,674.62Z" fill="#07ece8"/><path d="M212.77,670.24L215.92,668.87L221.04,672.38L217.89,673.76Z" fill="#00ebef"/><path d="M214.74,669.38L217.88,668.01L223.01,671.51L219.86,672.9Z" fill="#00e4ef"/><path d="M216.7,668.52L219.85,667.14L224.98,670.65L221.83,672.03Z" fill="#00d4ee"/><path d="M218.67,667.66L221.81,666.28L226.95,669.78L223.8,671.17Z" fill="#00c3ed"/><path d="M220.63,666.8L223.78,665.42L228.92,668.9L225.77,670.3Z" fill="#00bbed"/><path d="M222.6,665.94L225.74,664.55L230.89,668.03L227.74,669.43Z" fill="#00baed"/><path d="M224.56,665.07L227.71,663.68L232.86,667.16L229.71,668.55Z" fill="#00b6ed"/><path d="M226.53,664.2L229.67,662.81L234.83,666.28L231.68,667.68Z" fill="#00b1ec"/><path d="M228.49,663.33L231.64,661.94L236.8,665.4L233.65,666.8Z" fill="#00abec"/><path d="M230.46,662.46L233.6,661.07L238.77,664.52L235.62,665.93Z" fill="#00a5ec"/><path d="M232.43,661.59L235.57,660.19L240.74,663.64L237.59,665.05Z" fill="#00a1ec"/><path d="M234.39,660.72L237.54,659.32L242.71,662.76L239.56,664.17Z" fill="#009fec"/><path d="M236.36,659.84L239.5,658.44L244.68,661.87L241.53,663.29Z" fill="#009eeb"/><path d="M238.32,658.97L241.47,657.57L246.65,660.99L243.5,662.4Z" fill="#009deb"/><path d="M240.29,658.09L243.43,656.69L248.62,660.1L245.47,661.52Z" fill="#009aeb"/><path d="M242.25,657.22L245.4,655.81L250.59,659.22L247.44,660.63Z" fill="#0097eb"/><path d="M244.22,656.34L247.36,654.93L252.56,658.33L249.41,659.75Z" fill="#0093eb"/><path d="M246.18,655.46L249.33,654.05L254.53,657.44L251.38,658.86Z" fill="#008eeb"/><path d="M248.15,654.58L251.29,653.17L256.5,656.55L253.35,657.97Z" fill="#0087eb"/><path d="M250.12,653.7L253.26,652.29L258.47,655.67L255.32,657.09Z" fill="#007ded"/><path d="M252.08,652.82L255.23,651.41L260.44,654.78L257.29,656.2Z" fill="#006ff0"/><path d="M254.05,651.94L257.19,650.53L262.41,653.89L259.26,655.31Z" fill="#005bf3"/><path d="M256.01,651.06L259.16,649.65L264.38,653L261.23,654.42Z" fill="#0044f8"/><path d="M257.98,650.18L261.12,648.77L266.35,652.11L263.2,653.53Z" fill="#002dfc"/><path d="M259.94,649.29L263.09,647.89L268.32,651.22L265.17,652.64Z" fill="#001cfd"/><path d="M261.91,648.41L265.05,647L270.29,650.33L267.14,651.75Z" fill="#0016f4"/><path d="M263.87,647.53L267.02,646.12L272.26,649.44L269.11,650.86Z" fill="#001cfd"/><path d="M265.84,646.65L268.98,645.24L274.23,648.55L271.08,649.98Z" fill="#0032fb"/><path d="M267.8,645.77L270.95,644.36L276.2,647.67L273.05,649.09Z" fill="#0050f5"/><path d="M269.77,644.89L272.92,643.49L278.17,646.78L275.02,648.2Z" fill="#006cf0"/><path d="M271.74,644.01L274.88,642.61L280.14,645.89L276.99,647.31Z" fill="#0084ec"/><path d="M273.7,643.13L276.85,641.73L282.11,645.01L278.96,646.42Z" fill="#00a2ec"/><path d="M275.67,642.26L278.81,640.85L284.08,644.12L280.93,645.54Z" fill="#00c1ed"/><path d="M277.63,641.38L280.78,639.98L286.05,643.24L282.9,644.65Z" fill="#00dbef"/><path d="M279.6,640.5L282.74,639.1L288.02,642.36L284.87,643.77Z" fill="#00e8ef"/><path d="M281.56,639.63L284.71,638.23L289.99,641.47L286.84,642.89Z" fill="#0cece3"/><path d="M283.53,638.75L286.67,637.36L291.96,640.59L288.81,642Z" fill="#2df1c2"/><path d="M285.49,637.88L288.64,636.49L293.93,639.71L290.78,641.12Z" fill="#50f79f"/><path d="M287.46,637.01L290.61,635.62L295.9,638.84L292.75,640.24Z" fill="#63f98c"/><path d="M289.43,636.14L292.57,634.75L297.87,637.96L294.72,639.36Z" fill="#6cf984"/><path d="M291.39,635.27L294.54,633.88L299.84,637.09L296.69,638.49Z" fill="#82f872"/><path d="M293.36,634.4L296.5,633.02L301.81,636.21L298.66,637.61Z" fill="#97f860"/><path d="M295.32,633.54L298.47,632.15L303.78,635.34L300.63,636.74Z" fill="#9cf75b"/><path d="M297.29,632.67L300.43,631.29L305.75,634.47L302.6,635.87Z" fill="#98f75f"/><path d="M299.25,631.81L302.4,630.43L307.72,633.61L304.57,635Z" fill="#8ff867"/><path d="M301.22,630.95L304.36,629.58L309.69,632.74L306.54,634.13Z" fill="#84f870"/><path d="M303.18,630.09L306.33,628.72L311.66,631.88L308.51,633.26Z" fill="#7af979"/><path d="M305.15,629.23L308.29,627.87L313.64,631.02L310.48,632.4Z" fill="#73f97f"/><path d="M307.12,628.38L310.26,627.02L315.61,630.16L312.45,631.54Z" fill="#70f981"/><path d="M309.08,627.53L312.23,626.17L317.58,629.31L314.42,630.68Z" fill="#66f989"/><path d="M311.05,626.68L314.19,625.33L319.55,628.46L316.39,629.82Z" fill="#55f79a"/><path d="M313.01,625.83L316.16,624.49L321.52,627.61L318.36,628.97Z" fill="#3ff4b0"/><path d="M314.98,624.99L318.12,623.65L323.49,626.76L320.33,628.12Z" fill="#28f1c7"/><path d="M316.94,624.15L320.09,622.81L325.46,625.92L322.3,627.27Z" fill="#14eedb"/><path d="M318.91,623.31L322.05,621.98L327.43,625.08L324.27,626.42Z" fill="#05ebea"/><path d="M320.87,622.48L324.02,621.15L329.4,624.24L326.24,625.58Z" fill="#00eaef"/><path d="M322.84,621.64L325.98,620.32L331.37,623.41L328.21,624.74Z" fill="#00e5ef"/><path d="M324.81,620.81L327.95,619.49L333.34,622.58L330.18,623.91Z" fill="#00d8ef"/><path d="M326.77,619.99L329.92,618.67L335.31,621.75L332.15,623.07Z" fill="#00c9ee"/><path d="M328.74,619.16L331.88,617.86L337.28,620.92L334.12,622.24Z" fill="#00bced"/><path d="M330.7,618.35L333.85,617.04L339.25,620.1L336.09,621.42Z" fill="#00b6ed"/><path d="M332.67,617.53L335.81,616.23L341.22,619.29L338.06,620.6Z" fill="#00b3ed"/><path d="M334.63,616.72L337.78,615.42L343.19,618.48L340.04,619.78Z" fill="#00abec"/><path d="M336.6,615.91L339.74,614.62L345.16,617.67L342.01,618.96Z" fill="#00a5ec"/><path d="M338.56,615.1L341.71,613.82L347.13,616.86L343.98,618.15Z" fill="#00a3ec"/><path d="M340.53,614.3L343.67,613.03L349.1,616.06L345.95,617.35Z" fill="#009deb"/><path d="M342.49,613.5L345.64,612.24L351.07,615.27L347.92,616.54Z" fill="#0093eb"/><path d="M344.46,612.71L347.61,611.45L353.04,614.48L349.89,615.74Z" fill="#0088eb"/><path d="M346.43,611.92L349.57,610.67L355.01,613.69L351.86,614.95Z" fill="#007ded"/><path d="M348.39,611.14L351.54,609.89L356.98,612.91L353.83,614.16Z" fill="#0075ef"/><path d="M350.36,610.36L353.5,609.12L358.95,612.13L355.8,613.37Z" fill="#0073ef"/><path d="M352.32,609.58L355.47,608.35L360.92,611.35L357.77,612.59Z" fill="#006ef0"/><path d="M354.29,608.81L357.43,607.58L362.89,610.59L359.74,611.82Z" fill="#0066f1"/><path d="M356.25,608.04L359.4,606.82L364.86,609.82L361.71,611.05Z" fill="#005bf3"/><path d="M358.22,607.28L361.36,606.07L366.83,609.06L363.68,610.28Z" fill="#0050f5"/><path d="M360.18,606.52L363.33,605.32L368.8,608.31L365.65,609.52Z" fill="#0048f7"/><path d="M362.15,605.77L365.29,604.58L370.77,607.56L367.62,608.76Z" fill="#0043f8"/><path d="M364.12,605.02L367.26,603.84L372.74,606.82L369.59,608.01Z" fill="#0041f8"/><path d="M366.08,604.28L369.23,603.1L374.71,606.08L371.56,607.27Z" fill="#003df9"/><path d="M368.05,603.54L371.19,602.37L376.68,605.35L373.53,606.52Z" fill="#0036fa"/><path d="M370.01,602.81L373.16,601.65L378.65,604.63L375.5,605.79Z" fill="#002efc"/><path d="M371.98,602.08L375.12,600.93L380.62,603.91L377.47,605.06Z" fill="#0027fd"/><path d="M373.94,601.36L377.09,600.22L382.59,603.19L379.44,604.34Z" fill="#0023fe"/><path d="M375.91,600.65L379.05,599.51L384.56,602.48L381.41,603.62Z" fill="#0022fe"/><path d="M377.87,599.94L381.02,598.81L386.53,601.78L383.38,602.91Z" fill="#0022fe"/><path d="M379.84,599.23L382.98,598.12L388.5,601.08L385.35,602.2Z" fill="#0021fe"/><path d="M381.81,598.53L384.95,597.43L390.47,600.39L387.32,601.5Z" fill="#001ffe"/><path d="M383.77,597.84L386.92,596.75L392.44,599.71L389.29,600.81Z" fill="#001dfe"/><path d="M385.74,597.16L388.88,596.07L394.41,599.03L391.26,600.12Z" fill="#001cfc"/><path d="M387.7,596.48L390.85,595.4L396.38,598.36L393.23,599.44Z" fill="#001afa"/><path d="M389.67,595.8L392.81,594.74L398.35,597.7L395.2,598.76Z" fill="#0019f9"/><path d="M391.63,595.13L394.78,594.08L400.32,597.04L397.17,598.1Z" fill="#0018f7"/><path d="M393.6,594.47L396.74,593.43L402.29,596.39L399.14,597.43Z" fill="#0018f7"/><path d="M395.56,593.82L398.71,592.78L404.26,595.75L401.11,596.78Z" fill="#0018f7"/><path d="M397.53,593.17L400.67,592.15L406.23,595.11L403.08,596.13Z" fill="#0018f7"/><path d="M399.5,592.53L402.64,591.52L408.2,594.48L405.05,595.49Z" fill="#0018f7"/><path d="M401.46,591.89L404.61,590.89L410.17,593.86L407.02,594.86Z" fill="#0018f7"/><path d="M403.43,591.27L406.57,590.28L412.14,593.24L408.99,594.23Z" fill="#0018f7"/><path d="M405.39,590.65L407.36,590.03L412.93,593L410.96,593.61Z" fill="#0018f7"/><path d="M116.14,711.47L119.29,710.48L124.18,714.07L121.02,715.05Z" fill="#0019f9"/><path d="M118.11,710.86L121.26,709.86L126.15,713.45L123,714.44Z" fill="#0019f9"/><path d="M120.08,710.23L123.23,709.22L128.13,712.82L124.97,713.82Z" fill="#0019f9"/><path d="M122.05,709.6L125.2,708.58L130.1,712.18L126.94,713.19Z" fill="#0019f9"/><path d="M124.02,708.97L127.17,707.93L132.07,711.53L128.92,712.56Z" fill="#001afa"/><path d="M125.99,708.32L129.14,707.27L134.05,710.88L130.89,711.92Z" fill="#001cfd"/><path d="M127.96,707.67L131.11,706.61L136.02,710.22L132.86,711.27Z" fill="#0020fe"/><path d="M129.93,707.01L133.08,705.94L137.99,709.56L134.84,710.62Z" fill="#0025fd"/><path d="M131.89,706.35L135.04,705.27L139.97,708.89L136.81,709.96Z" fill="#002afc"/><path d="M133.86,705.67L137.01,704.59L141.94,708.21L138.78,709.29Z" fill="#002ffb"/><path d="M135.83,705L138.98,703.9L143.92,707.52L140.76,708.61Z" fill="#0033fb"/><path d="M137.8,704.31L140.95,703.2L145.89,706.83L142.73,707.93Z" fill="#0035fa"/><path d="M139.77,703.62L142.92,702.5L147.86,706.13L144.71,707.24Z" fill="#0036fa"/><path d="M141.74,702.92L144.89,701.8L149.84,705.42L146.68,706.55Z" fill="#003cf9"/><path d="M143.71,702.22L146.86,701.08L151.81,704.71L148.65,705.85Z" fill="#0047f7"/><path d="M145.68,701.51L148.83,700.37L153.78,704L150.63,705.14Z" fill="#0056f4"/><path d="M147.65,700.8L150.8,699.64L155.76,703.27L152.6,704.43Z" fill="#0065f1"/><path d="M149.62,700.08L152.77,698.91L157.73,702.54L154.57,703.71Z" fill="#0073ef"/><path d="M151.58,699.35L154.73,698.18L159.7,701.81L156.55,702.98Z" fill="#007ced"/><path d="M153.55,698.62L156.7,697.44L161.68,701.07L158.52,702.25Z" fill="#0080ed"/><path d="M155.52,697.88L158.67,696.69L163.65,700.32L160.49,701.51Z" fill="#008beb"/><path d="M157.49,697.14L160.64,695.94L165.63,699.57L162.47,700.77Z" fill="#00a3ec"/><path d="M159.46,696.39L162.61,695.18L167.6,698.81L164.44,700.02Z" fill="#00bfed"/><path d="M161.43,695.64L164.58,694.42L169.57,698.05L166.41,699.27Z" fill="#00d9ef"/><path d="M163.4,694.88L166.55,693.66L171.55,697.28L168.39,698.51Z" fill="#00e9ef"/><path d="M165.37,694.12L168.52,692.89L173.52,696.51L170.36,697.74Z" fill="#02ebed"/><path d="M167.34,693.35L170.49,692.11L175.49,695.73L172.34,696.98Z" fill="#11edde"/><path d="M169.3,692.58L172.45,691.33L177.47,694.95L174.31,696.2Z" fill="#27f0c8"/><path d="M171.27,691.8L174.42,690.54L179.44,694.16L176.28,695.42Z" fill="#3ff4b0"/><path d="M173.24,691.02L176.39,689.75L181.41,693.37L178.26,694.64Z" fill="#52f79d"/><path d="M175.21,690.23L178.36,688.96L183.39,692.58L180.23,693.85Z" fill="#5af895"/><path d="M177.18,689.44L180.33,688.16L185.36,691.78L182.2,693.05Z" fill="#5cf893"/><path d="M179.15,688.64L182.3,687.36L187.33,690.97L184.18,692.26Z" fill="#62f98d"/><path d="M181.12,687.84L184.27,686.56L189.31,690.16L186.15,691.45Z" fill="#6ef983"/><path d="M183.09,687.04L186.24,685.75L191.28,689.35L188.12,690.65Z" fill="#7af978"/><path d="M185.06,686.23L188.21,684.93L193.26,688.53L190.1,689.84Z" fill="#86f86e"/><path d="M187.03,685.42L190.18,684.11L195.23,687.71L192.07,689.02Z" fill="#8ff867"/><path d="M188.99,684.61L192.14,683.29L197.2,686.88L194.04,688.2Z" fill="#92f864"/><path d="M190.96,683.79L194.11,682.47L199.18,686.05L196.02,687.38Z" fill="#90f866"/><path d="M192.93,682.96L196.08,681.64L201.15,685.22L197.99,686.55Z" fill="#8af86b"/><path d="M194.9,682.14L198.05,680.81L203.12,684.38L199.97,685.72Z" fill="#81f872"/><path d="M196.87,681.31L200.02,679.97L205.1,683.54L201.94,684.89Z" fill="#77f97b"/><path d="M198.84,680.48L201.99,679.14L207.07,682.7L203.91,684.05Z" fill="#6ef983"/><path d="M200.81,679.64L203.96,678.29L209.04,681.86L205.89,683.21Z" fill="#67f989"/><path d="M202.78,678.8L205.93,677.45L211.02,681.01L207.86,682.36Z" fill="#64f98b"/><path d="M204.75,677.96L207.9,676.6L212.99,680.15L209.83,681.52Z" fill="#5ff990"/><path d="M206.71,677.11L209.86,675.75L214.96,679.3L211.81,680.67Z" fill="#4ef6a1"/><path d="M208.68,676.26L211.83,674.9L216.94,678.44L213.78,679.81Z" fill="#37f3b8"/><path d="M210.65,675.41L213.8,674.05L218.91,677.58L215.75,678.96Z" fill="#1fefd0"/><path d="M212.62,674.56L215.77,673.19L220.89,676.72L217.73,678.1Z" fill="#0bece4"/><path d="M214.59,673.7L217.74,672.33L222.86,675.85L219.7,677.24Z" fill="#00ebef"/><path d="M216.56,672.85L219.71,671.47L224.83,674.98L221.67,676.37Z" fill="#00e6ef"/><path d="M218.53,671.99L221.68,670.6L226.81,674.11L223.65,675.5Z" fill="#00d8ef"/><path d="M220.5,671.12L223.65,669.74L228.78,673.24L225.62,674.63Z" fill="#00c7ee"/><path d="M222.47,670.26L225.62,668.87L230.75,672.36L227.6,673.76Z" fill="#00bced"/><path d="M224.44,669.39L227.59,668L232.73,671.49L229.57,672.89Z" fill="#00baed"/><path d="M226.4,668.52L229.55,667.13L234.7,670.61L231.54,672.01Z" fill="#00b7ed"/><path d="M228.37,667.65L231.52,666.25L236.67,669.73L233.52,671.14Z" fill="#00b2ed"/><path d="M230.34,666.78L233.49,665.38L238.65,668.85L235.49,670.26Z" fill="#00acec"/><path d="M232.31,665.9L235.46,664.5L240.62,667.96L237.46,669.38Z" fill="#00a6ec"/><path d="M234.28,665.03L237.43,663.62L242.59,667.08L239.44,668.49Z" fill="#00a1ec"/><path d="M236.25,664.15L239.4,662.75L244.57,666.19L241.41,667.61Z" fill="#009fec"/><path d="M238.22,663.27L241.37,661.87L246.54,665.3L243.38,666.72Z" fill="#009eeb"/><path d="M240.19,662.39L243.34,660.98L248.52,664.41L245.36,665.84Z" fill="#009deb"/><path d="M242.16,661.51L245.31,660.1L250.49,663.52L247.33,664.95Z" fill="#009beb"/><path d="M244.12,660.63L247.28,659.22L252.46,662.63L249.3,664.06Z" fill="#0098eb"/><path d="M246.09,659.75L249.24,658.33L254.44,661.74L251.28,663.17Z" fill="#0094eb"/><path d="M248.06,658.86L251.21,657.45L256.41,660.85L253.25,662.28Z" fill="#008feb"/><path d="M250.03,657.98L253.18,656.56L258.38,659.95L255.23,661.38Z" fill="#0088eb"/><path d="M252,657.09L255.15,655.68L260.36,659.06L257.2,660.49Z" fill="#007ded"/><path d="M253.97,656.21L257.12,654.79L262.33,658.17L259.17,659.6Z" fill="#006ef0"/><path d="M255.94,655.32L259.09,653.9L264.3,657.27L261.15,658.7Z" fill="#005af4"/><path d="M257.91,654.44L261.06,653.02L266.28,656.38L263.12,657.81Z" fill="#0040f8"/><path d="M259.88,653.55L263.03,652.13L268.25,655.48L265.09,656.91Z" fill="#0026fd"/><path d="M261.85,652.66L265,651.24L270.22,654.59L267.07,656.02Z" fill="#0013f1"/><path d="M263.81,651.77L266.96,650.36L272.2,653.69L269.04,655.12Z" fill="#000ae5"/><path d="M265.78,650.89L268.93,649.47L274.17,652.8L271.01,654.23Z" fill="#000eea"/><path d="M267.75,650L270.9,648.58L276.15,651.9L272.99,653.33Z" fill="#0020fe"/><path d="M269.72,649.11L272.87,647.7L278.12,651.01L274.96,652.44Z" fill="#0040f8"/><path d="M271.69,648.23L274.84,646.81L280.09,650.11L276.94,651.54Z" fill="#0060f2"/><path d="M273.66,647.34L276.81,645.93L282.07,649.22L278.91,650.65Z" fill="#007aee"/><path d="M275.63,646.46L278.78,645.04L284.04,648.33L280.88,649.76Z" fill="#0099eb"/><path d="M277.6,645.57L280.75,644.16L286.01,647.44L282.86,648.86Z" fill="#00bbed"/><path d="M279.57,644.69L282.72,643.27L287.99,646.54L284.83,647.97Z" fill="#00d7ee"/><path d="M281.53,643.8L284.69,642.39L289.96,645.65L286.8,647.08Z" fill="#00e6ef"/><path d="M283.5,642.92L286.65,641.51L291.93,644.77L288.78,646.19Z" fill="#08ece7"/><path d="M285.47,642.04L288.62,640.63L293.91,643.88L290.75,645.3Z" fill="#27f0c8"/><path d="M287.44,641.16L290.59,639.75L295.88,642.99L292.72,644.41Z" fill="#4bf6a4"/><path d="M289.41,640.28L292.56,638.88L297.85,642.11L294.7,643.52Z" fill="#62f98d"/><path d="M291.38,639.4L294.53,638L299.83,641.22L296.67,642.64Z" fill="#69f986"/><path d="M293.35,638.53L296.5,637.13L301.8,640.34L298.64,641.75Z" fill="#7ff875"/><path d="M295.32,637.65L298.47,636.26L303.78,639.46L300.62,640.87Z" fill="#95f862"/><path d="M297.29,636.78L300.44,635.39L305.75,638.58L302.59,639.99Z" fill="#9df75b"/><path d="M299.26,635.91L302.41,634.52L307.72,637.71L304.57,639.11Z" fill="#98f75f"/><path d="M301.22,635.04L304.37,633.65L309.7,636.83L306.54,638.23Z" fill="#90f866"/><path d="M303.19,634.17L306.34,632.79L311.67,635.96L308.51,637.36Z" fill="#85f86f"/><path d="M305.16,633.3L308.31,631.92L313.64,635.09L310.49,636.48Z" fill="#7bf978"/><path d="M307.13,632.44L310.28,631.06L315.62,634.22L312.46,635.61Z" fill="#73f97e"/><path d="M309.1,631.58L312.25,630.2L317.59,633.36L314.43,634.74Z" fill="#70f981"/><path d="M311.07,630.72L314.22,629.35L319.56,632.49L316.41,633.88Z" fill="#68f988"/><path d="M313.04,629.86L316.19,628.5L321.54,631.63L318.38,633.01Z" fill="#57f898"/><path d="M315.01,629.01L318.16,627.65L323.51,630.78L320.35,632.15Z" fill="#42f4ad"/><path d="M316.98,628.16L320.13,626.8L325.49,629.92L322.33,631.29Z" fill="#2af1c5"/><path d="M318.94,627.31L322.1,625.95L327.46,629.07L324.3,630.43Z" fill="#15eeda"/><path d="M320.91,626.46L324.06,625.11L329.43,628.22L326.27,629.58Z" fill="#06ebe9"/><path d="M322.88,625.62L326.03,624.27L331.41,627.38L328.25,628.73Z" fill="#00ebef"/><path d="M324.85,624.78L328,623.44L333.38,626.53L330.22,627.88Z" fill="#00e5ef"/><path d="M326.82,623.94L329.97,622.61L335.35,625.69L332.2,627.04Z" fill="#00d9ef"/><path d="M328.79,623.1L331.94,621.78L337.33,624.86L334.17,626.2Z" fill="#00caee"/><path d="M330.76,622.27L333.91,620.95L339.3,624.03L336.14,625.36Z" fill="#00bded"/><path d="M332.73,621.45L335.88,620.13L341.27,623.2L338.12,624.53Z" fill="#00b6ed"/><path d="M334.7,620.62L337.85,619.31L343.25,622.37L340.09,623.69Z" fill="#00b3ed"/><path d="M336.67,619.8L339.82,618.5L345.22,621.55L342.06,622.87Z" fill="#00acec"/><path d="M338.63,618.98L341.78,617.68L347.19,620.74L344.04,622.05Z" fill="#00a5ec"/><path d="M340.6,618.17L343.75,616.88L349.17,619.92L346.01,621.23Z" fill="#00a3ec"/><path d="M342.57,617.36L345.72,616.07L351.14,619.12L347.98,620.41Z" fill="#009deb"/><path d="M344.54,616.56L347.69,615.28L353.12,618.31L349.96,619.6Z" fill="#0094eb"/><path d="M346.51,615.75L349.66,614.48L355.09,617.51L351.93,618.79Z" fill="#0088eb"/><path d="M348.48,614.96L351.63,613.69L357.06,616.72L353.9,617.99Z" fill="#007ded"/><path d="M350.45,614.16L353.6,612.91L359.04,615.92L355.88,617.19Z" fill="#0075ef"/><path d="M352.42,613.38L355.57,612.12L361.01,615.14L357.85,616.4Z" fill="#0073ef"/><path d="M354.39,612.59L357.54,611.35L362.98,614.36L359.83,615.61Z" fill="#006ef0"/><path d="M356.36,611.81L359.51,610.58L364.96,613.58L361.8,614.83Z" fill="#0066f1"/><path d="M358.32,611.04L361.47,609.81L366.93,612.81L363.77,614.05Z" fill="#005bf3"/><path d="M360.29,610.27L363.44,609.05L368.9,612.04L365.75,613.27Z" fill="#0050f5"/><path d="M362.26,609.5L365.41,608.29L370.88,611.28L367.72,612.5Z" fill="#0047f7"/><path d="M364.23,608.74L367.38,607.54L372.85,610.53L369.69,611.74Z" fill="#0043f8"/><path d="M366.2,607.99L369.35,606.79L374.82,609.78L371.67,610.98Z" fill="#0041f8"/><path d="M368.17,607.24L371.32,606.05L376.8,609.03L373.64,610.22Z" fill="#003cf9"/><path d="M370.14,606.49L373.29,605.31L378.77,608.29L375.61,609.48Z" fill="#0035fa"/><path d="M372.11,605.75L375.26,604.58L380.75,607.56L377.59,608.73Z" fill="#002efc"/><path d="M374.08,605.02L377.23,603.85L382.72,606.83L379.56,608Z" fill="#0027fd"/><path d="M376.04,604.29L379.19,603.13L384.69,606.11L381.53,607.27Z" fill="#0023fe"/><path d="M378.01,603.57L381.16,602.42L386.67,605.39L383.51,606.54Z" fill="#0022fe"/><path d="M379.98,602.85L383.13,601.71L388.64,604.68L385.48,605.82Z" fill="#0022fe"/><path d="M381.95,602.14L385.1,601.01L390.61,603.98L387.46,605.11Z" fill="#0020fe"/><path d="M383.92,601.43L387.07,600.31L392.59,603.28L389.43,604.4Z" fill="#001ffe"/><path d="M385.89,600.73L389.04,599.63L394.56,602.59L391.4,603.7Z" fill="#001dfe"/><path d="M387.86,600.04L391.01,598.94L396.53,601.9L393.38,603Z" fill="#001cfc"/><path d="M389.83,599.35L392.98,598.26L398.51,601.23L395.35,602.31Z" fill="#001afa"/><path d="M391.8,598.67L394.95,597.59L400.48,600.56L397.32,601.63Z" fill="#0019f9"/><path d="M393.77,598L396.92,596.93L402.45,599.89L399.3,600.96Z" fill="#0018f7"/><path d="M395.73,597.33L398.88,596.27L404.43,599.23L401.27,600.29Z" fill="#0018f7"/><path d="M397.7,596.67L400.85,595.62L406.4,598.58L403.24,599.63Z" fill="#0018f7"/><path d="M399.67,596.01L402.82,594.98L408.38,597.94L405.22,598.97Z" fill="#0018f7"/><path d="M401.64,595.36L404.79,594.34L410.35,597.31L407.19,598.33Z" fill="#0018f7"/><path d="M403.61,594.72L406.76,593.71L412.32,596.68L409.16,597.69Z" fill="#0018f7"/><path d="M405.58,594.09L408.73,593.09L414.3,596.06L411.14,597.05Z" fill="#0018f7"/><path d="M407.55,593.46L410.7,592.47L416.27,595.44L413.11,596.43Z" fill="#0018f7"/><path d="M409.52,592.84L411.49,592.23L417.06,595.2L415.09,595.81Z" fill="#0018f7"/><path d="M119.76,714.12L122.91,713.14L127.8,716.72L124.64,717.7Z" fill="#0019f9"/><path d="M121.73,713.51L124.89,712.52L129.78,716.1L126.61,717.09Z" fill="#0019f9"/><path d="M123.7,712.89L126.86,711.88L131.75,715.48L128.59,716.48Z" fill="#0019f9"/><path d="M125.67,712.26L128.83,711.25L133.73,714.84L130.57,715.86Z" fill="#001afa"/><path d="M127.65,711.63L130.8,710.6L135.71,714.2L132.54,715.23Z" fill="#001cfc"/><path d="M129.62,710.99L132.77,709.95L137.68,713.55L134.52,714.59Z" fill="#001ffe"/><path d="M131.59,710.34L134.75,709.29L139.66,712.9L136.5,713.94Z" fill="#0024fd"/><path d="M133.56,709.68L136.72,708.62L141.64,712.24L138.48,713.29Z" fill="#0029fc"/><path d="M135.54,709.02L138.69,707.95L143.62,711.57L140.45,712.63Z" fill="#002efc"/><path d="M137.51,708.35L140.66,707.27L145.59,710.89L142.43,711.97Z" fill="#0032fb"/><path d="M139.48,707.68L142.64,706.58L147.57,710.2L144.41,711.3Z" fill="#0035fa"/><path d="M141.45,706.99L144.61,705.89L149.55,709.51L146.38,710.62Z" fill="#0036fa"/><path d="M143.43,706.3L146.58,705.19L151.52,708.82L148.36,709.93Z" fill="#003af9"/><path d="M145.4,705.61L148.55,704.48L153.5,708.11L150.34,709.24Z" fill="#0044f7"/><path d="M147.37,704.91L150.53,703.77L155.48,707.4L152.31,708.54Z" fill="#0052f5"/><path d="M149.34,704.2L152.5,703.05L157.45,706.69L154.29,707.83Z" fill="#0062f2"/><path d="M151.32,703.49L154.47,702.33L159.43,705.96L156.27,707.12Z" fill="#0070f0"/><path d="M153.29,702.77L156.44,701.6L161.41,705.23L158.25,706.4Z" fill="#007bee"/><path d="M155.26,702.04L158.42,700.87L163.39,704.5L160.22,705.67Z" fill="#007fed"/><path d="M157.23,701.31L160.39,700.13L165.36,703.76L162.2,704.94Z" fill="#0087eb"/><path d="M159.2,700.57L162.36,699.38L167.34,703.01L164.18,704.2Z" fill="#009ceb"/><path d="M161.18,699.83L164.33,698.63L169.32,702.26L166.15,703.46Z" fill="#00b8ed"/><path d="M163.15,699.08L166.31,697.87L171.29,701.5L168.13,702.71Z" fill="#00d3ee"/><path d="M165.12,698.33L168.28,697.11L173.27,700.74L170.11,701.96Z" fill="#00e6ef"/><path d="M167.09,697.57L170.25,696.34L175.25,699.97L172.08,701.2Z" fill="#00ebef"/><path d="M169.07,696.8L172.22,695.57L177.22,699.2L174.06,700.43Z" fill="#0cece3"/><path d="M171.04,696.03L174.19,694.79L179.2,698.42L176.04,699.66Z" fill="#21f0ce"/><path d="M173.01,695.26L176.17,694.01L181.18,697.63L178.02,698.89Z" fill="#39f3b6"/><path d="M174.98,694.48L178.14,693.23L183.16,696.85L179.99,698.11Z" fill="#4ef6a1"/><path d="M176.96,693.7L180.11,692.43L185.13,696.05L181.97,697.32Z" fill="#59f896"/><path d="M178.93,692.91L182.08,691.64L187.11,695.25L183.95,696.53Z" fill="#5bf894"/><path d="M180.9,692.12L184.06,690.84L189.09,694.45L185.92,695.73Z" fill="#61f98e"/><path d="M182.87,691.32L186.03,690.03L191.06,693.64L187.9,694.93Z" fill="#6af986"/><path d="M184.85,690.52L188,689.23L193.04,692.83L189.88,694.13Z" fill="#77f97b"/><path d="M186.82,689.71L189.97,688.41L195.02,692.01L191.85,693.32Z" fill="#83f871"/><path d="M188.79,688.9L191.95,687.6L196.99,691.19L193.83,692.5Z" fill="#8df869"/><path d="M190.76,688.09L193.92,686.78L198.97,690.37L195.81,691.69Z" fill="#92f864"/><path d="M192.74,687.27L195.89,685.95L200.95,689.54L197.79,690.87Z" fill="#91f865"/><path d="M194.71,686.45L197.86,685.12L202.93,688.71L199.76,690.04Z" fill="#8cf869"/><path d="M196.68,685.62L199.84,684.29L204.9,687.87L201.74,689.21Z" fill="#84f870"/><path d="M198.65,684.79L201.81,683.46L206.88,687.03L203.72,688.38Z" fill="#7af979"/><path d="M200.62,683.96L203.78,682.62L208.86,686.19L205.69,687.54Z" fill="#70f981"/><path d="M202.6,683.12L205.75,681.78L210.83,685.34L207.67,686.7Z" fill="#68f987"/><path d="M204.57,682.28L207.73,680.93L212.81,684.49L209.65,685.85Z" fill="#64f98b"/><path d="M206.54,681.44L209.7,680.08L214.79,683.64L211.62,685Z" fill="#61f98e"/><path d="M208.51,680.59L211.67,679.23L216.77,682.78L213.6,684.15Z" fill="#53f79c"/><path d="M210.49,679.74L213.64,678.38L218.74,681.92L215.58,683.3Z" fill="#3df4b2"/><path d="M212.46,678.89L215.61,677.52L220.72,681.06L217.56,682.44Z" fill="#25f0ca"/><path d="M214.43,678.04L217.59,676.66L222.7,680.2L219.53,681.58Z" fill="#0fede0"/><path d="M216.4,677.18L219.56,675.8L224.67,679.33L221.51,680.72Z" fill="#02ebed"/><path d="M218.38,676.32L221.53,674.94L226.65,678.46L223.49,679.85Z" fill="#00e9ef"/><path d="M220.35,675.46L223.5,674.07L228.63,677.59L225.46,678.98Z" fill="#00dcef"/><path d="M222.32,674.59L225.48,673.2L230.6,676.71L227.44,678.11Z" fill="#00cbee"/><path d="M224.29,673.72L227.45,672.33L232.58,675.83L229.42,677.24Z" fill="#00bded"/><path d="M226.27,672.85L229.42,671.46L234.56,674.95L231.39,676.36Z" fill="#00bbed"/><path d="M228.24,671.98L231.39,670.58L236.54,674.07L233.37,675.48Z" fill="#00b8ed"/><path d="M230.21,671.11L233.37,669.71L238.51,673.19L235.35,674.6Z" fill="#00b3ed"/><path d="M232.18,670.23L235.34,668.83L240.49,672.3L237.33,673.72Z" fill="#00adec"/><path d="M234.16,669.36L237.31,667.95L242.47,671.41L239.3,672.83Z" fill="#00a7ec"/><path d="M236.13,668.48L239.28,667.07L244.44,670.52L241.28,671.95Z" fill="#00a2ec"/><path d="M238.1,667.59L241.26,666.18L246.42,669.63L243.26,671.06Z" fill="#009fec"/><path d="M240.07,666.71L243.23,665.3L248.4,668.74L245.23,670.17Z" fill="#009eeb"/><path d="M242.04,665.83L245.2,664.41L250.37,667.85L247.21,669.28Z" fill="#009deb"/><path d="M244.02,664.94L247.17,663.52L252.35,666.95L249.19,668.38Z" fill="#009beb"/><path d="M245.99,664.06L249.15,662.64L254.33,666.06L251.17,667.49Z" fill="#0099eb"/><path d="M247.96,663.17L251.12,661.75L256.31,665.16L253.14,666.6Z" fill="#0095eb"/><path d="M249.93,662.28L253.09,660.86L258.28,664.26L255.12,665.7Z" fill="#0091eb"/><path d="M251.91,661.39L255.06,659.97L260.26,663.37L257.1,664.8Z" fill="#008aeb"/><path d="M253.88,660.5L257.03,659.07L262.24,662.47L259.07,663.9Z" fill="#0082ec"/><path d="M255.85,659.61L259.01,658.18L264.21,661.57L261.05,663.01Z" fill="#0075ef"/><path d="M257.82,658.72L260.98,657.29L266.19,660.67L263.03,662.11Z" fill="#0064f2"/><path d="M259.8,657.83L262.95,656.4L268.17,659.77L265,661.21Z" fill="#004df6"/><path d="M261.77,656.93L264.92,655.51L270.14,658.86L266.98,660.31Z" fill="#0036fa"/><path d="M263.74,656.04L266.9,654.61L272.12,657.96L268.96,659.41Z" fill="#0022fe"/><path d="M265.71,655.15L268.87,653.72L274.1,657.06L270.94,658.5Z" fill="#0017f6"/><path d="M267.69,654.25L270.84,652.83L276.08,656.16L272.91,657.6Z" fill="#0018f7"/><path d="M269.66,653.36L272.81,651.93L278.05,655.26L274.89,656.7Z" fill="#0029fc"/><path d="M271.63,652.47L274.79,651.04L280.03,654.36L276.87,655.8Z" fill="#0045f7"/><path d="M273.6,651.58L276.76,650.15L282.01,653.46L278.84,654.9Z" fill="#0063f2"/><path d="M275.58,650.68L278.73,649.26L283.98,652.56L280.82,654Z" fill="#007bed"/><path d="M277.55,649.79L280.7,648.37L285.96,651.66L282.8,653.1Z" fill="#0097eb"/><path d="M279.52,648.9L282.68,647.48L287.94,650.76L284.77,652.2Z" fill="#00b7ed"/><path d="M281.49,648.01L284.65,646.59L289.91,649.86L286.75,651.3Z" fill="#00d4ee"/><path d="M283.46,647.12L286.62,645.7L291.89,648.97L288.73,650.4Z" fill="#00e5ef"/><path d="M285.44,646.23L288.59,644.81L293.87,648.07L290.71,649.5Z" fill="#04ebeb"/><path d="M287.41,645.34L290.57,643.92L295.85,647.18L292.68,648.61Z" fill="#22f0cd"/><path d="M289.38,644.45L292.54,643.04L297.82,646.28L294.66,647.71Z" fill="#46f5a9"/><path d="M291.35,643.57L294.51,642.15L299.8,645.39L296.64,646.82Z" fill="#60f98f"/><path d="M293.33,642.68L296.48,641.27L301.78,644.5L298.61,645.93Z" fill="#67f988"/><path d="M295.3,641.8L298.45,640.39L303.75,643.61L300.59,645.03Z" fill="#7bf978"/><path d="M297.27,640.92L300.43,639.51L305.73,642.72L302.57,644.14Z" fill="#92f864"/><path d="M299.24,640.04L302.4,638.63L307.71,641.84L304.54,643.25Z" fill="#9df75b"/><path d="M301.22,639.16L304.37,637.75L309.68,640.95L306.52,642.37Z" fill="#99f75e"/><path d="M303.19,638.28L306.34,636.88L311.66,640.07L308.5,641.48Z" fill="#91f865"/><path d="M305.16,637.4L308.32,636.01L313.64,639.19L310.48,640.6Z" fill="#87f86e"/><path d="M307.13,636.53L310.29,635.14L315.62,638.31L312.45,639.72Z" fill="#7cf977"/><path d="M309.11,635.66L312.26,634.27L317.59,637.44L314.43,638.84Z" fill="#74f97e"/><path d="M311.08,634.79L314.23,633.4L319.57,636.56L316.41,637.96Z" fill="#71f980"/><path d="M313.05,633.92L316.21,632.54L321.55,635.69L318.38,637.09Z" fill="#69f987"/><path d="M315.02,633.06L318.18,631.68L323.52,634.82L320.36,636.21Z" fill="#59f896"/><path d="M317,632.19L320.15,630.82L325.5,633.96L322.34,635.34Z" fill="#44f5ab"/><path d="M318.97,631.33L322.12,629.96L327.48,633.09L324.31,634.48Z" fill="#2df1c2"/><path d="M320.94,630.48L324.1,629.11L329.45,632.23L326.29,633.61Z" fill="#17eed8"/><path d="M322.91,629.62L326.07,628.26L331.43,631.38L328.27,632.75Z" fill="#07ece8"/><path d="M324.88,628.77L328.04,627.41L333.41,630.52L330.25,631.89Z" fill="#00ebef"/><path d="M326.86,627.92L330.01,626.57L335.39,629.67L332.22,631.04Z" fill="#00e6ef"/><path d="M328.83,627.08L331.99,625.73L337.36,628.83L334.2,630.18Z" fill="#00daef"/><path d="M330.8,626.23L333.96,624.89L339.34,627.98L336.18,629.33Z" fill="#00cbee"/><path d="M332.77,625.4L335.93,624.06L341.32,627.14L338.15,628.49Z" fill="#00bded"/><path d="M334.75,624.56L337.9,623.23L343.29,626.31L340.13,627.65Z" fill="#00b6ed"/><path d="M336.72,623.73L339.87,622.4L345.27,625.47L342.11,626.81Z" fill="#00b4ed"/><path d="M338.69,622.9L341.85,621.58L347.25,624.64L344.08,625.97Z" fill="#00acec"/><path d="M340.66,622.07L343.82,620.76L349.22,623.82L346.06,625.14Z" fill="#00a5ec"/><path d="M342.64,621.25L345.79,619.95L351.2,623L348.04,624.31Z" fill="#00a3ec"/><path d="M344.61,620.43L347.76,619.13L353.18,622.18L350.02,623.49Z" fill="#009eeb"/><path d="M346.58,619.62L349.74,618.33L355.16,621.37L351.99,622.67Z" fill="#0094eb"/><path d="M348.55,618.81L351.71,617.52L357.13,620.56L353.97,621.85Z" fill="#0088eb"/><path d="M350.53,618.01L353.68,616.73L359.11,619.76L355.95,621.04Z" fill="#007ded"/><path d="M352.5,617.2L355.65,615.93L361.09,618.96L357.92,620.24Z" fill="#0075ef"/><path d="M354.47,616.41L357.63,615.14L363.06,618.16L359.9,619.44Z" fill="#0073ef"/><path d="M356.44,615.62L359.6,614.36L365.04,617.37L361.88,618.64Z" fill="#006ef0"/><path d="M358.42,614.83L361.57,613.58L367.02,616.59L363.85,617.85Z" fill="#0066f1"/><path d="M360.39,614.04L363.54,612.8L368.99,615.81L365.83,617.06Z" fill="#005bf3"/><path d="M362.36,613.27L365.52,612.03L370.97,615.03L367.81,616.27Z" fill="#0050f5"/><path d="M364.33,612.49L367.49,611.27L372.95,614.26L369.79,615.5Z" fill="#0047f7"/><path d="M366.3,611.72L369.46,610.51L374.93,613.5L371.76,614.72Z" fill="#0043f8"/><path d="M368.28,610.96L371.43,609.75L376.9,612.74L373.74,613.96Z" fill="#0041f8"/><path d="M370.25,610.2L373.41,609L378.88,611.99L375.72,613.2Z" fill="#003cf9"/><path d="M372.22,609.45L375.38,608.26L380.86,611.24L377.69,612.44Z" fill="#0035fa"/><path d="M374.19,608.7L377.35,607.52L382.83,610.5L379.67,611.69Z" fill="#002dfc"/><path d="M376.17,607.96L379.32,606.79L384.81,609.76L381.65,610.94Z" fill="#0027fd"/><path d="M378.14,607.22L381.29,606.06L386.79,609.03L383.62,610.2Z" fill="#0023fe"/><path d="M380.11,606.49L383.27,605.34L388.76,608.31L385.6,609.47Z" fill="#0022fe"/><path d="M382.08,605.77L385.24,604.62L390.74,607.59L387.58,608.74Z" fill="#0022fe"/><path d="M384.06,605.05L387.21,603.91L392.72,606.88L389.56,608.02Z" fill="#0020fe"/><path d="M386.03,604.34L389.18,603.21L394.7,606.18L391.53,607.31Z" fill="#001ffe"/><path d="M388,603.63L391.16,602.51L396.67,605.48L393.51,606.6Z" fill="#001dfe"/><path d="M389.97,602.93L393.13,601.82L398.65,604.78L395.49,605.9Z" fill="#001cfc"/><path d="M391.95,602.23L395.1,601.14L400.63,604.1L397.46,605.2Z" fill="#001afa"/><path d="M393.92,601.55L397.07,600.46L402.6,603.42L399.44,604.51Z" fill="#0019f9"/><path d="M395.89,600.86L399.05,599.79L404.58,602.75L401.42,603.83Z" fill="#0018f7"/><path d="M397.86,600.19L401.02,599.12L406.56,602.09L403.39,603.15Z" fill="#0018f7"/><path d="M399.84,599.52L402.99,598.47L408.53,601.43L405.37,602.48Z" fill="#0018f7"/><path d="M401.81,598.86L404.96,597.82L410.51,600.78L407.35,601.82Z" fill="#0018f7"/><path d="M403.78,598.21L406.94,597.17L412.49,600.14L409.33,601.17Z" fill="#0018f7"/><path d="M405.75,597.56L408.91,596.54L414.47,599.5L411.3,600.52Z" fill="#0018f7"/><path d="M407.72,596.92L410.88,595.91L416.44,598.87L413.28,599.88Z" fill="#0018f7"/><path d="M409.7,596.28L412.85,595.29L418.42,598.25L415.26,599.25Z" fill="#0018f7"/><path d="M411.67,595.66L414.83,594.67L420.4,597.64L417.23,598.62Z" fill="#0018f7"/><path d="M413.64,595.04L415.61,594.43L421.19,597.4L419.21,598.01Z" fill="#0018f7"/><path d="M123.37,716.77L126.53,715.79L131.42,719.38L128.25,720.35Z" fill="#0019f9"/><path d="M125.35,716.16L128.51,715.17L133.4,718.76L130.23,719.74Z" fill="#0019f9"/><path d="M127.32,715.55L130.48,714.55L135.38,718.14L132.21,719.13Z" fill="#001af9"/><path d="M129.3,714.92L132.46,713.91L137.36,717.51L134.19,718.52Z" fill="#001bfc"/><path d="M131.27,714.29L134.44,713.27L139.34,716.87L136.17,717.89Z" fill="#001efe"/><path d="M133.25,713.66L136.41,712.62L141.32,716.23L138.15,717.26Z" fill="#0023fe"/><path d="M135.23,713.01L138.39,711.96L143.3,715.57L140.13,716.62Z" fill="#0028fd"/><path d="M137.2,712.36L140.36,711.3L145.28,714.91L142.11,715.97Z" fill="#002dfc"/><path d="M139.18,711.7L142.34,710.63L147.26,714.24L144.09,715.31Z" fill="#0031fb"/><path d="M141.15,711.03L144.32,709.95L149.24,713.57L146.07,714.65Z" fill="#0034fa"/><path d="M143.13,710.36L146.29,709.26L151.22,712.89L148.06,713.98Z" fill="#0036fa"/><path d="M145.11,709.68L148.27,708.57L153.2,712.2L150.04,713.3Z" fill="#0038fa"/><path d="M147.08,708.99L150.24,707.88L155.18,711.5L152.02,712.61Z" fill="#0041f8"/><path d="M149.06,708.3L152.22,707.17L157.17,710.8L154,711.92Z" fill="#004ff6"/><path d="M151.03,707.59L154.19,706.46L159.15,710.09L155.98,711.22Z" fill="#005ef3"/><path d="M153.01,706.89L156.17,705.74L161.13,709.37L157.96,710.52Z" fill="#006df0"/><path d="M154.98,706.17L158.15,705.02L163.11,708.65L159.94,709.81Z" fill="#0078ee"/><path d="M156.96,705.46L160.12,704.29L165.09,707.92L161.92,709.09Z" fill="#007fed"/><path d="M158.94,704.73L162.1,703.56L167.07,707.19L163.9,708.36Z" fill="#0083ec"/><path d="M160.91,704L164.07,702.82L169.05,706.45L165.88,707.63Z" fill="#0096eb"/><path d="M162.89,703.26L166.05,702.07L171.03,705.7L167.86,706.89Z" fill="#00b1ec"/><path d="M164.86,702.52L168.02,701.32L173.01,704.95L169.84,706.15Z" fill="#00cdee"/><path d="M166.84,701.77L170,700.56L174.99,704.19L171.82,705.4Z" fill="#00e3ef"/><path d="M168.82,701.02L171.98,699.8L176.97,703.43L173.8,704.65Z" fill="#00ebef"/><path d="M170.79,700.26L173.95,699.03L178.95,702.66L175.78,703.89Z" fill="#08ece7"/><path d="M172.77,699.49L175.93,698.26L180.93,701.88L177.76,703.12Z" fill="#1befd4"/><path d="M174.74,698.72L177.9,697.48L182.91,701.1L179.74,702.35Z" fill="#33f2bc"/><path d="M176.72,697.95L179.88,696.7L184.89,700.32L181.72,701.57Z" fill="#49f6a6"/><path d="M178.69,697.17L181.86,695.91L186.87,699.53L183.7,700.79Z" fill="#57f898"/><path d="M180.67,696.38L183.83,695.11L188.85,698.73L185.68,700Z" fill="#5af895"/><path d="M182.65,695.59L185.81,694.32L190.83,697.93L187.66,699.21Z" fill="#5ff990"/><path d="M184.62,694.8L187.78,693.51L192.81,697.13L189.64,698.41Z" fill="#67f988"/><path d="M186.6,694L189.76,692.71L194.79,696.32L191.62,697.61Z" fill="#74f97e"/><path d="M188.57,693.19L191.73,691.9L196.77,695.5L193.61,696.8Z" fill="#80f873"/><path d="M190.55,692.38L193.71,691.08L198.75,694.68L195.59,695.99Z" fill="#8af86b"/><path d="M192.52,691.57L195.69,690.26L200.73,693.86L197.57,695.17Z" fill="#91f865"/><path d="M194.5,690.75L197.66,689.44L202.72,693.03L199.55,694.35Z" fill="#92f864"/><path d="M196.48,689.93L199.64,688.61L204.7,692.2L201.53,693.53Z" fill="#8ef868"/><path d="M198.45,689.11L201.61,687.78L206.68,691.36L203.51,692.7Z" fill="#86f86e"/><path d="M200.43,688.28L203.59,686.94L208.66,690.53L205.49,691.87Z" fill="#7cf976"/><path d="M202.4,687.45L205.57,686.11L210.64,689.68L207.47,691.03Z" fill="#73f97f"/><path d="M204.38,686.61L207.54,685.26L212.62,688.84L209.45,690.19Z" fill="#6af986"/><path d="M206.36,685.77L209.52,684.42L214.6,687.99L211.43,689.34Z" fill="#65f98a"/><path d="M208.33,684.93L211.49,683.57L216.58,687.13L213.41,688.5Z" fill="#63f98c"/><path d="M210.31,684.08L213.47,682.72L218.56,686.27L215.39,687.64Z" fill="#58f897"/><path d="M212.28,683.23L215.44,681.86L220.54,685.41L217.37,686.79Z" fill="#43f5ac"/><path d="M214.26,682.38L217.42,681.01L222.52,684.55L219.35,685.93Z" fill="#2bf1c4"/><path d="M216.23,681.52L219.4,680.14L224.5,683.68L221.33,685.07Z" fill="#14eedb"/><path d="M218.21,680.66L221.37,679.28L226.48,682.81L223.31,684.2Z" fill="#04ebeb"/><path d="M220.19,679.8L223.35,678.41L228.46,681.94L225.29,683.34Z" fill="#00eaef"/><path d="M222.16,678.93L225.32,677.55L230.44,681.07L227.27,682.47Z" fill="#00e0ef"/><path d="M224.14,678.07L227.3,676.67L232.42,680.19L229.25,681.59Z" fill="#00cfee"/><path d="M226.11,677.2L229.27,675.8L234.4,679.31L231.23,680.72Z" fill="#00c0ed"/><path d="M228.09,676.33L231.25,674.92L236.38,678.43L233.21,679.84Z" fill="#00bbed"/><path d="M230.07,675.45L233.23,674.05L238.36,677.54L235.19,678.96Z" fill="#00b9ed"/><path d="M232.04,674.57L235.2,673.17L240.34,676.65L237.17,678.07Z" fill="#00b4ed"/><path d="M234.02,673.7L237.18,672.28L242.32,675.77L239.16,677.19Z" fill="#00afec"/><path d="M235.99,672.81L239.15,671.4L244.3,674.87L241.14,676.3Z" fill="#00a9ec"/><path d="M237.97,671.93L241.13,670.52L246.28,673.98L243.12,675.41Z" fill="#00a3ec"/><path d="M239.94,671.05L243.11,669.63L248.27,673.09L245.1,674.52Z" fill="#00a0ec"/><path d="M241.92,670.16L245.08,668.74L250.25,672.19L247.08,673.62Z" fill="#009eeb"/><path d="M243.9,669.27L247.06,667.85L252.23,671.29L249.06,672.73Z" fill="#009eeb"/><path d="M245.87,668.38L249.03,666.96L254.21,670.39L251.04,671.83Z" fill="#009ceb"/><path d="M247.85,667.49L251.01,666.06L256.19,669.49L253.02,670.93Z" fill="#0099eb"/><path d="M249.82,666.6L252.98,665.17L258.17,668.59L255,670.03Z" fill="#0096eb"/><path d="M251.8,665.71L254.96,664.28L260.15,667.69L256.98,669.13Z" fill="#0093eb"/><path d="M253.77,664.81L256.94,663.38L262.13,666.79L258.96,668.23Z" fill="#008eeb"/><path d="M255.75,663.92L258.91,662.48L264.11,665.88L260.94,667.33Z" fill="#0088eb"/><path d="M257.73,663.02L260.89,661.59L266.09,664.98L262.92,666.43Z" fill="#007fed"/><path d="M259.7,662.13L262.86,660.69L268.07,664.07L264.9,665.52Z" fill="#0074ef"/><path d="M261.68,661.23L264.84,659.79L270.05,663.17L266.88,664.62Z" fill="#0064f2"/><path d="M263.65,660.33L266.82,658.89L272.03,662.26L268.86,663.71Z" fill="#0053f5"/><path d="M265.63,659.43L268.79,657.99L274.01,661.35L270.84,662.8Z" fill="#0043f8"/><path d="M267.61,658.53L270.77,657.09L275.99,660.45L272.82,661.9Z" fill="#0039f9"/><path d="M269.58,657.63L272.74,656.2L277.97,659.54L274.8,660.99Z" fill="#0038fa"/><path d="M271.56,656.73L274.72,655.3L279.95,658.63L276.78,660.08Z" fill="#0045f7"/><path d="M273.53,655.84L276.69,654.4L281.93,657.72L278.76,659.18Z" fill="#005af3"/><path d="M275.51,654.94L278.67,653.5L283.91,656.82L280.74,658.27Z" fill="#0072ef"/><path d="M277.48,654.04L280.65,652.6L285.89,655.91L282.72,657.36Z" fill="#0086ec"/><path d="M279.46,653.14L282.62,651.7L287.87,655.01L284.71,656.46Z" fill="#009aeb"/><path d="M281.44,652.24L284.6,650.81L289.85,654.1L286.69,655.55Z" fill="#00b6ed"/><path d="M283.41,651.34L286.57,649.91L291.83,653.2L288.67,654.64Z" fill="#00d2ee"/><path d="M285.39,650.45L288.55,649.01L293.82,652.29L290.65,653.74Z" fill="#00e5ef"/><path d="M287.36,649.55L290.52,648.12L295.8,651.39L292.63,652.83Z" fill="#02ebed"/><path d="M289.34,648.66L292.5,647.23L297.78,650.49L294.61,651.93Z" fill="#1cefd3"/><path d="M291.32,647.76L294.48,646.33L299.76,649.59L296.59,651.03Z" fill="#41f4ae"/><path d="M293.29,646.87L296.45,645.44L301.74,648.69L298.57,650.13Z" fill="#5ef991"/><path d="M295.27,645.98L298.43,644.55L303.72,647.79L300.55,649.23Z" fill="#66f98a"/><path d="M297.24,645.08L300.4,643.66L305.7,646.89L302.53,648.33Z" fill="#78f97b"/><path d="M299.22,644.19L302.38,642.77L307.68,646L304.51,647.43Z" fill="#8ff867"/><path d="M301.19,643.31L304.36,641.89L309.66,645.1L306.49,646.53Z" fill="#9df75b"/><path d="M303.17,642.42L306.33,641L311.64,644.21L308.47,645.64Z" fill="#9af75d"/><path d="M305.15,641.53L308.31,640.12L313.62,643.32L310.45,644.75Z" fill="#92f864"/><path d="M307.12,640.65L310.28,639.24L315.6,642.43L312.43,643.85Z" fill="#88f86d"/><path d="M309.1,639.77L312.26,638.36L317.58,641.55L314.41,642.97Z" fill="#7df976"/><path d="M311.07,638.89L314.23,637.49L319.56,640.66L316.39,642.08Z" fill="#75f97d"/><path d="M313.05,638.01L316.21,636.61L321.54,639.78L318.37,641.19Z" fill="#71f980"/><path d="M315.02,637.14L318.19,635.74L323.52,638.9L320.35,640.31Z" fill="#6bf985"/><path d="M317,636.27L320.16,634.87L325.5,638.03L322.33,639.43Z" fill="#5bf894"/><path d="M318.98,635.4L322.14,634.01L327.48,637.15L324.31,638.55Z" fill="#46f5a9"/><path d="M320.95,634.53L324.11,633.14L329.46,636.28L326.29,637.68Z" fill="#2ff2c0"/><path d="M322.93,633.66L326.09,632.28L331.44,635.41L328.27,636.8Z" fill="#19eed6"/><path d="M324.9,632.8L328.07,631.42L333.42,634.55L330.26,635.93Z" fill="#08ece7"/><path d="M326.88,631.94L330.04,630.57L335.4,633.69L332.24,635.07Z" fill="#00ebef"/><path d="M328.86,631.08L332.02,629.72L337.38,632.83L334.22,634.2Z" fill="#00e7ef"/><path d="M330.83,630.23L333.99,628.87L339.37,631.97L336.2,633.34Z" fill="#00dbef"/><path d="M332.81,629.38L335.97,628.02L341.35,631.12L338.18,632.48Z" fill="#00ccee"/><path d="M334.78,628.53L337.94,627.18L343.33,630.27L340.16,631.63Z" fill="#00beed"/><path d="M336.76,627.69L339.92,626.34L345.31,629.42L342.14,630.78Z" fill="#00b7ed"/><path d="M338.73,626.85L341.9,625.51L347.29,628.58L344.12,629.93Z" fill="#00b4ed"/><path d="M340.71,626.01L343.87,624.68L349.27,627.75L346.1,629.09Z" fill="#00adec"/><path d="M342.69,625.17L345.85,623.85L351.25,626.91L348.08,628.25Z" fill="#00a5ec"/><path d="M344.66,624.34L347.82,623.03L353.23,626.08L350.06,627.41Z" fill="#00a3ec"/><path d="M346.64,623.52L349.8,622.21L355.21,625.26L352.04,626.58Z" fill="#009eeb"/><path d="M348.61,622.7L351.78,621.39L357.19,624.44L354.02,625.75Z" fill="#0094eb"/><path d="M350.59,621.88L353.75,620.58L359.17,623.62L356,624.93Z" fill="#0089eb"/><path d="M352.57,621.07L355.73,619.77L361.15,622.81L357.98,624.11Z" fill="#007ded"/><path d="M354.54,620.26L357.7,618.97L363.13,622L359.96,623.29Z" fill="#0075ef"/><path d="M356.52,619.45L359.68,618.17L365.11,621.2L361.94,622.48Z" fill="#0073ef"/><path d="M358.49,618.65L361.65,617.38L367.09,620.4L363.92,621.68Z" fill="#006ff0"/><path d="M360.47,617.85L363.63,616.59L369.07,619.61L365.9,620.88Z" fill="#0066f1"/><path d="M362.44,617.06L365.61,615.81L371.05,618.82L367.88,620.08Z" fill="#005bf3"/><path d="M364.42,616.28L367.58,615.03L373.03,618.03L369.86,619.29Z" fill="#0050f5"/><path d="M366.4,615.49L369.56,614.25L375.01,617.26L371.84,618.5Z" fill="#0047f7"/><path d="M368.37,614.72L371.53,613.49L376.99,616.48L373.83,617.72Z" fill="#0042f8"/><path d="M370.35,613.95L373.51,612.72L378.97,615.72L375.81,616.95Z" fill="#0041f8"/><path d="M372.32,613.18L375.48,611.97L380.95,614.96L377.79,616.18Z" fill="#003cf9"/><path d="M374.3,612.42L377.46,611.21L382.94,614.2L379.77,615.41Z" fill="#0035fa"/><path d="M376.28,611.66L379.44,610.47L384.92,613.45L381.75,614.65Z" fill="#002dfc"/><path d="M378.25,610.91L381.41,609.73L386.9,612.71L383.73,613.9Z" fill="#0026fd"/><path d="M380.23,610.17L383.39,608.99L388.88,611.97L385.71,613.15Z" fill="#0023fe"/><path d="M382.2,609.43L385.36,608.26L390.86,611.24L387.69,612.41Z" fill="#0022fe"/><path d="M384.18,608.7L387.34,607.54L392.84,610.51L389.67,611.67Z" fill="#0021fe"/><path d="M386.15,607.97L389.32,606.82L394.82,609.79L391.65,610.95Z" fill="#0020fe"/><path d="M388.13,607.25L391.29,606.11L396.8,609.08L393.63,610.22Z" fill="#001ffe"/><path d="M390.11,606.54L393.27,605.41L398.78,608.37L395.61,609.51Z" fill="#001dfe"/><path d="M392.08,605.83L395.24,604.71L400.76,607.67L397.59,608.8Z" fill="#001cfc"/><path d="M394.06,605.13L397.22,604.02L402.74,606.98L399.57,608.09Z" fill="#001afa"/><path d="M396.03,604.43L399.19,603.33L404.72,606.29L401.55,607.4Z" fill="#0019f8"/><path d="M398.01,603.74L401.17,602.65L406.7,605.62L403.53,606.71Z" fill="#0018f7"/><path d="M399.98,603.06L403.15,601.98L408.68,604.94L405.51,606.02Z" fill="#0018f7"/><path d="M401.96,602.38L405.12,601.32L410.66,604.28L407.49,605.35Z" fill="#0018f7"/><path d="M403.94,601.72L407.1,600.66L412.64,603.62L409.47,604.68Z" fill="#0018f7"/><path d="M405.91,601.05L409.07,600.01L414.62,602.97L411.45,604.02Z" fill="#0018f7"/><path d="M407.89,600.4L411.05,599.37L416.6,602.33L413.43,603.36Z" fill="#0018f7"/><path d="M409.86,599.75L413.03,598.73L418.58,601.7L415.41,602.71Z" fill="#0018f7"/><path d="M411.84,599.11L415,598.1L420.56,601.07L417.39,602.08Z" fill="#0018f7"/><path d="M413.82,598.48L416.98,597.48L422.54,600.45L419.38,601.44Z" fill="#0018f7"/><path d="M415.79,597.86L418.95,596.87L424.52,599.84L421.36,600.82Z" fill="#0018f7"/><path d="M417.77,597.24L419.74,596.63L425.32,599.6L423.34,600.2Z" fill="#0018f7"/><path d="M126.99,719.42L130.15,718.45L133.77,721.1L130.6,722.07Z" fill="#0019f9"/><path d="M128.96,718.82L132.13,717.83L135.75,720.49L132.58,721.47Z" fill="#001af9"/><path d="M130.94,718.2L134.11,717.21L137.74,719.87L134.57,720.86Z" fill="#001bfb"/><path d="M132.92,717.58L136.09,716.58L139.72,719.24L136.55,720.25Z" fill="#001dfe"/><path d="M134.9,716.96L138.07,715.94L141.7,718.61L138.53,719.62Z" fill="#0022fe"/><path d="M136.88,716.32L140.05,715.29L143.69,717.96L140.51,718.99Z" fill="#0027fd"/><path d="M138.86,715.68L142.03,714.64L145.67,717.31L142.5,718.35Z" fill="#002cfc"/><path d="M140.84,715.03L144.01,713.98L147.65,716.65L144.48,717.7Z" fill="#0030fb"/><path d="M142.82,714.37L145.99,713.31L149.63,715.99L146.46,717.05Z" fill="#0034fa"/><path d="M144.8,713.71L147.97,712.63L151.62,715.31L148.44,716.39Z" fill="#0036fa"/><path d="M146.78,713.04L149.94,711.95L153.6,714.63L150.43,715.72Z" fill="#0037fa"/><path d="M148.76,712.36L151.92,711.26L155.58,713.94L152.41,715.04Z" fill="#003ff8"/><path d="M150.74,711.67L153.9,710.56L157.56,713.25L154.39,714.36Z" fill="#004bf6"/><path d="M152.72,710.98L155.88,709.86L159.55,712.55L156.37,713.67Z" fill="#005af3"/><path d="M154.7,710.28L157.86,709.15L161.53,711.84L158.36,712.97Z" fill="#0069f1"/><path d="M156.67,709.58L159.84,708.43L163.51,711.12L160.34,712.26Z" fill="#0076ee"/><path d="M158.65,708.86L161.82,707.71L165.49,710.4L162.32,711.55Z" fill="#007eed"/><path d="M160.63,708.15L163.8,706.98L167.48,709.67L164.31,710.84Z" fill="#0081ec"/><path d="M162.61,707.42L165.78,706.25L169.46,708.94L166.29,710.11Z" fill="#0090eb"/><path d="M164.59,706.69L167.76,705.51L171.44,708.2L168.27,709.38Z" fill="#00aaec"/><path d="M166.57,705.95L169.74,704.76L173.43,707.45L170.25,708.64Z" fill="#00c6ee"/><path d="M168.55,705.21L171.72,704.01L175.41,706.7L172.24,707.9Z" fill="#00deef"/><path d="M170.53,704.46L173.7,703.25L177.39,705.94L174.22,707.15Z" fill="#00eaef"/><path d="M172.51,703.71L175.67,702.49L179.37,705.17L176.2,706.39Z" fill="#05ebea"/><path d="M174.49,702.95L177.65,701.72L181.36,704.4L178.18,705.63Z" fill="#16eed9"/><path d="M176.47,702.18L179.63,700.94L183.34,703.63L180.17,704.87Z" fill="#2df1c2"/><path d="M178.45,701.41L181.61,700.16L185.32,702.85L182.15,704.09Z" fill="#44f5ab"/><path d="M180.43,700.63L183.59,699.38L187.3,702.06L184.13,703.32Z" fill="#55f79a"/><path d="M182.4,699.85L185.57,698.59L189.29,701.27L186.11,702.53Z" fill="#5af895"/><path d="M184.38,699.06L187.55,697.79L191.27,700.47L188.1,701.74Z" fill="#5df992"/><path d="M186.36,698.27L189.53,696.99L193.25,699.67L190.08,700.95Z" fill="#64f98b"/><path d="M188.34,697.47L191.51,696.19L195.23,698.86L192.06,700.15Z" fill="#70f981"/><path d="M190.32,696.67L193.49,695.38L197.22,698.05L194.05,699.35Z" fill="#7df976"/><path d="M192.3,695.87L195.47,694.57L199.2,697.24L196.03,698.54Z" fill="#88f86d"/><path d="M194.28,695.06L197.45,693.75L201.18,696.42L198.01,697.73Z" fill="#90f866"/><path d="M196.26,694.24L199.43,692.93L203.17,695.59L199.99,696.91Z" fill="#92f864"/><path d="M198.24,693.42L201.41,692.1L205.15,694.76L201.98,696.09Z" fill="#8ff867"/><path d="M200.22,692.6L203.38,691.27L207.13,693.93L203.96,695.26Z" fill="#88f86c"/><path d="M202.2,691.77L205.36,690.44L209.11,693.09L205.94,694.43Z" fill="#7ff874"/><path d="M204.18,690.94L207.34,689.6L211.1,692.25L207.92,693.59Z" fill="#75f97d"/><path d="M206.16,690.1L209.32,688.76L213.08,691.4L209.91,692.76Z" fill="#6cf984"/><path d="M208.13,689.26L211.3,687.91L215.06,690.55L211.89,691.91Z" fill="#66f98a"/><path d="M210.11,688.42L213.28,687.06L217.04,689.7L213.87,691.06Z" fill="#63f98c"/><path d="M212.09,687.57L215.26,686.21L219.03,688.85L215.85,690.21Z" fill="#5cf893"/><path d="M214.07,686.72L217.24,685.35L221.01,687.99L217.84,689.36Z" fill="#49f6a6"/><path d="M216.05,685.87L219.22,684.49L222.99,687.12L219.82,688.5Z" fill="#31f2be"/><path d="M218.03,685.01L221.2,683.63L224.97,686.26L221.8,687.64Z" fill="#19eed6"/><path d="M220.01,684.15L223.18,682.77L226.96,685.39L223.79,686.78Z" fill="#07ece8"/><path d="M221.99,683.29L225.16,681.9L228.94,684.51L225.77,685.91Z" fill="#00ebef"/><path d="M223.97,682.42L227.14,681.03L230.92,683.64L227.75,685.04Z" fill="#00e3ef"/><path d="M225.95,681.55L229.11,680.15L232.91,682.76L229.73,684.16Z" fill="#00d3ee"/><path d="M227.93,680.68L231.09,679.28L234.89,681.88L231.72,683.29Z" fill="#00c3ed"/><path d="M229.91,679.8L233.07,678.4L236.87,681L233.7,682.41Z" fill="#00bbed"/><path d="M231.89,678.93L235.05,677.52L238.85,680.11L235.68,681.53Z" fill="#00baed"/><path d="M233.86,678.05L237.03,676.64L240.84,679.22L237.66,680.64Z" fill="#00b6ed"/><path d="M235.84,677.17L239.01,675.75L242.82,678.33L239.65,679.76Z" fill="#00b0ec"/><path d="M237.82,676.28L240.99,674.86L244.8,677.44L241.63,678.87Z" fill="#00aaec"/><path d="M239.8,675.4L242.97,673.97L246.78,676.55L243.61,677.98Z" fill="#00a5ec"/><path d="M241.78,674.51L244.95,673.08L248.77,675.65L245.59,677.08Z" fill="#00a0ec"/><path d="M243.76,673.62L246.93,672.19L250.75,674.75L247.58,676.19Z" fill="#009fec"/><path d="M245.74,672.73L248.91,671.3L252.73,673.85L249.56,675.29Z" fill="#009eeb"/><path d="M247.72,671.83L250.89,670.4L254.71,672.95L251.54,674.39Z" fill="#009ceb"/><path d="M249.7,670.94L252.87,669.5L256.7,672.05L253.53,673.49Z" fill="#009aeb"/><path d="M251.68,670.04L254.84,668.61L258.68,671.15L255.51,672.59Z" fill="#0097eb"/><path d="M253.66,669.14L256.82,667.71L260.66,670.24L257.49,671.69Z" fill="#0094eb"/><path d="M255.64,668.25L258.8,666.81L262.65,669.33L259.47,670.78Z" fill="#0091eb"/><path d="M257.62,667.35L260.78,665.9L264.63,668.43L261.46,669.88Z" fill="#008deb"/><path d="M259.59,666.45L262.76,665L266.61,667.52L263.44,668.97Z" fill="#0088eb"/><path d="M261.57,665.54L264.74,664.1L268.59,666.61L265.42,668.06Z" fill="#0082ec"/><path d="M263.55,664.64L266.72,663.2L270.58,665.7L267.4,667.16Z" fill="#0079ee"/><path d="M265.53,663.74L268.7,662.29L272.56,664.79L269.39,666.25Z" fill="#006ff0"/><path d="M267.51,662.83L270.68,661.39L274.54,663.88L271.37,665.34Z" fill="#0065f1"/><path d="M269.49,661.93L272.66,660.48L276.52,662.97L273.35,664.43Z" fill="#005ef3"/><path d="M271.47,661.02L274.64,659.58L278.51,662.06L275.33,663.52Z" fill="#005cf3"/><path d="M273.45,660.12L276.62,658.67L280.49,661.15L277.32,662.61Z" fill="#0064f2"/><path d="M275.43,659.22L278.6,657.77L282.47,660.24L279.3,661.7Z" fill="#0074ef"/><path d="M277.41,658.31L280.57,656.86L284.45,659.33L281.28,660.78Z" fill="#0085ec"/><path d="M279.39,657.41L282.55,655.96L286.44,658.42L283.27,659.87Z" fill="#0093eb"/><path d="M281.37,656.5L284.53,655.05L288.42,657.51L285.25,658.96Z" fill="#00a0ec"/><path d="M283.35,655.6L286.51,654.15L290.4,656.6L287.23,658.05Z" fill="#00b7ed"/><path d="M285.32,654.69L288.49,653.25L292.39,655.69L289.21,657.14Z" fill="#00d0ee"/><path d="M287.3,653.79L290.47,652.34L294.37,654.78L291.2,656.23Z" fill="#00e4ef"/><path d="M289.28,652.89L292.45,651.44L296.35,653.87L293.18,655.32Z" fill="#00ebef"/><path d="M291.26,651.98L294.43,650.54L298.33,652.96L295.16,654.41Z" fill="#17eed8"/><path d="M293.24,651.08L296.41,649.64L300.32,652.06L297.14,653.51Z" fill="#3bf3b4"/><path d="M295.22,650.18L298.39,648.74L302.3,651.15L299.13,652.6Z" fill="#5af895"/><path d="M297.2,649.28L300.37,647.84L304.28,650.25L301.11,651.7Z" fill="#64f98b"/><path d="M299.18,648.38L302.35,646.95L306.26,649.35L303.09,650.79Z" fill="#74f97e"/><path d="M301.16,647.49L304.33,646.05L308.25,648.45L305.07,649.89Z" fill="#8cf869"/><path d="M303.14,646.59L306.3,645.16L310.23,647.55L307.06,648.99Z" fill="#9cf75c"/><path d="M305.12,645.7L308.28,644.27L312.21,646.65L309.04,648.09Z" fill="#9bf75d"/><path d="M307.1,644.8L310.26,643.38L314.19,645.75L311.02,647.19Z" fill="#94f863"/><path d="M309.08,643.91L312.24,642.49L316.18,644.86L313.01,646.29Z" fill="#8af86b"/><path d="M311.05,643.02L314.22,641.61L318.16,643.97L314.99,645.4Z" fill="#7ff874"/><path d="M313.03,642.14L316.2,640.72L320.14,643.08L316.97,644.5Z" fill="#76f97c"/><path d="M315.01,641.25L318.18,639.84L322.13,642.19L318.95,643.61Z" fill="#71f980"/><path d="M316.99,640.37L320.16,638.96L324.11,641.31L320.94,642.72Z" fill="#6cf984"/><path d="M318.97,639.49L322.14,638.08L326.09,640.42L322.92,641.84Z" fill="#5df892"/><path d="M320.95,638.61L324.12,637.21L328.07,639.54L324.9,640.95Z" fill="#49f5a6"/><path d="M322.93,637.73L326.1,636.34L330.06,638.67L326.88,640.07Z" fill="#31f2be"/><path d="M324.91,636.86L328.08,635.47L332.04,637.79L328.87,639.19Z" fill="#1befd4"/><path d="M326.89,635.99L330.06,634.6L334.02,636.92L330.85,638.32Z" fill="#09ece6"/><path d="M328.87,635.12L332.03,633.74L336,636.05L332.83,637.44Z" fill="#00ebef"/><path d="M330.85,634.26L334.01,632.88L337.99,635.19L334.81,636.57Z" fill="#00e8ef"/><path d="M332.83,633.39L335.99,632.02L339.97,634.32L336.8,635.7Z" fill="#00dcef"/><path d="M334.81,632.53L337.97,631.17L341.95,633.46L338.78,634.84Z" fill="#00cdee"/><path d="M336.78,631.68L339.95,630.32L343.93,632.61L340.76,633.98Z" fill="#00bfed"/><path d="M338.76,630.83L341.93,629.47L345.92,631.76L342.75,633.12Z" fill="#00b7ed"/><path d="M340.74,629.98L343.91,628.63L347.9,630.91L344.73,632.27Z" fill="#00b4ed"/><path d="M342.72,629.13L345.89,627.79L349.88,630.06L346.71,631.42Z" fill="#00adec"/><path d="M344.7,628.29L347.87,626.95L351.87,629.22L348.69,630.57Z" fill="#00a6ec"/><path d="M346.68,627.45L349.85,626.12L353.85,628.39L350.68,629.73Z" fill="#00a3ec"/><path d="M348.66,626.62L351.83,625.29L355.83,627.55L352.66,628.89Z" fill="#009eeb"/><path d="M350.64,625.79L353.81,624.47L357.81,626.73L354.64,628.05Z" fill="#0095eb"/><path d="M352.62,624.96L355.79,623.65L359.8,625.9L356.62,627.22Z" fill="#0089eb"/><path d="M354.6,624.14L357.76,622.83L361.78,625.08L358.61,626.4Z" fill="#007eed"/><path d="M356.58,623.32L359.74,622.02L363.76,624.27L360.59,625.57Z" fill="#0075ef"/><path d="M358.56,622.51L361.72,621.21L365.74,623.46L362.57,624.76Z" fill="#0073ef"/><path d="M360.54,621.7L363.7,620.41L367.73,622.65L364.55,623.94Z" fill="#006ff0"/><path d="M362.52,620.89L365.68,619.62L369.71,621.85L366.54,623.14Z" fill="#0066f1"/><path d="M364.49,620.09L367.66,618.82L371.69,621.06L368.52,622.33Z" fill="#005bf3"/><path d="M366.47,619.3L369.64,618.04L373.67,620.27L370.5,621.53Z" fill="#0050f5"/><path d="M368.45,618.51L371.62,617.25L375.66,619.48L372.49,620.74Z" fill="#0047f7"/><path d="M370.43,617.72L373.6,616.48L377.64,618.7L374.47,619.95Z" fill="#0042f8"/><path d="M372.41,616.94L375.58,615.71L379.62,617.93L376.45,619.17Z" fill="#0041f8"/><path d="M374.39,616.17L377.56,614.94L381.61,617.16L378.43,618.39Z" fill="#003cf9"/><path d="M376.37,615.4L379.54,614.18L383.59,616.4L380.42,617.62Z" fill="#0035fa"/><path d="M378.35,614.64L381.52,613.43L385.57,615.64L382.4,616.85Z" fill="#002dfc"/><path d="M380.33,613.88L383.49,612.68L387.55,614.89L384.38,616.09Z" fill="#0026fd"/><path d="M382.31,613.13L385.47,611.93L389.54,614.14L386.36,615.34Z" fill="#0023fe"/><path d="M384.29,612.38L387.45,611.2L391.52,613.4L388.35,614.59Z" fill="#0022fe"/><path d="M386.27,611.64L389.43,610.47L393.5,612.67L390.33,613.84Z" fill="#0021fe"/><path d="M388.25,610.9L391.41,609.74L395.48,611.94L392.31,613.11Z" fill="#0020fe"/><path d="M390.22,610.17L393.39,609.02L397.47,611.22L394.29,612.38Z" fill="#001ffe"/><path d="M392.2,609.45L395.37,608.31L399.45,610.51L396.28,611.65Z" fill="#001dfe"/><path d="M394.18,608.74L397.35,607.6L401.43,609.8L398.26,610.94Z" fill="#001bfc"/><path d="M396.16,608.03L399.33,606.9L403.41,609.1L400.24,610.22Z" fill="#001afa"/><path d="M398.14,607.32L401.31,606.21L405.4,608.41L402.23,609.52Z" fill="#0019f8"/><path d="M400.12,606.63L403.29,605.53L407.38,607.72L404.21,608.82Z" fill="#0018f7"/><path d="M402.1,605.94L405.27,604.85L409.36,607.04L406.19,608.13Z" fill="#0018f7"/><path d="M404.08,605.25L407.25,604.18L411.35,606.37L408.17,607.45Z" fill="#0018f7"/><path d="M406.06,604.58L409.23,603.51L413.33,605.71L410.16,606.77Z" fill="#0018f7"/><path d="M408.04,603.91L411.2,602.85L415.31,605.05L412.14,606.1Z" fill="#0018f7"/><path d="M410.02,603.25L413.18,602.2L417.29,604.4L414.12,605.44Z" fill="#0018f7"/><path d="M412,602.59L415.16,601.56L419.28,603.76L416.1,604.79Z" fill="#0018f7"/><path d="M413.98,601.95L417.14,600.93L421.26,603.12L418.09,604.14Z" fill="#0018f7"/><path d="M415.95,601.31L419.12,600.3L423.24,602.5L420.07,603.5Z" fill="#0018f7"/><path d="M417.93,600.68L421.1,599.68L425.22,601.88L422.05,602.87Z" fill="#0018f7"/><path d="M419.91,600.05L423.08,599.07L427.21,601.27L424.03,602.25Z" fill="#0018f7"/><path d="M421.89,599.44L423.87,598.83L428,601.03L426.02,601.63Z" fill="#0018f7"/></g>
<polyline points="105.3,703.53 112.64,701.14 119.99,698.65 127.33,696.09 134.68,693.45 142.03,690.73 149.37,687.95 156.72,685.1 164.06,682.19 171.41,679.22 178.75,676.21 186.1,673.15 193.44,670.05 200.79,666.91 208.13,663.74 215.48,660.55 222.82,657.33 230.16,654.1 237.51,650.85 244.86,647.59 252.2,644.33 259.55,641.08 266.89,637.82 274.24,634.58 281.58,631.36 288.93,628.15 296.27,624.97 303.62,621.82 310.96,618.7 318.31,615.62 325.65,612.58 333,609.6 340.34,606.66 347.69,603.78 355.03,600.97 362.38,598.22 369.72,595.54 377.07,592.94 384.41,590.41 391.75,587.98 399.1,585.63" fill="none" stroke="#2040c0" stroke-width="0.5" opacity="0.5"/>
<line x1="114.7" y1="733.5" x2="114.7" y2="725.5" stroke="#3070d0" stroke-width="0.9"/>
<polygon points="114.7,724.2 113.4,726.8 116,726.8" fill="#3070d0"/>
<line x1="114.7" y1="733.5" x2="108.8" y2="731.4" stroke="#40b040" stroke-width="0.9"/>
<line x1="114.7" y1="733.5" x2="123" y2="732.2" stroke="#d04070" stroke-width="0.9"/>
<polygon points="124.4,732 121.8,730.8 122.2,733.5" fill="#d04070"/>
<text x="112.6" y="724.3" font-size="6.5" fill="#333" text-anchor="start" font-weight="normal" >z</text>
<text x="102.6" y="731.6" font-size="6.5" fill="#333" text-anchor="start" font-weight="normal" >y</text>
<text x="124.8" y="734" font-size="6.5" fill="#333" text-anchor="start" font-weight="normal" >x</text>
<defs><linearGradient id="cb" x1="0" y1="1" x2="0" y2="0"><stop offset="0" stop-color="#0a00d8"/><stop offset="0.08" stop-color="#0020ff"/><stop offset="0.18" stop-color="#0078ff"/><stop offset="0.32" stop-color="#00e8f5"/><stop offset="0.48" stop-color="#70fa78"/><stop offset="0.64" stop-color="#fafa00"/><stop offset="0.8" stop-color="#ff8c00"/><stop offset="1.0" stop-color="#e81010"/></linearGradient></defs>
<rect x="449.4" y="596.9" width="5.8" height="132.5" fill="url(#cb)"/>
<line x1="455.6" y1="596.9" x2="455.6" y2="729.4" stroke="#ccc" stroke-width="0.4"/>
<line x1="449.4" y1="601.5" x2="451" y2="601.5" stroke="#555" stroke-width="0.4"/>
<line x1="453.6" y1="601.5" x2="455.2" y2="601.5" stroke="#555" stroke-width="0.4"/>
<text x="457.7" y="604.1" font-size="7.3" fill="#222" text-anchor="start" font-weight="normal" >3</text>
<line x1="449.4" y1="623.2" x2="451" y2="623.2" stroke="#555" stroke-width="0.4"/>
<line x1="453.6" y1="623.2" x2="455.2" y2="623.2" stroke="#555" stroke-width="0.4"/>
<text x="457.7" y="625.8" font-size="7.3" fill="#222" text-anchor="start" font-weight="normal" >2.5</text>
<line x1="449.4" y1="644.2" x2="451" y2="644.2" stroke="#555" stroke-width="0.4"/>
<line x1="453.6" y1="644.2" x2="455.2" y2="644.2" stroke="#555" stroke-width="0.4"/>
<text x="457.7" y="646.8" font-size="7.3" fill="#222" text-anchor="start" font-weight="normal" >2</text>
<line x1="449.4" y1="665.6" x2="451" y2="665.6" stroke="#555" stroke-width="0.4"/>
<line x1="453.6" y1="665.6" x2="455.2" y2="665.6" stroke="#555" stroke-width="0.4"/>
<text x="457.7" y="668.2" font-size="7.3" fill="#222" text-anchor="start" font-weight="normal" >1.5</text>
<line x1="449.4" y1="686.9" x2="451" y2="686.9" stroke="#555" stroke-width="0.4"/>
<line x1="453.6" y1="686.9" x2="455.2" y2="686.9" stroke="#555" stroke-width="0.4"/>
<text x="457.7" y="689.5" font-size="7.3" fill="#222" text-anchor="start" font-weight="normal" >1</text>
<line x1="449.4" y1="707.9" x2="451" y2="707.9" stroke="#555" stroke-width="0.4"/>
<line x1="453.6" y1="707.9" x2="455.2" y2="707.9" stroke="#555" stroke-width="0.4"/>
<text x="457.7" y="710.5" font-size="7.3" fill="#222" text-anchor="start" font-weight="normal" >0.5</text>
<line x1="449.4" y1="729.4" x2="451" y2="729.4" stroke="#555" stroke-width="0.4"/>
<line x1="453.6" y1="729.4" x2="455.2" y2="729.4" stroke="#555" stroke-width="0.4"/>
<text x="457.7" y="732" font-size="7.3" fill="#222" text-anchor="start" font-weight="normal" >0</text>
<polygon points="444.5,582.7 448.4,577.3 452.2,582.7" fill="#111"/>
<polygon points="445,735.6 452.2,735.6 448.6,741.2" fill="#111"/>
<text x="455.6" y="741.2" font-size="6.4" fill="#222" text-anchor="start" font-weight="normal" >0</text>
<text x="454.9" y="572.8" font-size="7.4" fill="#222" text-anchor="start" font-weight="normal" textLength="15.5" lengthAdjust="spacingAndGlyphs">N/m</text>
<text x="471" y="569.6" font-size="5.0" fill="#222" text-anchor="start" font-weight="normal" >2</text>
<text x="455.2" y="583" font-size="6.8" fill="#222" text-anchor="start" font-weight="normal" textLength="32.7" lengthAdjust="spacingAndGlyphs">3.12×10</text>
<text x="487.6" y="579.8" font-size="5.0" fill="#222" text-anchor="start" font-weight="normal" >7</text>
<text x="455.2" y="591.6" font-size="6.8" fill="#222" text-anchor="start" font-weight="normal" textLength="15.2" lengthAdjust="spacingAndGlyphs">×10</text>
<text x="470.8" y="588.4" font-size="5.0" fill="#222" text-anchor="start" font-weight="normal" >7</text>
</svg></body></html>
